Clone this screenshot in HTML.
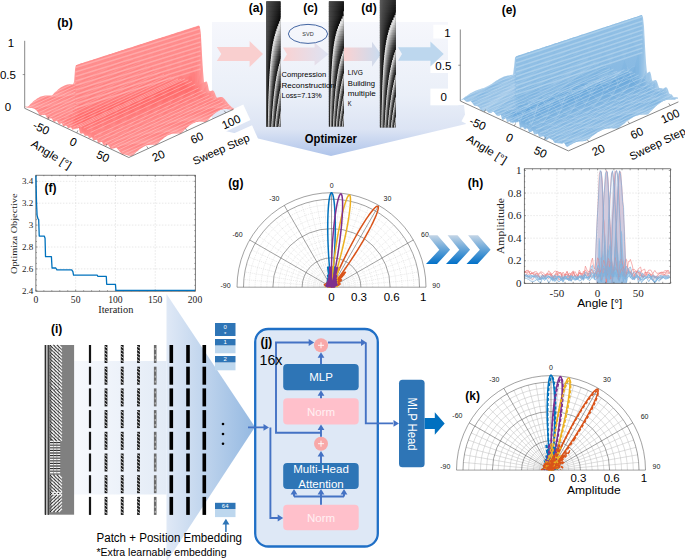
<!DOCTYPE html>
<html><head><meta charset="utf-8"><style>
html,body{margin:0;padding:0;background:#fff;}
svg{display:block;}
</style></head><body>
<svg width="685" height="560" viewBox="0 0 685 560">
<rect width="685" height="560" fill="#fff"/>
<linearGradient id="bandg" x1="0" y1="22" x2="0" y2="156" gradientUnits="userSpaceOnUse"><stop offset="0" stop-color="#F6F7FC"/><stop offset="0.55" stop-color="#EAEFF8"/><stop offset="0.8" stop-color="#DCE4F4"/><stop offset="1" stop-color="#AFC4EA"/></linearGradient>
<polygon points="212,22 448,22 448,105 464,105 466,124 331,156 256,138 212,128" fill="url(#bandg)"/>
<rect x="203" y="113.5" width="46" height="17" fill="#fff" transform="rotate(-25 226 122)"/>
<rect x="183" y="140" width="76" height="18" fill="#fff" transform="rotate(-24 221 149)"/>
<rect x="433.3" y="24.7" width="24" height="13.8" fill="#fff"/>
<rect x="430.4" y="60" width="26" height="13" fill="#fff"/>
<rect x="430.4" y="88.6" width="28" height="16.7" fill="#fff"/>
<rect x="463" y="115" width="30" height="14" fill="#fff" transform="rotate(28 478 122)"/>
<rect x="462" y="140.5" width="52" height="15" fill="#fff" transform="rotate(31.5 488 148)"/>
<linearGradient id="ar2" x1="0" x2="1"><stop offset="0" stop-color="#FAD2D2"/><stop offset="1" stop-color="#DDE3F3"/></linearGradient>
<linearGradient id="ar3" x1="0" x2="1"><stop offset="0" stop-color="#FAD2D2"/><stop offset="1" stop-color="#C9DCF0"/></linearGradient>
<polygon points="216.8,47.1 249.6,47.1 249.6,41.1 263,54 249.6,66.9 249.6,60.9 216.8,60.9 221.3,54" fill="#F9CFCF"/>
<polygon points="283,47.4 314.6,47.4 314.6,42.8 328.5,54.2 314.6,65.6 314.6,61 283,61 287,54.2" fill="url(#ar2)"/>
<polygon points="344,47.5 372,47.5 372,41.7 381,54.2 372,66.7 372,60.9 344,60.9 344,54.2" fill="url(#ar3)"/>
<polygon points="398,47.3 430.4,47.3 430.4,41.4 443.7,54 430.4,66.6 430.4,60.7 398,60.7 402,54" fill="#BDD7EE"/>
<linearGradient id="fringe" x1="0" x2="1"><stop offset="0" stop-color="#f4f4f4"/><stop offset="0.25" stop-color="#a0a0a0"/><stop offset="0.6" stop-color="#484848"/><stop offset="1" stop-color="#080808"/></linearGradient>
<clipPath id="s1c"><rect x="266.2" y="1.2" width="14.4" height="125.5"/></clipPath>
<g clip-path="url(#s1c)">
<rect x="266.2" y="1.2" width="14.4" height="125.5" fill="#0a0a0a"/>
<g fill="url(#fringe)"><rect x="240.74" y="1.2" width="46.3" height="3.1"/><rect x="242.42" y="3.7" width="43.23" height="3.1"/><rect x="243.9" y="6.2" width="40.55" height="3.1"/><rect x="245.2" y="8.7" width="38.18" height="3.1"/><rect x="246.36" y="11.2" width="36.07" height="3.1"/><rect x="247.4" y="13.7" width="34.18" height="3.1"/><rect x="248.34" y="16.2" width="32.48" height="3.1"/><rect x="249.14" y="18.7" width="31.01" height="3.1"/><rect x="280.15" y="18.7" width="31.01" height="3.1"/><rect x="250.27" y="21.2" width="28.96" height="3.1"/><rect x="279.23" y="21.2" width="28.96" height="3.1"/><rect x="251.47" y="23.7" width="26.78" height="3.1"/><rect x="278.25" y="23.7" width="26.78" height="3.1"/><rect x="252.63" y="26.2" width="24.67" height="3.1"/><rect x="277.3" y="26.2" width="24.67" height="3.1"/><rect x="253.72" y="28.7" width="22.7" height="3.1"/><rect x="276.41" y="28.7" width="22.7" height="3.1"/><rect x="254.7" y="31.2" width="20.91" height="3.1"/><rect x="275.61" y="31.2" width="20.91" height="3.1"/><rect x="255.59" y="33.7" width="19.29" height="3.1"/><rect x="274.88" y="33.7" width="19.29" height="3.1"/><rect x="256.39" y="36.2" width="17.84" height="3.1"/><rect x="274.23" y="36.2" width="17.84" height="3.1"/><rect x="257.1" y="38.7" width="16.54" height="3.1"/><rect x="273.64" y="38.7" width="16.54" height="3.1"/><rect x="257.75" y="41.2" width="15.37" height="3.1"/><rect x="273.12" y="41.2" width="15.37" height="3.1"/><rect x="258.32" y="43.7" width="14.32" height="3.1"/><rect x="272.65" y="43.7" width="14.32" height="3.1"/><rect x="258.84" y="46.2" width="13.38" height="3.1"/><rect x="272.22" y="46.2" width="13.38" height="3.1"/><rect x="259.3" y="48.7" width="12.54" height="3.1"/><rect x="271.84" y="48.7" width="12.54" height="3.1"/><rect x="259.73" y="51.2" width="11.77" height="3.1"/><rect x="271.5" y="51.2" width="11.77" height="3.1"/><rect x="260.11" y="53.7" width="11.08" height="3.1"/><rect x="271.19" y="53.7" width="11.08" height="3.1"/><rect x="260.45" y="56.2" width="10.45" height="3.1"/><rect x="270.9" y="56.2" width="10.45" height="3.1"/><rect x="260.77" y="58.7" width="9.88" height="3.1"/><rect x="270.64" y="58.7" width="9.88" height="3.1"/><rect x="280.52" y="58.7" width="9.88" height="3.1"/><rect x="261.06" y="61.2" width="9.35" height="3.1"/><rect x="270.41" y="61.2" width="9.35" height="3.1"/><rect x="279.76" y="61.2" width="9.35" height="3.1"/><rect x="261.32" y="63.7" width="8.87" height="3.1"/><rect x="270.19" y="63.7" width="8.87" height="3.1"/><rect x="279.06" y="63.7" width="8.87" height="3.1"/><rect x="261.56" y="66.2" width="8.43" height="3.1"/><rect x="269.99" y="66.2" width="8.43" height="3.1"/><rect x="278.42" y="66.2" width="8.43" height="3.1"/><rect x="261.79" y="68.7" width="8.03" height="3.1"/><rect x="269.81" y="68.7" width="8.03" height="3.1"/><rect x="277.84" y="68.7" width="8.03" height="3.1"/><rect x="261.99" y="71.2" width="7.65" height="3.1"/><rect x="269.64" y="71.2" width="7.65" height="3.1"/><rect x="277.29" y="71.2" width="7.65" height="3.1"/><rect x="262.18" y="73.7" width="7.31" height="3.1"/><rect x="269.49" y="73.7" width="7.31" height="3.1"/><rect x="276.79" y="73.7" width="7.31" height="3.1"/><rect x="262.36" y="76.2" width="6.98" height="3.1"/><rect x="269.34" y="76.2" width="6.98" height="3.1"/><rect x="276.33" y="76.2" width="6.98" height="3.1"/><rect x="262.52" y="78.7" width="6.69" height="3.1"/><rect x="269.21" y="78.7" width="6.69" height="3.1"/><rect x="275.9" y="78.7" width="6.69" height="3.1"/><rect x="262.67" y="81.2" width="6.41" height="3.1"/><rect x="269.08" y="81.2" width="6.41" height="3.1"/><rect x="275.49" y="81.2" width="6.41" height="3.1"/><rect x="262.82" y="83.7" width="6.15" height="3.1"/><rect x="268.97" y="83.7" width="6.15" height="3.1"/><rect x="275.12" y="83.7" width="6.15" height="3.1"/><rect x="262.95" y="86.2" width="5.91" height="3.1"/><rect x="268.86" y="86.2" width="5.91" height="3.1"/><rect x="274.77" y="86.2" width="5.91" height="3.1"/><rect x="263.07" y="88.7" width="5.69" height="3.1"/><rect x="268.76" y="88.7" width="5.69" height="3.1"/><rect x="274.44" y="88.7" width="5.69" height="3.1"/><rect x="280.13" y="88.7" width="5.69" height="3.1"/><rect x="263.19" y="91.2" width="5.47" height="3.1"/><rect x="268.66" y="91.2" width="5.47" height="3.1"/><rect x="274.14" y="91.2" width="5.47" height="3.1"/><rect x="279.61" y="91.2" width="5.47" height="3.1"/><rect x="263.3" y="93.7" width="5.28" height="3.1"/><rect x="268.57" y="93.7" width="5.28" height="3.1"/><rect x="273.85" y="93.7" width="5.28" height="3.1"/><rect x="279.12" y="93.7" width="5.28" height="3.1"/><rect x="263.4" y="96.2" width="5.09" height="3.1"/><rect x="268.49" y="96.2" width="5.09" height="3.1"/><rect x="273.58" y="96.2" width="5.09" height="3.1"/><rect x="278.67" y="96.2" width="5.09" height="3.1"/><rect x="263.5" y="98.7" width="4.91" height="3.1"/><rect x="268.41" y="98.7" width="4.91" height="3.1"/><rect x="273.32" y="98.7" width="4.91" height="3.1"/><rect x="278.24" y="98.7" width="4.91" height="3.1"/><rect x="263.59" y="101.2" width="4.75" height="3.1"/><rect x="268.34" y="101.2" width="4.75" height="3.1"/><rect x="273.08" y="101.2" width="4.75" height="3.1"/><rect x="277.83" y="101.2" width="4.75" height="3.1"/><rect x="263.67" y="103.7" width="4.59" height="3.1"/><rect x="268.27" y="103.7" width="4.59" height="3.1"/><rect x="272.86" y="103.7" width="4.59" height="3.1"/><rect x="277.45" y="103.7" width="4.59" height="3.1"/><rect x="263.76" y="106.2" width="4.44" height="3.1"/><rect x="268.2" y="106.2" width="4.44" height="3.1"/><rect x="272.64" y="106.2" width="4.44" height="3.1"/><rect x="277.09" y="106.2" width="4.44" height="3.1"/><rect x="263.83" y="108.7" width="4.3" height="3.1"/><rect x="268.14" y="108.7" width="4.3" height="3.1"/><rect x="272.44" y="108.7" width="4.3" height="3.1"/><rect x="276.74" y="108.7" width="4.3" height="3.1"/><rect x="263.91" y="111.2" width="4.17" height="3.1"/><rect x="268.08" y="111.2" width="4.17" height="3.1"/><rect x="272.25" y="111.2" width="4.17" height="3.1"/><rect x="276.42" y="111.2" width="4.17" height="3.1"/><rect x="280.59" y="111.2" width="4.17" height="3.1"/><rect x="263.97" y="113.7" width="4.05" height="3.1"/><rect x="268.02" y="113.7" width="4.05" height="3.1"/><rect x="272.07" y="113.7" width="4.05" height="3.1"/><rect x="276.11" y="113.7" width="4.05" height="3.1"/><rect x="280.16" y="113.7" width="4.05" height="3.1"/><rect x="264.04" y="116.2" width="3.93" height="3.1"/><rect x="267.97" y="116.2" width="3.93" height="3.1"/><rect x="271.89" y="116.2" width="3.93" height="3.1"/><rect x="275.82" y="116.2" width="3.93" height="3.1"/><rect x="279.75" y="116.2" width="3.93" height="3.1"/><rect x="264.1" y="118.7" width="3.81" height="3.1"/><rect x="267.92" y="118.7" width="3.81" height="3.1"/><rect x="271.73" y="118.7" width="3.81" height="3.1"/><rect x="275.54" y="118.7" width="3.81" height="3.1"/><rect x="279.36" y="118.7" width="3.81" height="3.1"/><rect x="264.16" y="121.2" width="3.71" height="3.1"/><rect x="267.87" y="121.2" width="3.71" height="3.1"/><rect x="271.57" y="121.2" width="3.71" height="3.1"/><rect x="275.28" y="121.2" width="3.71" height="3.1"/><rect x="278.98" y="121.2" width="3.71" height="3.1"/><rect x="264.22" y="123.7" width="3.6" height="3.1"/><rect x="267.82" y="123.7" width="3.6" height="3.1"/><rect x="271.42" y="123.7" width="3.6" height="3.1"/><rect x="275.03" y="123.7" width="3.6" height="3.1"/><rect x="278.63" y="123.7" width="3.6" height="3.1"/><rect x="264.27" y="126.2" width="3.5" height="3.1"/><rect x="267.78" y="126.2" width="3.5" height="3.1"/><rect x="271.28" y="126.2" width="3.5" height="3.1"/><rect x="274.79" y="126.2" width="3.5" height="3.1"/><rect x="278.29" y="126.2" width="3.5" height="3.1"/></g>
</g>
<clipPath id="s2c"><rect x="328.8" y="1.2" width="15.1" height="125.2"/></clipPath>
<g clip-path="url(#s2c)">
<rect x="328.8" y="1.2" width="15.1" height="125.2" fill="#0a0a0a"/>
<g fill="url(#fringe)"><rect x="300.95" y="1.2" width="48.02" height="3.1"/><rect x="303.29" y="3.7" width="43.99" height="3.1"/><rect x="305.26" y="6.2" width="40.58" height="3.1"/><rect x="306.96" y="8.7" width="37.66" height="3.1"/><rect x="308.42" y="11.2" width="35.13" height="3.1"/><rect x="343.56" y="11.2" width="35.13" height="3.1"/><rect x="308.23" y="13.7" width="35.46" height="3.1"/><rect x="343.69" y="13.7" width="35.46" height="3.1"/><rect x="309.81" y="16.2" width="32.74" height="3.1"/><rect x="342.55" y="16.2" width="32.74" height="3.1"/><rect x="311.58" y="18.7" width="29.69" height="3.1"/><rect x="341.27" y="18.7" width="29.69" height="3.1"/><rect x="313.26" y="21.2" width="26.79" height="3.1"/><rect x="340.05" y="21.2" width="26.79" height="3.1"/><rect x="314.78" y="23.7" width="24.16" height="3.1"/><rect x="338.95" y="23.7" width="24.16" height="3.1"/><rect x="316.13" y="26.2" width="21.85" height="3.1"/><rect x="337.98" y="26.2" width="21.85" height="3.1"/><rect x="317.3" y="28.7" width="19.82" height="3.1"/><rect x="337.12" y="28.7" width="19.82" height="3.1"/><rect x="318.33" y="31.2" width="18.05" height="3.1"/><rect x="336.38" y="31.2" width="18.05" height="3.1"/><rect x="319.22" y="33.7" width="16.51" height="3.1"/><rect x="335.73" y="33.7" width="16.51" height="3.1"/><rect x="320.01" y="36.2" width="15.16" height="3.1"/><rect x="335.17" y="36.2" width="15.16" height="3.1"/><rect x="320.69" y="38.7" width="13.98" height="3.1"/><rect x="334.67" y="38.7" width="13.98" height="3.1"/><rect x="321.3" y="41.2" width="12.93" height="3.1"/><rect x="334.23" y="41.2" width="12.93" height="3.1"/><rect x="321.84" y="43.7" width="12.01" height="3.1"/><rect x="333.84" y="43.7" width="12.01" height="3.1"/><rect x="322.31" y="46.2" width="11.18" height="3.1"/><rect x="333.5" y="46.2" width="11.18" height="3.1"/><rect x="322.74" y="48.7" width="10.45" height="3.1"/><rect x="333.19" y="48.7" width="10.45" height="3.1"/><rect x="343.64" y="48.7" width="10.45" height="3.1"/><rect x="323.12" y="51.2" width="9.79" height="3.1"/><rect x="332.91" y="51.2" width="9.79" height="3.1"/><rect x="342.7" y="51.2" width="9.79" height="3.1"/><rect x="323.47" y="53.7" width="9.2" height="3.1"/><rect x="332.66" y="53.7" width="9.2" height="3.1"/><rect x="341.86" y="53.7" width="9.2" height="3.1"/><rect x="323.78" y="56.2" width="8.66" height="3.1"/><rect x="332.44" y="56.2" width="8.66" height="3.1"/><rect x="341.1" y="56.2" width="8.66" height="3.1"/><rect x="324.06" y="58.7" width="8.18" height="3.1"/><rect x="332.23" y="58.7" width="8.18" height="3.1"/><rect x="340.41" y="58.7" width="8.18" height="3.1"/><rect x="324.31" y="61.2" width="7.74" height="3.1"/><rect x="332.05" y="61.2" width="7.74" height="3.1"/><rect x="339.78" y="61.2" width="7.74" height="3.1"/><rect x="324.55" y="63.7" width="7.33" height="3.1"/><rect x="331.88" y="63.7" width="7.33" height="3.1"/><rect x="339.21" y="63.7" width="7.33" height="3.1"/><rect x="324.76" y="66.2" width="6.96" height="3.1"/><rect x="331.72" y="66.2" width="6.96" height="3.1"/><rect x="338.69" y="66.2" width="6.96" height="3.1"/><rect x="324.96" y="68.7" width="6.62" height="3.1"/><rect x="331.58" y="68.7" width="6.62" height="3.1"/><rect x="338.21" y="68.7" width="6.62" height="3.1"/><rect x="325.14" y="71.2" width="6.31" height="3.1"/><rect x="331.45" y="71.2" width="6.31" height="3.1"/><rect x="337.76" y="71.2" width="6.31" height="3.1"/><rect x="325.31" y="73.7" width="6.02" height="3.1"/><rect x="331.33" y="73.7" width="6.02" height="3.1"/><rect x="337.36" y="73.7" width="6.02" height="3.1"/><rect x="343.38" y="73.7" width="6.02" height="3.1"/><rect x="325.46" y="76.2" width="5.76" height="3.1"/><rect x="331.22" y="76.2" width="5.76" height="3.1"/><rect x="336.98" y="76.2" width="5.76" height="3.1"/><rect x="342.74" y="76.2" width="5.76" height="3.1"/><rect x="325.6" y="78.7" width="5.51" height="3.1"/><rect x="331.11" y="78.7" width="5.51" height="3.1"/><rect x="336.63" y="78.7" width="5.51" height="3.1"/><rect x="342.14" y="78.7" width="5.51" height="3.1"/><rect x="325.74" y="81.2" width="5.28" height="3.1"/><rect x="331.02" y="81.2" width="5.28" height="3.1"/><rect x="336.3" y="81.2" width="5.28" height="3.1"/><rect x="341.58" y="81.2" width="5.28" height="3.1"/><rect x="325.86" y="83.7" width="5.07" height="3.1"/><rect x="330.93" y="83.7" width="5.07" height="3.1"/><rect x="336" y="83.7" width="5.07" height="3.1"/><rect x="341.07" y="83.7" width="5.07" height="3.1"/><rect x="325.98" y="86.2" width="4.87" height="3.1"/><rect x="330.85" y="86.2" width="4.87" height="3.1"/><rect x="335.72" y="86.2" width="4.87" height="3.1"/><rect x="340.58" y="86.2" width="4.87" height="3.1"/><rect x="326.08" y="88.7" width="4.68" height="3.1"/><rect x="330.77" y="88.7" width="4.68" height="3.1"/><rect x="335.45" y="88.7" width="4.68" height="3.1"/><rect x="340.13" y="88.7" width="4.68" height="3.1"/><rect x="326.18" y="91.2" width="4.51" height="3.1"/><rect x="330.69" y="91.2" width="4.51" height="3.1"/><rect x="335.2" y="91.2" width="4.51" height="3.1"/><rect x="339.71" y="91.2" width="4.51" height="3.1"/><rect x="326.28" y="93.7" width="4.35" height="3.1"/><rect x="330.63" y="93.7" width="4.35" height="3.1"/><rect x="334.97" y="93.7" width="4.35" height="3.1"/><rect x="339.32" y="93.7" width="4.35" height="3.1"/><rect x="343.66" y="93.7" width="4.35" height="3.1"/><rect x="326.37" y="96.2" width="4.19" height="3.1"/><rect x="330.56" y="96.2" width="4.19" height="3.1"/><rect x="334.75" y="96.2" width="4.19" height="3.1"/><rect x="338.94" y="96.2" width="4.19" height="3.1"/><rect x="343.14" y="96.2" width="4.19" height="3.1"/><rect x="326.45" y="98.7" width="4.05" height="3.1"/><rect x="330.5" y="98.7" width="4.05" height="3.1"/><rect x="334.55" y="98.7" width="4.05" height="3.1"/><rect x="338.59" y="98.7" width="4.05" height="3.1"/><rect x="342.64" y="98.7" width="4.05" height="3.1"/><rect x="326.53" y="101.2" width="3.91" height="3.1"/><rect x="330.44" y="101.2" width="3.91" height="3.1"/><rect x="334.35" y="101.2" width="3.91" height="3.1"/><rect x="338.26" y="101.2" width="3.91" height="3.1"/><rect x="342.18" y="101.2" width="3.91" height="3.1"/><rect x="326.61" y="103.7" width="3.78" height="3.1"/><rect x="330.39" y="103.7" width="3.78" height="3.1"/><rect x="334.17" y="103.7" width="3.78" height="3.1"/><rect x="337.95" y="103.7" width="3.78" height="3.1"/><rect x="341.74" y="103.7" width="3.78" height="3.1"/><rect x="326.68" y="106.2" width="3.66" height="3.1"/><rect x="330.34" y="106.2" width="3.66" height="3.1"/><rect x="334" y="106.2" width="3.66" height="3.1"/><rect x="337.66" y="106.2" width="3.66" height="3.1"/><rect x="341.32" y="106.2" width="3.66" height="3.1"/><rect x="326.74" y="108.7" width="3.55" height="3.1"/><rect x="330.29" y="108.7" width="3.55" height="3.1"/><rect x="333.84" y="108.7" width="3.55" height="3.1"/><rect x="337.38" y="108.7" width="3.55" height="3.1"/><rect x="340.93" y="108.7" width="3.55" height="3.1"/><rect x="326.81" y="111.2" width="3.44" height="3.1"/><rect x="330.24" y="111.2" width="3.44" height="3.1"/><rect x="333.68" y="111.2" width="3.44" height="3.1"/><rect x="337.12" y="111.2" width="3.44" height="3.1"/><rect x="340.55" y="111.2" width="3.44" height="3.1"/><rect x="326.87" y="113.7" width="3.33" height="3.1"/><rect x="330.2" y="113.7" width="3.33" height="3.1"/><rect x="333.53" y="113.7" width="3.33" height="3.1"/><rect x="336.87" y="113.7" width="3.33" height="3.1"/><rect x="340.2" y="113.7" width="3.33" height="3.1"/><rect x="343.54" y="113.7" width="3.33" height="3.1"/><rect x="326.92" y="116.2" width="3.24" height="3.1"/><rect x="330.16" y="116.2" width="3.24" height="3.1"/><rect x="333.39" y="116.2" width="3.24" height="3.1"/><rect x="336.63" y="116.2" width="3.24" height="3.1"/><rect x="339.87" y="116.2" width="3.24" height="3.1"/><rect x="343.1" y="116.2" width="3.24" height="3.1"/><rect x="326.98" y="118.7" width="3.14" height="3.1"/><rect x="330.12" y="118.7" width="3.14" height="3.1"/><rect x="333.26" y="118.7" width="3.14" height="3.1"/><rect x="336.41" y="118.7" width="3.14" height="3.1"/><rect x="339.55" y="118.7" width="3.14" height="3.1"/><rect x="342.69" y="118.7" width="3.14" height="3.1"/><rect x="327.03" y="121.2" width="3.05" height="3.1"/><rect x="330.08" y="121.2" width="3.05" height="3.1"/><rect x="333.14" y="121.2" width="3.05" height="3.1"/><rect x="336.19" y="121.2" width="3.05" height="3.1"/><rect x="339.24" y="121.2" width="3.05" height="3.1"/><rect x="342.3" y="121.2" width="3.05" height="3.1"/><rect x="327.08" y="123.7" width="2.97" height="3.1"/><rect x="330.05" y="123.7" width="2.97" height="3.1"/><rect x="333.02" y="123.7" width="2.97" height="3.1"/><rect x="335.99" y="123.7" width="2.97" height="3.1"/><rect x="338.96" y="123.7" width="2.97" height="3.1"/><rect x="341.93" y="123.7" width="2.97" height="3.1"/><rect x="327.12" y="126.2" width="2.89" height="3.1"/><rect x="330.01" y="126.2" width="2.89" height="3.1"/><rect x="332.9" y="126.2" width="2.89" height="3.1"/><rect x="335.79" y="126.2" width="2.89" height="3.1"/><rect x="338.68" y="126.2" width="2.89" height="3.1"/><rect x="341.57" y="126.2" width="2.89" height="3.1"/></g>
</g>
<clipPath id="s3c"><rect x="379.8" y="0" width="16" height="127.5"/></clipPath>
<g clip-path="url(#s3c)">
<rect x="379.8" y="0" width="16" height="127.5" fill="#0a0a0a"/>
<g fill="url(#fringe)"><rect x="353.34" y="0" width="50.89" height="3.1"/><rect x="355.56" y="2.5" width="46.61" height="3.1"/><rect x="357.44" y="5" width="43" height="3.1"/><rect x="359.05" y="7.5" width="39.9" height="3.1"/><rect x="360.44" y="10" width="37.23" height="3.1"/><rect x="362.66" y="12.5" width="32.96" height="3.1"/><rect x="395.62" y="12.5" width="32.96" height="3.1"/><rect x="363.76" y="15" width="30.84" height="3.1"/><rect x="394.6" y="15" width="30.84" height="3.1"/><rect x="365.03" y="17.5" width="28.4" height="3.1"/><rect x="393.43" y="17.5" width="28.4" height="3.1"/><rect x="366.28" y="20" width="26.01" height="3.1"/><rect x="392.28" y="20" width="26.01" height="3.1"/><rect x="367.43" y="22.5" width="23.78" height="3.1"/><rect x="391.21" y="22.5" width="23.78" height="3.1"/><rect x="368.48" y="25" width="21.76" height="3.1"/><rect x="390.25" y="25" width="21.76" height="3.1"/><rect x="369.42" y="27.5" width="19.96" height="3.1"/><rect x="389.38" y="27.5" width="19.96" height="3.1"/><rect x="370.26" y="30" width="18.35" height="3.1"/><rect x="388.61" y="30" width="18.35" height="3.1"/><rect x="371" y="32.5" width="16.92" height="3.1"/><rect x="387.92" y="32.5" width="16.92" height="3.1"/><rect x="371.66" y="35" width="15.65" height="3.1"/><rect x="387.31" y="35" width="15.65" height="3.1"/><rect x="372.25" y="37.5" width="14.52" height="3.1"/><rect x="386.77" y="37.5" width="14.52" height="3.1"/><rect x="372.77" y="40" width="13.52" height="3.1"/><rect x="386.29" y="40" width="13.52" height="3.1"/><rect x="373.24" y="42.5" width="12.61" height="3.1"/><rect x="385.85" y="42.5" width="12.61" height="3.1"/><rect x="373.66" y="45" width="11.8" height="3.1"/><rect x="385.47" y="45" width="11.8" height="3.1"/><rect x="374.04" y="47.5" width="11.07" height="3.1"/><rect x="385.12" y="47.5" width="11.07" height="3.1"/><rect x="374.38" y="50" width="10.41" height="3.1"/><rect x="384.8" y="50" width="10.41" height="3.1"/><rect x="395.21" y="50" width="10.41" height="3.1"/><rect x="374.7" y="52.5" width="9.82" height="3.1"/><rect x="384.51" y="52.5" width="9.82" height="3.1"/><rect x="394.33" y="52.5" width="9.82" height="3.1"/><rect x="374.98" y="55" width="9.27" height="3.1"/><rect x="384.25" y="55" width="9.27" height="3.1"/><rect x="393.52" y="55" width="9.27" height="3.1"/><rect x="375.24" y="57.5" width="8.78" height="3.1"/><rect x="384.01" y="57.5" width="8.78" height="3.1"/><rect x="392.79" y="57.5" width="8.78" height="3.1"/><rect x="375.47" y="60" width="8.32" height="3.1"/><rect x="383.8" y="60" width="8.32" height="3.1"/><rect x="392.12" y="60" width="8.32" height="3.1"/><rect x="375.69" y="62.5" width="7.91" height="3.1"/><rect x="383.6" y="62.5" width="7.91" height="3.1"/><rect x="391.51" y="62.5" width="7.91" height="3.1"/><rect x="375.89" y="65" width="7.53" height="3.1"/><rect x="383.41" y="65" width="7.53" height="3.1"/><rect x="390.94" y="65" width="7.53" height="3.1"/><rect x="376.07" y="67.5" width="7.17" height="3.1"/><rect x="383.24" y="67.5" width="7.17" height="3.1"/><rect x="390.42" y="67.5" width="7.17" height="3.1"/><rect x="376.24" y="70" width="6.85" height="3.1"/><rect x="383.09" y="70" width="6.85" height="3.1"/><rect x="389.94" y="70" width="6.85" height="3.1"/><rect x="376.4" y="72.5" width="6.55" height="3.1"/><rect x="382.94" y="72.5" width="6.55" height="3.1"/><rect x="389.49" y="72.5" width="6.55" height="3.1"/><rect x="376.54" y="75" width="6.27" height="3.1"/><rect x="382.81" y="75" width="6.27" height="3.1"/><rect x="389.08" y="75" width="6.27" height="3.1"/><rect x="395.35" y="75" width="6.27" height="3.1"/><rect x="376.68" y="77.5" width="6.01" height="3.1"/><rect x="382.68" y="77.5" width="6.01" height="3.1"/><rect x="388.69" y="77.5" width="6.01" height="3.1"/><rect x="394.7" y="77.5" width="6.01" height="3.1"/><rect x="376.8" y="80" width="5.77" height="3.1"/><rect x="382.57" y="80" width="5.77" height="3.1"/><rect x="388.33" y="80" width="5.77" height="3.1"/><rect x="394.1" y="80" width="5.77" height="3.1"/><rect x="376.92" y="82.5" width="5.54" height="3.1"/><rect x="382.46" y="82.5" width="5.54" height="3.1"/><rect x="388" y="82.5" width="5.54" height="3.1"/><rect x="393.54" y="82.5" width="5.54" height="3.1"/><rect x="377.03" y="85" width="5.33" height="3.1"/><rect x="382.36" y="85" width="5.33" height="3.1"/><rect x="387.69" y="85" width="5.33" height="3.1"/><rect x="393.01" y="85" width="5.33" height="3.1"/><rect x="377.13" y="87.5" width="5.13" height="3.1"/><rect x="382.26" y="87.5" width="5.13" height="3.1"/><rect x="387.39" y="87.5" width="5.13" height="3.1"/><rect x="392.52" y="87.5" width="5.13" height="3.1"/><rect x="377.23" y="90" width="4.94" height="3.1"/><rect x="382.17" y="90" width="4.94" height="3.1"/><rect x="387.12" y="90" width="4.94" height="3.1"/><rect x="392.06" y="90" width="4.94" height="3.1"/><rect x="377.32" y="92.5" width="4.77" height="3.1"/><rect x="382.09" y="92.5" width="4.77" height="3.1"/><rect x="386.86" y="92.5" width="4.77" height="3.1"/><rect x="391.63" y="92.5" width="4.77" height="3.1"/><rect x="377.41" y="95" width="4.6" height="3.1"/><rect x="382.01" y="95" width="4.6" height="3.1"/><rect x="386.61" y="95" width="4.6" height="3.1"/><rect x="391.22" y="95" width="4.6" height="3.1"/><rect x="377.49" y="97.5" width="4.45" height="3.1"/><rect x="381.94" y="97.5" width="4.45" height="3.1"/><rect x="386.38" y="97.5" width="4.45" height="3.1"/><rect x="390.83" y="97.5" width="4.45" height="3.1"/><rect x="395.28" y="97.5" width="4.45" height="3.1"/><rect x="377.56" y="100" width="4.3" height="3.1"/><rect x="381.87" y="100" width="4.3" height="3.1"/><rect x="386.17" y="100" width="4.3" height="3.1"/><rect x="390.47" y="100" width="4.3" height="3.1"/><rect x="394.77" y="100" width="4.3" height="3.1"/><rect x="377.63" y="102.5" width="4.16" height="3.1"/><rect x="381.8" y="102.5" width="4.16" height="3.1"/><rect x="385.96" y="102.5" width="4.16" height="3.1"/><rect x="390.13" y="102.5" width="4.16" height="3.1"/><rect x="394.29" y="102.5" width="4.16" height="3.1"/><rect x="377.7" y="105" width="4.03" height="3.1"/><rect x="381.74" y="105" width="4.03" height="3.1"/><rect x="385.77" y="105" width="4.03" height="3.1"/><rect x="389.8" y="105" width="4.03" height="3.1"/><rect x="393.84" y="105" width="4.03" height="3.1"/><rect x="377.77" y="107.5" width="3.91" height="3.1"/><rect x="381.68" y="107.5" width="3.91" height="3.1"/><rect x="385.59" y="107.5" width="3.91" height="3.1"/><rect x="389.5" y="107.5" width="3.91" height="3.1"/><rect x="393.41" y="107.5" width="3.91" height="3.1"/><rect x="377.83" y="110" width="3.79" height="3.1"/><rect x="381.62" y="110" width="3.79" height="3.1"/><rect x="385.41" y="110" width="3.79" height="3.1"/><rect x="389.2" y="110" width="3.79" height="3.1"/><rect x="393" y="110" width="3.79" height="3.1"/><rect x="377.89" y="112.5" width="3.68" height="3.1"/><rect x="381.57" y="112.5" width="3.68" height="3.1"/><rect x="385.25" y="112.5" width="3.68" height="3.1"/><rect x="388.93" y="112.5" width="3.68" height="3.1"/><rect x="392.61" y="112.5" width="3.68" height="3.1"/><rect x="377.94" y="115" width="3.57" height="3.1"/><rect x="381.52" y="115" width="3.57" height="3.1"/><rect x="385.09" y="115" width="3.57" height="3.1"/><rect x="388.66" y="115" width="3.57" height="3.1"/><rect x="392.24" y="115" width="3.57" height="3.1"/><rect x="377.99" y="117.5" width="3.47" height="3.1"/><rect x="381.47" y="117.5" width="3.47" height="3.1"/><rect x="384.94" y="117.5" width="3.47" height="3.1"/><rect x="388.41" y="117.5" width="3.47" height="3.1"/><rect x="391.89" y="117.5" width="3.47" height="3.1"/><rect x="395.36" y="117.5" width="3.47" height="3.1"/><rect x="378.04" y="120" width="3.38" height="3.1"/><rect x="381.42" y="120" width="3.38" height="3.1"/><rect x="384.8" y="120" width="3.38" height="3.1"/><rect x="388.17" y="120" width="3.38" height="3.1"/><rect x="391.55" y="120" width="3.38" height="3.1"/><rect x="394.93" y="120" width="3.38" height="3.1"/><rect x="378.09" y="122.5" width="3.29" height="3.1"/><rect x="381.38" y="122.5" width="3.29" height="3.1"/><rect x="384.66" y="122.5" width="3.29" height="3.1"/><rect x="387.95" y="122.5" width="3.29" height="3.1"/><rect x="391.23" y="122.5" width="3.29" height="3.1"/><rect x="394.52" y="122.5" width="3.29" height="3.1"/><rect x="378.14" y="125" width="3.2" height="3.1"/><rect x="381.33" y="125" width="3.2" height="3.1"/><rect x="384.53" y="125" width="3.2" height="3.1"/><rect x="387.73" y="125" width="3.2" height="3.1"/><rect x="390.93" y="125" width="3.2" height="3.1"/><rect x="394.13" y="125" width="3.2" height="3.1"/></g>
</g>
<text x="256" y="12.3" font-size="12" fill="#000" font-family="'Liberation Sans',sans-serif" text-anchor="middle" font-weight="bold">(a)</text>
<text x="310.5" y="12.3" font-size="12" fill="#000" font-family="'Liberation Sans',sans-serif" text-anchor="middle" font-weight="bold">(c)</text>
<text x="369" y="12.3" font-size="12" fill="#000" font-family="'Liberation Sans',sans-serif" text-anchor="middle" font-weight="bold">(d)</text>
<ellipse cx="308" cy="33.9" rx="19.6" ry="9.5" fill="none" stroke="#2F5597" stroke-width="0.9"/>
<text x="308" y="36" font-size="5.5" fill="#333" font-family="'Liberation Sans',sans-serif" text-anchor="middle">SVD</text>
<text x="281.6" y="77" font-size="7.8" fill="#000" font-family="'Liberation Sans',sans-serif" textLength="44.6" lengthAdjust="spacingAndGlyphs">Compression</text>
<text x="281.6" y="87.6" font-size="7.8" fill="#000" font-family="'Liberation Sans',sans-serif" textLength="53.2" lengthAdjust="spacingAndGlyphs">Reconstruction</text>
<text x="281.6" y="98.2" font-size="7.8" fill="#000" font-family="'Liberation Sans',sans-serif" textLength="40.2" lengthAdjust="spacingAndGlyphs">Loss=7.13%</text>
<text x="347.8" y="75.1" font-size="7.8" fill="#000" font-family="'Liberation Sans',sans-serif" textLength="15.1" lengthAdjust="spacingAndGlyphs">LIVG</text>
<text x="347.8" y="85.55" font-size="7.8" fill="#000" font-family="'Liberation Sans',sans-serif" textLength="27.2" lengthAdjust="spacingAndGlyphs">Building</text>
<text x="347.8" y="96" font-size="7.8" fill="#000" font-family="'Liberation Sans',sans-serif" textLength="27.9" lengthAdjust="spacingAndGlyphs">multiple</text>
<text x="347.8" y="106.45" font-size="7.8" fill="#000" font-family="'Liberation Sans',sans-serif" textLength="3.8" lengthAdjust="spacingAndGlyphs">K</text>
<text x="330.8" y="143.4" font-size="12" fill="#000" font-family="'Liberation Sans',sans-serif" text-anchor="middle" font-weight="bold" textLength="52" lengthAdjust="spacingAndGlyphs">Optimizer</text>
<clipPath id="clipFFA0A0"><path d="M25 106.5 26 106.6 27 106.7 28 106.6 29 105.7 30 104.4 31 103.5 32 102.7 33 101.5 34 100.7 35 100 36 99.4 37 98.5 38 97.9 39 97.4 40 96.8 41 96.5 42 96.2 43 95.9 44 95.7 45 95.6 46 95.5 47 95.4 48 95.4 49 95.5 50 95.5 51 95.6 52 95.4 53 94.5 54 93.2 55 92.3 56 91.5 57 90.7 58 89.5 59 88.8 60 88.1 61 87.2 62 86.7 63 86.2 64 85.7 65 85.2 66 84.9 67 84.6 68 84.5 69 84.3 70 84.2 71 84.2 72 84.2 73 84.2 74 82.1 75 69.5 76 65.1 77 64.9 78 64.5 79 64.2 80 63.8 81 63.6 82 63.1 83 62.9 84 62.5 85 62.3 86 61.8 87 61.7 88 61.2 89 61.1 90 60.5 91 60.4 92 60 93 59.8 94 59.3 95 59.1 96 58.7 97 58.4 98 58 99 57.7 100 57.4 101 57 102 56.7 103 56.4 104 56.1 105 55.7 106 55.4 107 55.2 108 54.8 109 54.6 110 54.1 111 53.9 112 53.5 113 53.2 114 52.9 115 52.5 116 52.3 117 51.9 118 51.6 119 51.2 120 51 121 50.5 122 50.3 123 49.9 124 49.7 125 49.2 126 49.1 127 48.6 128 48.4 129 48 130 47.8 131 47.4 132 47.2 133 46.7 134 46.5 135 46.1 136 45.8 137 45.4 138 45.1 139 44.7 140 44.4 141 44.1 142 44 143 43.4 144 43.3 145 42.8 146 42.7 147 42.1 148 42 149 41.6 150 41.3 151 40.9 152 40.6 153 40.3 154 39.9 155 39.6 156 39.3 157 39 158 38.6 159 38.3 160 37.9 161 37.7 162 37.3 163 37.1 164 36.8 165 36.4 166 36.1 167 35.8 168 35.5 169 35.2 170 34.8 171 34.5 172 34.1 173 33.9 174 33.5 175 33.2 176 32.8 177 32.6 178 32.1 179 32 180 31.5 181 31.4 182 30.8 183 30.7 184 30.3 185 30.1 186 29.6 187 29.4 188 29 189 28.7 190 28.3 191 28 192 27.7 193 27.3 194 27 195 26.7 196 26.4 197 26 198 25.7 199 25.6 200 27.7 201 36.3 202 54.7 203 70.7 204 82.3 205 82 206 81.6 207 81.8 208 85.5 209 90.5 210 91.1 211 90.9 212 90.6 213 90.5 214 91.2 215 93.6 216 96.3 217 97.7 218 97.5 219 97.3 220 97.1 221 97 222 97.1 223 97.5 224 98.5 225 99.5 226 100.9 227 102 228 103.4 229 104.4 230 105.6 231 106.4 232 107.4 233 107.9 234 108.4 234 108.4 233 109.4 232 109.9 231 109.7 230 109.6 229 109.3 228 109.2 227 109.1 226 109 225 109.1 224 109.1 223 109.3 222 109.5 221 109.8 220 110.1 219 110.7 218 111.2 217 111.7 216 112.6 215 113.2 214 113.9 213 114.7 212 115.9 211 116.7 210 117.6 209 119 208 119.9 207 120.9 206 121.8 205 122.1 204 121.9 203 121.8 202 121.7 201 121.6 200 121.6 199 121.6 198 121.8 197 121.9 196 122.1 195 122.5 194 122.9 193 123.3 192 123.7 191 124.5 190 125.1 189 125.8 188 126.8 187 127.6 186 128.4 185 129.2 184 130.5 183 131.4 182 132.3 181 133.2 180 133.7 179 133.6 178 133.5 177 133.4 176 133.4 175 133.4 174 133.4 173 133.6 172 133.7 171 134 170 134.4 169 134.7 168 135.2 167 135.6 166 136.4 165 137 164 137.7 163 138.7 162 139.5 161 140.3 160 141.1 159 142.4 158 143.3 157 144.2 156 144.9 155 144.8 154 144.8 153 144.7 152 144.7 151 144.7 150 144.7 149 144.9 148 145 147 145.2 146 145.5 145 146 144 146.4 143 146.9 142 147.7 141 148.3 140 148.9 139 149.6 138 150.7 137 151.5 136 152.3 135 153.2 134 154.5 133 155.3 132 155.9 131 155.9 130 155.8 129 155.7 128 155.4 127 155.1 126 154.9 125 154.6 124 154.6 123 154.6 122 154.4 121 153.1 120 152 119 150.6 118 149.6 117 148.3 116 147.8 115 148.1 114 148.3 113 148.5 112 148.8 111 149 110 147.7 109 145.9 108 144.7 107 144.9 106 145 105 145.5 104 145.6 103 144 102 142.1 101 142 100 142.5 99 142.8 98 143 97 139.5 96 140.1 95 139.9 94 140.6 93 139.9 92 137.1 91 137.9 90 137.8 89 138.5 88 135.4 87 135.9 86 135.4 85 136.3 84 134.3 83 133.3 82 133.4 81 133.7 80 132.9 79 128.2 78 127.7 77 129.1 76 128.1 75 129.6 74 128.5 73 130 72 128.9 71 127.2 70 127.8 69 127.7 68 128.6 67 126.3 66 125.4 65 125.8 64 126.3 63 126.3 62 123.1 61 123.6 60 123.7 59 124.2 58 122.3 57 121 56 121 55 121.5 54 121.9 53 120.9 52 118.4 51 118.4 50 118.3 49 118.7 48 119.1 47 117.9 46 115.8 45 114.6 44 114.9 43 115.1 42 115.1 41 115.4 40 115.5 39 114.2 38 112.2 37 111 36 109.8 35 109.2 34 108.6 33 108.3 32 108.1 31 108 30 107.9 29 107.8 28 107.7 27 107.4 26 107.2 25 106.8Z"/></clipPath>
<path d="M25 106.5 26 106.6 27 106.7 28 106.6 29 105.7 30 104.4 31 103.5 32 102.7 33 101.5 34 100.7 35 100 36 99.4 37 98.5 38 97.9 39 97.4 40 96.8 41 96.5 42 96.2 43 95.9 44 95.7 45 95.6 46 95.5 47 95.4 48 95.4 49 95.5 50 95.5 51 95.6 52 95.4 53 94.5 54 93.2 55 92.3 56 91.5 57 90.7 58 89.5 59 88.8 60 88.1 61 87.2 62 86.7 63 86.2 64 85.7 65 85.2 66 84.9 67 84.6 68 84.5 69 84.3 70 84.2 71 84.2 72 84.2 73 84.2 74 82.1 75 69.5 76 65.1 77 64.9 78 64.5 79 64.2 80 63.8 81 63.6 82 63.1 83 62.9 84 62.5 85 62.3 86 61.8 87 61.7 88 61.2 89 61.1 90 60.5 91 60.4 92 60 93 59.8 94 59.3 95 59.1 96 58.7 97 58.4 98 58 99 57.7 100 57.4 101 57 102 56.7 103 56.4 104 56.1 105 55.7 106 55.4 107 55.2 108 54.8 109 54.6 110 54.1 111 53.9 112 53.5 113 53.2 114 52.9 115 52.5 116 52.3 117 51.9 118 51.6 119 51.2 120 51 121 50.5 122 50.3 123 49.9 124 49.7 125 49.2 126 49.1 127 48.6 128 48.4 129 48 130 47.8 131 47.4 132 47.2 133 46.7 134 46.5 135 46.1 136 45.8 137 45.4 138 45.1 139 44.7 140 44.4 141 44.1 142 44 143 43.4 144 43.3 145 42.8 146 42.7 147 42.1 148 42 149 41.6 150 41.3 151 40.9 152 40.6 153 40.3 154 39.9 155 39.6 156 39.3 157 39 158 38.6 159 38.3 160 37.9 161 37.7 162 37.3 163 37.1 164 36.8 165 36.4 166 36.1 167 35.8 168 35.5 169 35.2 170 34.8 171 34.5 172 34.1 173 33.9 174 33.5 175 33.2 176 32.8 177 32.6 178 32.1 179 32 180 31.5 181 31.4 182 30.8 183 30.7 184 30.3 185 30.1 186 29.6 187 29.4 188 29 189 28.7 190 28.3 191 28 192 27.7 193 27.3 194 27 195 26.7 196 26.4 197 26 198 25.7 199 25.6 200 27.7 201 36.3 202 54.7 203 70.7 204 82.3 205 82 206 81.6 207 81.8 208 85.5 209 90.5 210 91.1 211 90.9 212 90.6 213 90.5 214 91.2 215 93.6 216 96.3 217 97.7 218 97.5 219 97.3 220 97.1 221 97 222 97.1 223 97.5 224 98.5 225 99.5 226 100.9 227 102 228 103.4 229 104.4 230 105.6 231 106.4 232 107.4 233 107.9 234 108.4 234 108.4 233 109.4 232 109.9 231 109.7 230 109.6 229 109.3 228 109.2 227 109.1 226 109 225 109.1 224 109.1 223 109.3 222 109.5 221 109.8 220 110.1 219 110.7 218 111.2 217 111.7 216 112.6 215 113.2 214 113.9 213 114.7 212 115.9 211 116.7 210 117.6 209 119 208 119.9 207 120.9 206 121.8 205 122.1 204 121.9 203 121.8 202 121.7 201 121.6 200 121.6 199 121.6 198 121.8 197 121.9 196 122.1 195 122.5 194 122.9 193 123.3 192 123.7 191 124.5 190 125.1 189 125.8 188 126.8 187 127.6 186 128.4 185 129.2 184 130.5 183 131.4 182 132.3 181 133.2 180 133.7 179 133.6 178 133.5 177 133.4 176 133.4 175 133.4 174 133.4 173 133.6 172 133.7 171 134 170 134.4 169 134.7 168 135.2 167 135.6 166 136.4 165 137 164 137.7 163 138.7 162 139.5 161 140.3 160 141.1 159 142.4 158 143.3 157 144.2 156 144.9 155 144.8 154 144.8 153 144.7 152 144.7 151 144.7 150 144.7 149 144.9 148 145 147 145.2 146 145.5 145 146 144 146.4 143 146.9 142 147.7 141 148.3 140 148.9 139 149.6 138 150.7 137 151.5 136 152.3 135 153.2 134 154.5 133 155.3 132 155.9 131 155.9 130 155.8 129 155.7 128 155.4 127 155.1 126 154.9 125 154.6 124 154.6 123 154.6 122 154.4 121 153.1 120 152 119 150.6 118 149.6 117 148.3 116 147.8 115 148.1 114 148.3 113 148.5 112 148.8 111 149 110 147.7 109 145.9 108 144.7 107 144.9 106 145 105 145.5 104 145.6 103 144 102 142.1 101 142 100 142.5 99 142.8 98 143 97 139.5 96 140.1 95 139.9 94 140.6 93 139.9 92 137.1 91 137.9 90 137.8 89 138.5 88 135.4 87 135.9 86 135.4 85 136.3 84 134.3 83 133.3 82 133.4 81 133.7 80 132.9 79 128.2 78 127.7 77 129.1 76 128.1 75 129.6 74 128.5 73 130 72 128.9 71 127.2 70 127.8 69 127.7 68 128.6 67 126.3 66 125.4 65 125.8 64 126.3 63 126.3 62 123.1 61 123.6 60 123.7 59 124.2 58 122.3 57 121 56 121 55 121.5 54 121.9 53 120.9 52 118.4 51 118.4 50 118.3 49 118.7 48 119.1 47 117.9 46 115.8 45 114.6 44 114.9 43 115.1 42 115.1 41 115.4 40 115.5 39 114.2 38 112.2 37 111 36 109.8 35 109.2 34 108.6 33 108.3 32 108.1 31 108 30 107.9 29 107.8 28 107.7 27 107.4 26 107.2 25 106.8Z" fill="#FFA0A0"/>
<g clip-path="url(#clipFFA0A0)">
<g fill="#FF6060" fill-opacity="0.16"><path d="M24.7 106.5 27.9 106.7 31 103.8 34.2 100.8 37.4 98.5 40.6 96.8 43.7 95.8 46.9 95.4 50.1 95.6 53.3 94.4 56.4 91.3 59.6 88.6 62.8 86.4 65.9 85 69.1 84.3 72.3 84.2 75.5 84.4 78.6 82.1 81.8 79 85 76.4 88.2 74.3 91.3 73 94.5 72.5 97.7 72.5 100.8 72.9 104 70.2 107.2 67 110.4 64.2 113.5 62 116.7 60.6 119.9 59.9 123.1 59.9 126.2 60.3 129.4 59.2 129.4 60.1 24.7 108.3Z"/><path d="M26.4 107.2 29.6 107.4 32.8 104.7 36 101.8 39.1 99.3 42.3 97.6 45.5 96.5 48.6 96.2 51.8 96.2 55 95.4 58.2 92.3 61.3 89.5 64.5 87.3 67.7 85.8 70.9 85 74 84.9 77.2 85.1 80.4 83.1 83.5 80 86.7 77.3 89.9 75.2 93.1 73.8 96.2 73.2 99.4 73.1 102.6 73.5 105.8 71.2 108.9 67.9 112.1 65.1 115.3 62.9 118.4 61.4 121.6 60.6 124.8 60.5 128 61 131.1 60.2 131.1 60.9 26.4 109.1Z"/><path d="M28.2 107.6 31.3 107.8 34.5 105.9 37.7 102.9 40.9 100.3 44 98.4 47.2 97.2 50.4 96.7 53.6 96.6 56.7 96.7 59.9 93.5 63.1 90.6 66.2 88.2 69.4 86.6 72.6 85.6 75.8 85.3 78.9 85.5 82.1 84.4 85.3 81.2 88.5 78.3 91.6 76.1 94.8 74.5 98 73.7 101.1 73.5 104.3 73.8 107.5 72.6 110.7 69.2 113.8 66.2 117 63.8 120.2 62.1 123.4 61.2 126.5 60.9 129.7 61.2 132.9 61.7 132.9 61.7 28.2 109.9Z"/><path d="M29.9 107.9 33.1 107.9 36.3 107.5 39.4 104.3 42.6 101.6 45.8 99.3 48.9 97.8 52.1 97 55.3 96.8 58.5 97 61.6 95 64.8 92 68 89.3 71.2 87.4 74.3 86.1 77.5 85.6 80.7 85.6 83.8 85.9 87 82.7 90.2 79.7 93.4 77.2 96.5 75.3 99.7 74.2 102.9 73.7 106.1 73.8 109.2 74.2 112.4 70.9 115.6 67.7 118.7 65 121.9 63 125.1 61.7 128.3 61.1 131.4 61.2 134.6 61.6 134.6 62.6 29.9 110.8Z"/><path d="M31.6 108.1 34.8 107.8 38 108 41.2 106.1 44.3 103.1 47.5 100.5 50.7 98.6 53.8 97.4 57 96.8 60.2 96.8 63.4 96.8 66.5 93.7 69.7 90.8 72.9 88.4 76.1 86.7 79.2 85.8 82.4 85.5 85.6 85.6 88.7 84.6 91.9 81.4 95.1 78.6 98.3 76.3 101.4 74.7 104.6 73.8 107.8 73.6 111 73.9 114.1 72.9 117.3 69.5 120.5 66.5 123.6 64.1 126.8 62.3 130 61.3 133.2 60.9 136.3 61.1 136.3 63.4 31.6 111.6Z"/><path d="M33.4 108.3 36.5 107.7 39.7 107.6 42.9 107.8 46.1 105 49.2 102.1 52.4 99.7 55.6 97.9 58.8 96.9 61.9 96.5 65.1 96.6 68.3 95.8 71.4 92.6 74.6 89.8 77.8 87.7 81 86.2 84.1 85.4 87.3 85.2 90.5 85.4 93.7 83.5 96.8 80.4 100 77.7 103.2 75.6 106.3 74.1 109.5 73.4 112.7 73.3 115.9 73.6 119 71.9 122.2 68.6 125.4 65.7 128.6 63.3 131.7 61.7 134.9 60.8 138.1 60.5 138.1 64.2 33.4 112.4Z"/><path d="M35.1 109 38.3 107.7 41.5 107.2 44.6 107.1 47.8 107.4 51 104.2 54.1 101.3 57.3 99 60.5 97.3 63.7 96.4 66.8 96 70 96.1 73.2 95 76.4 91.8 79.5 89.1 82.7 87 85.9 85.5 89 84.8 92.2 84.6 95.4 84.9 98.6 82.8 101.7 79.7 104.9 77 108.1 74.9 111.3 73.5 114.4 72.8 117.6 72.7 120.8 73 123.9 71.2 127.1 67.9 130.3 65 133.5 62.7 136.6 61 139.8 60.1 139.8 65 35.1 113.2Z"/><path d="M36.8 110.4 40 108.4 43.2 107.1 46.4 106.5 49.5 106.4 52.7 106.6 55.9 103.7 59.1 100.8 62.2 98.4 65.4 96.7 68.6 95.7 71.7 95.3 74.9 95.4 78.1 94.4 81.3 91.3 84.4 88.6 87.6 86.4 90.8 84.9 94 84.1 97.1 83.9 100.3 84 103.5 82.4 106.6 79.2 109.8 76.5 113 74.3 116.2 72.8 119.3 72 122.5 71.8 125.7 72.1 128.9 70.9 132 67.6 135.2 64.6 138.4 62.2 141.5 60.4 141.5 65.8 36.8 114Z"/><path d="M38.6 112.7 41.8 109.9 44.9 107.8 48.1 106.3 51.3 105.6 54.4 105.4 57.6 105.6 60.8 103.4 64 100.4 67.1 97.9 70.3 96 73.5 94.9 76.7 94.4 79.8 94.4 83 94.2 86.2 91 89.3 88.2 92.5 85.8 95.7 84.2 98.9 83.2 102 82.8 105.2 82.9 108.4 82.2 111.6 79 114.7 76.2 117.9 73.8 121.1 72.1 124.2 71.1 127.4 70.7 130.6 70.8 133.8 70.9 136.9 67.6 140.1 64.5 143.3 61.9 143.3 66.7 38.6 114.9Z"/><path d="M40.3 115.5 43.5 112.6 46.7 109.7 49.8 107.3 53 105.6 56.2 104.6 59.4 104.3 62.5 104.4 65.7 103.3 68.9 100.3 72 97.6 75.2 95.4 78.4 94 81.6 93.3 84.7 93.1 87.9 93.3 91.1 91.1 94.3 88.1 97.4 85.5 100.6 83.5 103.8 82.3 106.9 81.7 110.1 81.6 113.3 81.8 116.5 79.2 119.6 76.1 122.8 73.5 126 71.5 129.2 70.1 132.3 69.4 135.5 69.3 138.7 69.5 141.8 68 145 64.7 145 67.5 40.3 115.7Z"/><path d="M42 113.8 45.2 114 48.4 112.9 51.6 109.7 54.7 107.1 57.9 105 61.1 103.7 64.3 103 67.4 102.9 70.6 103.1 73.8 100.4 76.9 97.5 80.1 95.1 83.3 93.3 86.5 92.2 89.6 91.7 92.8 91.7 96 91.4 99.2 88.2 102.3 85.4 105.5 83.1 108.7 81.4 111.8 80.4 115 80 118.2 80.1 121.4 79.6 124.5 76.4 127.7 73.6 130.9 71.2 134.1 69.4 137.2 68.2 140.4 67.7 143.6 67.7 146.8 67.9 146.8 68.3 42 116.5Z"/><path d="M43.8 113 47 112.4 50.1 112.3 53.3 112.5 56.5 110.1 59.6 107.2 62.8 104.7 66 102.9 69.2 101.8 72.3 101.3 75.5 101.3 78.7 100.9 81.9 97.8 85 95 88.2 92.8 91.4 91.2 94.5 90.3 97.7 90 100.9 90.1 104.1 88.8 107.2 85.7 110.4 83 113.6 80.9 116.8 79.4 119.9 78.5 123.1 78.3 126.3 78.4 129.4 77.1 132.6 74 135.8 71.3 139 69 142.1 67.3 145.3 66.2 148.5 65.7 148.5 69.1 43.8 117.3Z"/><path d="M45.5 114.3 48.7 112.3 51.9 111 55 110.5 58.2 110.5 61.4 110.8 64.6 107.7 67.7 104.8 70.9 102.4 74.1 100.8 77.2 99.8 80.4 99.5 83.6 99.5 86.8 98.5 89.9 95.4 93.1 92.7 96.3 90.6 99.5 89.2 102.6 88.4 105.8 88.1 109 88.2 112.1 86.5 115.3 83.5 118.5 80.8 121.7 78.7 124.8 77.3 128 76.5 131.2 76.2 134.4 76.3 137.5 75 140.7 71.9 143.9 69.2 147 66.9 150.2 65.2 150.2 69.9 45.5 118.1Z"/><path d="M47.3 117.9 50.4 114.7 53.6 112.1 56.8 110.2 59.9 109 63.1 108.5 66.3 108.5 69.5 108.7 72.6 105.5 75.8 102.6 79 100.3 82.2 98.7 85.3 97.8 88.5 97.4 91.7 97.5 94.8 96.3 98 93.3 101.2 90.6 104.4 88.5 107.5 87.1 110.7 86.3 113.9 86 117.1 86.1 120.2 84.4 123.4 81.4 126.6 78.8 129.7 76.7 132.9 75.2 136.1 74.3 139.3 73.9 142.4 74 145.6 73.2 148.8 70.1 152 67.3 152 70.8 47.3 119Z"/><path d="M49 117.1 52.2 117.4 55.3 115.9 58.5 112.7 61.7 110.1 64.9 108.1 68 106.9 71.2 106.3 74.4 106.3 77.5 106.6 80.7 103.5 83.9 100.6 87.1 98.2 90.2 96.6 93.4 95.6 96.6 95.2 99.8 95.2 102.9 94.4 106.1 91.4 109.3 88.7 112.4 86.5 115.6 84.9 118.8 84 122 83.6 125.1 83.7 128.3 82.7 131.5 79.6 134.7 76.9 137.8 74.7 141 73 144.2 72 147.3 71.5 150.5 71.4 153.7 71.5 153.7 71.6 49 119.8Z"/><path d="M50.7 115.8 53.9 114.9 57.1 114.7 60.2 115 63.4 114.1 66.6 110.9 69.8 108.1 72.9 106 76.1 104.7 79.3 104 82.5 103.9 85.6 104.2 88.8 101.7 92 98.8 95.1 96.3 98.3 94.5 101.5 93.3 104.7 92.8 107.8 92.7 111 92.8 114.2 89.7 117.4 86.9 120.5 84.5 123.7 82.8 126.9 81.7 130 81.1 133.2 81 136.4 81.1 139.6 78.1 142.7 75.3 145.9 72.8 149.1 70.9 152.3 69.6 155.4 68.8 155.4 72.4 50.7 120.6Z"/><path d="M52.5 118.4 55.6 115.7 58.8 113.7 62 112.6 65.2 112.2 68.3 112.4 71.5 112.5 74.7 109.2 77.8 106.3 81 104 84.2 102.4 87.4 101.6 90.5 101.3 93.7 101.5 96.9 100.2 100.1 97.1 103.2 94.5 106.4 92.4 109.6 91 112.7 90.3 115.9 90.1 119.1 90.2 122.3 88.2 125.4 85.3 128.6 82.7 131.8 80.7 135 79.3 138.1 78.5 141.3 78.2 144.5 78.2 147.6 76.9 150.8 73.9 154 71.3 157.2 69 157.2 73.2 52.5 121.4Z"/><path d="M54.2 120.6 57.4 120.3 60.5 116.9 63.7 114 66.9 111.7 70.1 110.3 73.2 109.6 76.4 109.6 79.6 109.9 82.7 107.9 85.9 104.8 89.1 102.2 92.3 100.3 95.4 99.1 98.6 98.6 101.8 98.6 105 98.9 108.1 95.7 111.3 92.9 114.5 90.5 117.6 88.8 120.8 87.7 124 87.2 127.2 87.2 130.3 87.1 133.5 84 136.7 81.2 139.9 78.9 143 77.1 146.2 75.9 149.4 75.3 152.5 75 155.7 75.1 158.9 72.9 158.9 74 54.2 122.2Z"/><path d="M55.9 117.8 59.1 117.3 62.3 117.5 65.4 118.1 68.6 115.8 71.8 112.5 75 109.9 78.1 108 81.3 107 84.5 106.7 87.7 106.8 90.8 106.7 94 103.5 97.2 100.6 100.3 98.4 103.5 96.8 106.7 95.9 109.9 95.6 113 95.8 116.2 94.6 119.4 91.6 122.6 88.9 125.7 86.8 128.9 85.3 132.1 84.4 135.2 84.1 138.4 84.1 141.6 83 144.8 80.1 147.9 77.4 151.1 75.2 154.3 73.5 157.5 72.4 160.6 71.8 160.6 74.9 55.9 123.1Z"/><path d="M57.7 120.3 60.8 117.4 64 115.5 67.2 114.5 70.4 114.3 73.5 114.7 76.7 114.9 79.9 111.4 83 108.4 86.2 106.1 89.4 104.6 92.6 103.8 95.7 103.7 98.9 104 102.1 102.5 105.3 99.4 108.4 96.7 111.6 94.7 114.8 93.3 117.9 92.7 121.1 92.5 124.3 92.7 127.5 90.6 130.6 87.7 133.8 85.1 137 83.2 140.2 81.8 143.3 81 146.5 80.7 149.7 80.7 152.8 79.3 156 76.4 159.2 73.8 162.4 71.6 162.4 75.7 57.7 123.9Z"/><path d="M59.4 122.1 62.6 123.1 65.7 119.5 68.9 116.2 72.1 113.6 75.3 112 78.4 111.2 81.6 111.3 84.8 111.8 88 110.7 91.1 107.4 94.3 104.5 97.5 102.4 100.6 101.1 103.8 100.5 107 100.5 110.2 100.8 113.3 98.5 116.5 95.5 119.7 93 122.9 91.1 126 89.9 129.2 89.3 132.4 89.2 135.5 89.3 138.7 86.9 141.9 84 145.1 81.5 148.2 79.6 151.4 78.2 154.6 77.5 157.8 77.1 160.9 77.1 164.1 75.9 164.1 76.5 59.4 124.7Z"/><path d="M61.1 118.9 64.3 118.1 67.5 118.3 70.7 119.1 73.8 119.2 77 115.5 80.2 112.3 83.3 109.9 86.5 108.5 89.7 107.9 92.9 108.1 96 108.6 99.2 106.8 102.4 103.5 105.6 100.8 108.7 98.8 111.9 97.6 115.1 97.1 118.2 97.2 121.4 97.5 124.6 94.8 127.8 91.8 130.9 89.4 134.1 87.5 137.3 86.3 140.5 85.7 143.6 85.6 146.8 85.7 150 83.4 153.1 80.5 156.3 78 159.5 76.1 162.7 74.6 165.8 73.8 165.8 77.3 61.1 125.5Z"/><path d="M62.9 123.8 66 119.9 69.2 117.1 72.4 115.3 75.6 114.7 78.7 115 81.9 115.9 85.1 115.3 88.3 111.6 91.4 108.6 94.6 106.3 97.8 105 100.9 104.5 104.1 104.7 107.3 105.3 110.5 103 113.6 99.8 116.8 97.2 120 95.3 123.2 94.1 126.3 93.6 129.5 93.6 132.7 93.9 135.8 91.3 139 88.3 142.2 85.8 145.4 84 148.5 82.7 151.7 82.1 154.9 81.8 158.1 81.9 161.2 80.1 164.4 77.2 167.6 74.7 167.6 78.1 62.9 126.3Z"/><path d="M64.6 120.9 67.8 122.3 71 124.1 74.1 120 77.3 116.2 80.5 113.4 83.6 111.8 86.8 111.3 90 111.6 93.2 112.5 96.3 111.6 99.5 108 102.7 104.9 105.9 102.7 109 101.5 112.2 101 115.4 101.2 118.5 101.7 121.7 99.5 124.9 96.3 128.1 93.7 131.2 91.7 134.4 90.5 137.6 89.9 140.8 89.9 143.9 90.1 147.1 88 150.3 85 153.4 82.4 156.6 80.4 159.8 79 163 78.2 166.1 77.9 169.3 77.8 169.3 79 64.6 127.2Z"/><path d="M66.3 119.7 69.5 117.5 72.7 116.8 75.9 117.4 79 118.9 82.2 120.6 85.4 116.3 88.5 112.6 91.7 109.8 94.9 108.2 98.1 107.7 101.2 108.1 104.4 108.9 107.6 108.1 110.8 104.5 113.9 101.4 117.1 99.2 120.3 97.9 123.4 97.3 126.6 97.5 129.8 97.9 133 96.1 136.1 92.9 139.3 90.2 142.5 88.2 145.7 86.8 148.8 86.1 152 86 155.2 86.1 158.3 84.9 161.5 81.8 164.7 79.2 167.9 77 171 75.4 171 79.8 66.3 128Z"/><path d="M68.1 126.3 71.2 125.2 74.4 120 77.6 116.2 80.8 113.9 83.9 113.2 87.1 113.8 90.3 115.2 93.5 116.9 96.6 112.9 99.8 109.1 103 106.3 106.1 104.7 109.3 104.1 112.5 104.3 115.7 105.1 118.8 104.8 122 101.1 125.2 98 128.4 95.7 131.5 94.2 134.7 93.6 137.9 93.6 141 94 144.2 93 147.4 89.8 150.6 86.9 153.7 84.7 156.9 83.2 160.1 82.3 163.3 81.9 166.4 81.9 169.6 82 172.8 79 172.8 80.6 68.1 128.8Z"/><path d="M69.8 115.3 73 116.5 76.2 119.2 79.3 122.5 82.5 121.9 85.7 116.7 88.8 112.8 92 110.4 95.2 109.6 98.4 110 101.5 111.4 104.7 113.1 107.9 109.6 111.1 105.8 114.2 102.9 117.4 101.1 120.6 100.3 123.7 100.5 126.9 101.2 130.1 101.6 133.3 97.9 136.4 94.7 139.6 92.3 142.8 90.6 146 89.7 149.1 89.5 152.3 89.8 155.5 90.1 158.6 86.8 161.8 83.8 165 81.4 168.2 79.6 171.3 78.4 174.5 77.7 174.5 81.4 69.8 129.6Z"/><path d="M71.5 123.7 74.7 116.9 77.9 112.9 81.1 111.6 84.2 112.6 87.4 115.1 90.6 118.4 93.8 118.8 96.9 113.5 100.1 109.4 103.3 106.9 106.4 105.8 109.6 106.1 112.8 107.3 116 109 119.1 106.5 122.3 102.6 125.5 99.5 128.7 97.5 131.8 96.5 135 96.5 138.2 97 141.3 97.9 144.5 95 147.7 91.6 150.9 88.9 154 87 157.2 85.9 160.4 85.4 163.6 85.5 166.7 85.8 169.9 84.1 173.1 81 176.2 78.3 176.2 82.2 71.5 130.4Z"/><path d="M73.3 106 76.5 116.5 79.6 125.7 82.8 121.1 86 113.8 89.1 109.5 92.3 107.9 95.5 108.6 98.7 111 101.8 114.1 105 115.9 108.2 110.5 111.4 106.2 114.5 103.4 117.7 102.1 120.9 102.1 124 103.2 127.2 104.7 130.4 103.6 133.6 99.5 136.7 96.3 139.9 94 143.1 92.7 146.3 92.4 149.4 92.8 152.6 93.5 155.8 92.2 158.9 88.8 162.1 85.8 165.3 83.6 168.5 82 171.6 81.3 174.8 81 178 81.2 178 83.1 73.3 131.3Z"/><path d="M75 72.9 78.2 80.4 81.4 90 84.5 100.7 87.7 111.3 90.9 120.7 94.1 118.6 97.2 110.9 100.4 106.2 103.6 104.2 106.7 104.6 109.9 106.7 113.1 109.7 116.3 112.9 119.4 107.6 122.6 103.1 125.8 100 129 98.3 132.1 98.1 135.3 98.9 138.5 100.3 141.6 100.9 144.8 96.7 148 93.2 151.2 90.6 154.3 89 157.5 88.3 160.7 88.4 163.9 88.9 167 89.7 170.2 86.1 173.4 83 176.5 80.3 179.7 78.4 179.7 83.9 75 132.1Z"/><path d="M76.8 67.5 79.9 63.9 83.1 64.2 86.3 68.2 89.4 75.3 92.6 84.7 95.8 95.2 99 105.9 102.1 115.5 105.3 116.3 108.5 108.3 111.6 103 114.8 100.5 118 100.5 121.2 102.2 124.3 105.1 127.5 108.3 130.7 105 133.9 100.2 137 96.7 140.2 94.7 143.4 94 146.5 94.5 149.7 95.7 152.9 97.3 156.1 94.1 159.2 90.4 162.4 87.4 165.6 85.3 168.8 84.2 171.9 83.9 175.1 84.3 178.3 84.9 181.4 83.8 181.4 84.7 76.8 132.9Z"/><path d="M78.5 95.8 81.7 83.1 84.8 72.4 88 64.6 91.2 60.5 94.3 60.1 97.5 63.6 100.7 70.2 103.9 79.2 107 89.6 110.2 100.2 113.4 110 116.6 114.3 119.7 105.8 122.9 100 126.1 97 129.2 96.4 132.4 97.8 135.6 100.4 138.8 103.5 141.9 102.6 145.1 97.5 148.3 93.6 151.5 91.2 154.6 90 157.8 90.1 161 91 164.1 92.4 167.3 91.8 170.5 87.8 173.7 84.5 176.8 82 180 80.4 183.2 79.6 183.2 85.5 78.5 133.7Z"/><path d="M80.2 132.9 83.4 121 86.6 107.6 89.7 94 92.9 81 96.1 70 99.3 61.8 102.4 57.1 105.6 56.2 108.8 59 111.9 65.1 115.1 73.7 118.3 83.8 121.5 94.4 124.6 104.3 127.8 112.6 131 103.6 134.2 97.2 137.3 93.6 140.5 92.4 143.7 93.3 146.8 95.5 150 98.5 153.2 100.4 156.4 95.1 159.5 90.8 162.7 87.8 165.9 86.2 169.1 85.7 172.2 86.3 175.4 87.4 178.6 88.8 181.7 85.6 184.9 81.9 184.9 86.3 80.2 134.5Z"/><path d="M82 120.6 85.1 121.4 88.3 125.1 91.5 130.5 94.6 118.8 97.8 105.6 101 92 104.2 78.9 107.3 67.6 110.5 59 113.7 53.7 116.9 52.2 120 54.5 123.2 60 126.4 68.2 129.5 78 132.7 88.4 135.9 98.4 139.1 107 142.2 101.6 145.4 94.7 148.6 90.3 151.8 88.5 154.9 88.8 158.1 90.6 161.3 93.3 164.4 96.3 167.6 93 170.8 88.3 174 84.8 177.1 82.5 180.3 81.5 183.5 81.6 186.7 82.3 186.7 87.2 82 135.4Z"/><path d="M83.7 129.1 86.9 123.4 90 119.2 93.2 117 96.4 117.5 99.6 120.8 102.7 127 105.9 116.4 109.1 103.4 112.2 89.8 115.4 76.7 118.6 65.2 121.8 56.2 124.9 50.5 128.1 48.4 131.3 50 134.5 55 137.6 62.6 140.8 72 144 82.2 147.1 92.2 150.3 101.1 153.5 100 156.7 92.4 159.8 87.4 163 84.8 166.2 84.4 169.4 85.7 172.5 88.1 175.7 90.9 178.9 91.1 182 86.1 185.2 82.1 188.4 79.2 188.4 88 83.7 136.2Z"/><path d="M85.4 130.8 88.6 133 91.8 132.1 94.9 125.9 98.1 120.1 101.3 115.7 104.5 113.4 107.6 113.7 110.8 116.8 114 122.7 117.2 113.8 120.3 101 123.5 87.5 126.7 74.4 129.8 62.7 133 53.5 136.2 47.3 139.4 44.7 142.5 45.7 145.7 50 148.9 57.1 152.1 66 155.2 76 158.4 85.9 161.6 94.9 164.7 98.6 167.9 90.5 171.1 84.7 174.3 81.4 177.4 80.2 180.6 80.9 183.8 82.7 187 85.3 190.1 88 190.1 88.8 85.4 137Z"/><path d="M87.2 129.7 90.3 127.4 93.5 126.5 96.7 127.2 99.9 129.3 103 128.7 106.2 122.4 109.4 116.7 112.5 112.2 115.7 109.8 118.9 110 122.1 112.9 125.2 118.6 128.4 111 131.6 98.4 134.8 85 137.9 72 141.1 60.2 144.3 50.7 147.4 44.2 150.6 41.1 153.8 41.5 157 45.2 160.1 51.6 163.3 60 166.5 69.6 169.7 79.4 172.8 88.5 176 96.2 179.2 88.9 182.3 82.4 185.5 78.3 188.7 76.3 191.9 76.2 191.9 89.6 87.2 137.8Z"/><path d="M88.9 138.5 92.1 134.1 95.2 129.7 98.4 126.1 101.6 123.8 104.8 123 107.9 123.7 111.1 125.8 114.3 125 117.4 118.8 120.6 113.1 123.8 108.7 127 106.3 130.1 106.4 133.3 109.2 136.5 114.7 139.7 108 142.8 95.5 146 82.3 149.2 69.4 152.3 57.6 155.5 48 158.7 41.1 161.9 37.6 165 37.4 168.2 40.4 171.4 46.2 174.6 54 177.7 63.2 180.9 72.7 184.1 81.8 187.2 89.8 190.4 87.7 193.6 80.5 193.6 90.4 88.9 138.6Z"/><path d="M90.6 133 93.8 132.8 97 133.7 100.1 135 103.3 130.3 106.5 126 109.7 122.5 112.8 120.2 116 119.5 119.2 120.4 122.4 122.5 125.5 121.2 128.7 115 131.9 109.4 135 105.1 138.2 102.7 141.4 102.8 144.6 105.6 147.7 111.1 150.9 104.6 154.1 92.4 157.3 79.4 160.4 66.6 163.6 54.9 166.8 45.1 169.9 38.1 173.1 34.1 176.3 33.4 179.5 35.8 182.6 40.9 185.8 48.1 189 56.7 192.2 65.9 195.3 74.9 195.3 91.3 90.6 139.5Z"/><path d="M92.4 136.2 95.5 133 98.7 130.7 101.9 129.6 105.1 129.6 108.2 130.5 111.4 130.9 114.6 126.3 117.7 122 120.9 118.7 124.1 116.7 127.3 116.2 130.4 117.2 133.6 119.5 136.8 117.2 140 111 143.1 105.5 146.3 101.4 149.5 99.2 152.6 99.4 155.8 102.3 159 107.6 162.2 101.1 165.3 89.1 168.5 76.3 171.7 63.6 174.9 52 178 42.3 181.2 35 184.4 30.7 187.5 29.5 190.7 31.2 193.9 35.6 197.1 42.2 197.1 92.1 92.4 140.3Z"/><path d="M94.1 138.6 97.3 139.5 100.4 135.8 103.6 132.1 106.8 129.1 110 127.1 113.1 126.2 116.3 126.5 119.5 127.6 122.7 126.7 125.8 122.1 129 118 132.2 114.9 135.3 113.2 138.5 112.9 141.7 114.2 144.9 116.6 148 112.9 151.2 106.9 154.4 101.6 157.6 97.6 160.7 95.7 163.9 96.1 167.1 99 170.2 104.4 173.4 97.3 176.6 85.4 179.8 72.9 182.9 60.5 186.1 49 189.3 39.3 192.5 32 195.6 27.4 198.8 25.7 198.8 92.9 94.1 141.1Z"/><path d="M95.8 136.5 99 135.4 102.2 135.2 105.4 135.8 108.5 135.4 111.7 131.5 114.9 128 118 125.3 121.2 123.6 124.4 123.1 127.6 123.6 130.7 124.9 133.9 122.2 137.1 117.8 140.3 113.9 143.4 111.1 146.6 109.8 149.8 109.9 152.9 111.4 156.1 113.9 159.3 108.4 162.5 102.6 165.6 97.5 168.8 93.8 172 92.2 175.2 92.9 178.3 96 181.5 101.5 184.7 93.2 187.8 81.6 191 69.3 194.2 57.1 197.4 45.9 200.5 36.3 200.5 93.7 95.8 141.9Z"/><path d="M97.6 140.3 100.7 137.1 103.9 134.6 107.1 132.9 110.3 132.2 113.4 132.4 116.6 133.1 119.8 130.9 123 127.1 126.1 123.9 129.3 121.5 132.5 120.3 135.6 120.1 138.8 120.9 142 122.2 145.2 117.6 148.3 113.3 151.5 109.8 154.7 107.5 157.9 106.5 161 107 164.2 108.8 167.4 109.7 170.5 103.8 173.7 98.1 176.9 93.3 180.1 90.1 183.2 88.8 186.4 89.9 189.6 93.2 192.8 98.7 195.9 88.9 199.1 77.4 202.3 65.4 202.3 94.5 97.6 142.7Z"/><path d="M99.3 141 102.5 141.4 105.7 139.2 108.8 135.8 112 132.9 115.2 130.8 118.3 129.6 121.5 129.4 124.7 129.8 127.9 130.1 131 126.2 134.2 122.6 137.4 119.8 140.6 117.9 143.7 117.2 146.9 117.5 150.1 118.6 153.2 117.3 156.4 112.8 159.6 108.8 162.8 105.7 165.9 103.9 169.1 103.5 172.3 104.5 175.5 106.5 178.6 104.8 181.8 98.9 185 93.5 188.1 89.1 191.3 86.4 194.5 85.6 197.7 87 200.8 90.7 204 94.4 204 95.4 99.3 143.6Z"/><path d="M101 139.6 104.2 138.5 107.4 138.2 110.6 138.5 113.7 137.9 116.9 134.4 120.1 131.3 123.2 128.9 126.4 127.3 129.6 126.7 132.8 126.9 135.9 127.6 139.1 125.1 142.3 121.3 145.5 118.2 148.6 115.9 151.8 114.6 155 114.4 158.1 115.2 161.3 116.5 164.5 112.2 167.7 107.9 170.8 104.3 174 101.8 177.2 100.6 180.4 100.8 183.5 102.2 186.7 104.6 189.9 99.6 193 93.9 196.2 88.8 199.4 85 202.6 82.8 205.7 82.6 205.7 96.2 101 144.4Z"/><path d="M102.8 142.4 105.9 139.6 109.1 137.5 112.3 136.2 115.5 135.7 118.6 135.9 121.8 136.4 125 132.9 128.2 129.6 131.3 127 134.5 125.1 137.7 124.2 140.8 124.2 144 124.8 147.2 123.8 150.4 120 153.5 116.6 156.7 113.9 159.9 112.3 163.1 111.7 166.2 112.1 169.4 113.2 172.6 111.4 175.7 107 178.9 103.1 182.1 100.1 185.3 98.2 188.4 97.7 191.6 98.5 194.8 100.3 198 99.9 201.1 94.2 204.3 88.8 207.5 84.2 207.5 97 102.8 145.2Z"/><path d="M104.5 144.8 107.7 143.9 110.9 140.6 114 137.7 117.2 135.5 120.4 134 123.5 133.4 126.7 133.5 129.9 134 133.1 131.2 136.2 127.8 139.4 125 142.6 123 145.8 121.9 148.9 121.7 152.1 122.2 155.3 122.3 158.4 118.4 161.6 114.9 164.8 112.1 168 110.1 171.1 109.3 174.3 109.4 177.5 110.3 180.7 110.2 183.8 105.8 187 101.7 190.2 98.4 193.3 96.1 196.5 95.1 199.7 95.3 202.9 96.7 206 98.9 209.2 94.1 209.2 97.8 104.5 146Z"/><path d="M106.2 142.8 109.4 142.5 112.6 142.6 115.8 141.9 118.9 138.6 122.1 135.7 125.3 133.4 128.5 131.9 131.6 131.2 134.8 131.2 138 131.7 141.1 129.2 144.3 125.9 147.5 123 150.7 120.9 153.8 119.8 157 119.4 160.2 119.8 163.4 120.5 166.5 116.6 169.7 113.1 172.9 110.1 176 108 179.2 107 182.4 106.9 185.6 107.7 188.7 108.8 191.9 104.4 195.1 100.2 198.3 96.7 201.4 94.1 204.6 92.7 207.8 92.5 210.9 93.5 210.9 98.6 106.2 146.8Z"/><path d="M108 143.5 111.2 141.8 114.3 140.8 117.5 140.5 120.7 140.7 123.8 139.6 127 136.4 130.2 133.5 133.4 131.3 136.5 129.8 139.7 129.2 142.9 129.2 146.1 129.7 149.2 127 152.4 123.7 155.6 120.9 158.7 118.8 161.9 117.7 165.1 117.3 168.3 117.7 171.4 118.4 174.6 114.6 177.8 111 181 108.1 184.1 106 187.3 104.8 190.5 104.7 193.6 105.3 196.8 106.5 200 102.7 203.2 98.5 206.3 94.9 209.5 92.2 212.7 90.5 212.7 99.5 108 147.7Z"/><path d="M109.7 146.5 112.9 143.6 116.1 141.3 119.2 139.7 122.4 138.9 125.6 138.7 128.8 139 131.9 137.1 135.1 133.9 138.3 131.2 141.4 129.1 144.6 127.8 147.8 127.3 151 127.5 154.1 128 157.3 124.6 160.5 121.3 163.7 118.6 166.8 116.7 170 115.7 173.2 115.4 176.3 115.9 179.5 116 182.7 112.2 185.9 108.7 189 105.9 192.2 103.8 195.4 102.8 198.6 102.6 201.7 103.3 204.9 104.4 208.1 100.6 211.2 96.5 214.4 92.9 214.4 100.3 109.7 148.5Z"/><path d="M111.5 148.4 114.6 147 117.8 143.9 121 141.2 124.1 139.1 127.3 137.8 130.5 137.2 133.7 137.2 136.8 137.5 140 134.4 143.2 131.3 146.3 128.8 149.5 127 152.7 126 155.9 125.7 159 126 162.2 125.3 165.4 121.9 168.6 118.8 171.7 116.3 174.9 114.6 178.1 113.8 181.2 113.8 184.4 114.3 187.6 113.4 190.8 109.6 193.9 106.3 197.1 103.6 200.3 101.7 203.5 100.8 206.6 100.8 209.8 101.5 213 102.4 216.1 98.2 216.1 101.1 111.5 149.3Z"/><path d="M113.2 146.9 116.4 146.9 119.5 147.2 122.7 144 125.9 141.1 129 138.7 132.2 137 135.4 136 138.6 135.7 141.7 135.9 144.9 134.7 148.1 131.5 151.3 128.6 154.4 126.4 157.6 125 160.8 124.3 163.9 124.3 167.1 124.8 170.3 122.3 173.5 119 176.6 116.2 179.8 114 183 112.7 186.2 112.2 189.3 112.4 192.5 113.1 195.7 110.4 198.8 106.8 202 103.7 205.2 101.3 208.4 99.7 211.5 99.1 214.7 99.2 217.9 100.1 217.9 101.9 113.2 150.1Z"/><path d="M114.9 146.8 118.1 145.9 121.3 145.7 124.4 145.9 127.6 144 130.8 140.9 134 138.3 137.1 136.3 140.3 135.1 143.5 134.6 146.6 134.6 149.8 134.8 153 131.5 156.2 128.5 159.3 126 162.5 124.3 165.7 123.3 168.9 123 172 123.3 175.2 122.5 178.4 119.1 181.5 116.1 184.7 113.6 187.9 111.9 191.1 111 194.2 110.9 197.4 111.4 200.6 110.9 203.8 107.2 206.9 103.8 210.1 101 213.3 99 216.4 97.9 219.6 97.6 219.6 102.7 114.9 150.9Z"/><path d="M116.7 147.8 119.8 146.1 123 145.1 126.2 144.8 129.3 144.9 132.5 143.7 135.7 140.6 138.9 137.8 142 135.7 145.2 134.3 148.4 133.7 151.6 133.6 154.7 133.9 157.9 131.2 161.1 128.1 164.2 125.5 167.4 123.6 170.6 122.5 173.8 122 176.9 122.2 180.1 122.4 183.3 119 186.5 115.8 189.6 113.2 192.8 111.2 196 110.1 199.1 109.8 202.3 110.1 205.5 110.7 208.7 107.3 211.8 103.8 215 100.8 218.2 98.5 221.4 97 221.4 103.6 116.7 151.8Z"/><path d="M118.4 149.6 121.6 147.2 124.7 145.4 127.9 144.4 131.1 144 134.3 144.2 137.4 143.2 140.6 140 143.8 137.3 146.9 135.1 150.1 133.7 153.3 133 156.5 132.9 159.6 133.1 162.8 130.7 166 127.6 169.2 125 172.3 123 175.5 121.8 178.7 121.3 181.8 121.4 185 121.8 188.2 118.6 191.4 115.4 194.5 112.6 197.7 110.6 200.9 109.4 204.1 108.9 207.2 109.1 210.4 109.7 213.6 107 216.7 103.5 219.9 100.4 223.1 97.9 223.1 104.4 118.4 152.6Z"/><path d="M120.1 151.7 123.3 148.8 126.5 146.5 129.6 144.8 132.8 143.9 136 143.6 139.2 143.7 142.3 142.3 145.5 139.2 148.7 136.5 151.9 134.4 155 133.1 158.2 132.4 161.4 132.4 164.5 132.7 167.7 129.9 170.9 126.9 174.1 124.3 177.2 122.3 180.4 121.2 183.6 120.7 186.8 120.8 189.9 121.3 193.1 117.8 196.3 114.7 199.4 112 202.6 110 205.8 108.8 209 108.3 212.1 108.5 215.3 109.1 218.5 106.4 221.7 102.9 224.8 99.8 224.8 105.2 120.1 153.4Z"/><path d="M121.9 153.8 125 150.6 128.2 147.9 131.4 145.7 134.6 144.2 137.7 143.5 140.9 143.3 144.1 143.5 147.2 141.3 150.4 138.2 153.6 135.7 156.8 133.7 159.9 132.6 163.1 132.1 166.3 132.1 169.5 132.1 172.6 128.9 175.8 125.9 179 123.4 182.1 121.7 185.3 120.7 188.5 120.4 191.7 120.6 194.8 120.2 198 116.8 201.2 113.7 204.4 111.2 207.5 109.3 210.7 108.2 213.9 107.9 217 108.2 220.2 108.8 223.4 105.5 226.6 102 226.6 106 121.9 154.2Z"/><path d="M123.6 154.5 126.8 152.4 129.9 149.4 133.1 146.8 136.3 145 139.5 143.8 142.6 143.3 145.8 143.3 149 143.1 152.1 139.9 155.3 137.1 158.5 134.7 161.7 133.1 164.8 132.3 168 132 171.2 132.2 174.4 130.8 177.5 127.6 180.7 124.8 183.9 122.6 187 121.1 190.2 120.4 193.4 120.3 196.6 120.7 199.7 118.8 202.9 115.5 206.1 112.6 209.3 110.3 212.4 108.7 215.6 107.9 218.8 107.8 221.9 108.2 225.1 107.7 228.3 104.1 228.3 106.8 123.6 155Z"/><path d="M125.3 154.6 128.5 153.9 131.7 150.8 134.8 148 138 145.9 141.2 144.4 144.4 143.7 147.5 143.5 150.7 143.7 153.9 141.4 157.1 138.4 160.2 135.8 163.4 133.9 166.6 132.7 169.7 132.3 172.9 132.3 176.1 132.4 179.3 129.1 182.4 126.1 185.6 123.6 188.8 121.9 192 120.8 195.1 120.5 198.3 120.7 201.5 120.5 204.6 117.1 207.8 114 211 111.4 214.2 109.5 217.3 108.4 220.5 107.9 223.7 108.1 226.9 108.7 230 105.9 230 107.7 125.3 155.9Z"/><path d="M127.1 155 130.2 155.2 133.4 152 136.6 149.1 139.8 146.8 142.9 145.2 146.1 144.2 149.3 143.9 152.4 144.1 155.6 142.7 158.8 139.6 162 136.9 165.1 134.8 168.3 133.4 171.5 132.8 174.7 132.7 177.8 133 181 130.4 184.2 127.3 187.3 124.7 190.5 122.7 193.7 121.5 196.9 120.9 200 121 203.2 121.4 206.4 118.4 209.6 115.2 212.7 112.5 215.9 110.4 219.1 109 222.2 108.4 225.4 108.4 228.6 108.9 231.8 107.4 231.8 108.5 127.1 156.7Z"/><path d="M128.8 155.7 132 155.9 135.1 153 138.3 150 141.5 147.7 144.7 146 147.8 145 151 144.6 154.2 144.8 157.4 143.6 160.5 140.5 163.7 137.8 166.9 135.6 170 134.2 173.2 133.5 176.4 133.4 179.6 133.6 182.7 131.3 185.9 128.2 189.1 125.6 192.3 123.5 195.4 122.2 198.6 121.7 201.8 121.7 204.9 122.1 208.1 119.4 211.3 116.2 214.5 113.4 217.6 111.2 220.8 109.8 224 109.1 227.2 109.1 230.3 109.5 233.5 108.4 233.5 109.3 128.8 157.5Z"/></g>
<path d="M24.7 106.1L129.4 57.9M28.2 107.6L132.9 59.4M31.6 109.2L136.3 61M35.1 110.7L139.8 62.5M38.6 112.7L143.3 64.5M42 114.4L146.8 66.2M45.5 115.8L150.2 67.6M49 117.7L153.7 69.5M52.5 119.1L157.2 70.9M55.9 120.6L160.6 72.4M59.4 122.4L164.1 74.2M62.9 123.8L167.6 75.6M66.3 125.1L171 76.9M69.8 126.1L174.5 77.9M73.3 127.3L178 79.1M76.8 127.2L181.4 79M80.2 127L184.9 78.8M83.7 128.1L188.4 79.9M87.2 129.7L191.9 81.5M90.6 132.4L195.3 84.2M94.1 136.1L198.8 87.9M97.6 138.6L202.3 90.4M101 140.5L205.7 92.3M104.5 143.2L209.2 95M108 144.9L212.7 96.7M111.5 146.8L216.1 98.6M114.9 148.2L219.6 100M118.4 150L223.1 101.8M121.9 152.1L226.6 103.9M125.3 153.7L230 105.5M128.8 155.3L233.5 107.1" fill="none" stroke="#FFC8C8" stroke-width="1.0" stroke-opacity="0.55"/>
<linearGradient id="wgb" gradientUnits="userSpaceOnUse" x1="75.5" y1="64.5" x2="91" y2="114"><stop offset="0" stop-color="#FF8A8A" stop-opacity="0.85"/><stop offset="0.6" stop-color="#FF8A8A" stop-opacity="0.6"/><stop offset="1" stop-color="#FF8A8A" stop-opacity="0"/></linearGradient><polygon points="75.5,64.5 200.5,25.5 202.5,80 75.5,125" fill="url(#wgb)"/>
<path d="M75.5 67.5L200.5 28.5M75.5 72L200.5 33M75.5 76.5L200.5 37.5M75.5 81L200.5 42M75.5 85.5L200.5 46.5M75.5 90L200.5 51M75.5 94.5L200.5 55.5M75.5 99L200.5 60M75.5 103.5L200.5 64.5M75.5 108L200.5 69" stroke="#FFC4C4" stroke-width="1.5" stroke-opacity="0.5" fill="none"/>
</g>
<path d="M24.7 40.8 L24.7 108.3 L128.8 157.5 L233.5 109.3" fill="none" stroke="#555" stroke-width="0.7"/>
<path d="M22.7 74.55 H24.7" stroke="#555" stroke-width="0.6"/>
<path d="M47.83 119.23 l1.2 -2.5" stroke="#555" stroke-width="0.6"/>
<path d="M76.75 132.9 l1.2 -2.5" stroke="#555" stroke-width="0.6"/>
<path d="M105.67 146.57 l1.2 -2.5" stroke="#555" stroke-width="0.6"/>
<path d="M148.19 148.57 l-1.5 -2.2" stroke="#555" stroke-width="0.6"/>
<path d="M186.97 130.72 l-1.5 -2.2" stroke="#555" stroke-width="0.6"/>
<path d="M225.74 112.87 l-1.5 -2.2" stroke="#555" stroke-width="0.6"/>
<text x="65" y="27" font-size="12" fill="#000" font-family="'Liberation Sans',sans-serif" text-anchor="middle" font-weight="bold">(b)</text>
<text x="11" y="42.8" font-size="11.5" font-family="'Liberation Sans',sans-serif" text-anchor="middle" dominant-baseline="central" transform="rotate(0 11 42.8)">1</text>
<text x="7.9" y="75.2" font-size="11.5" font-family="'Liberation Sans',sans-serif" text-anchor="middle" dominant-baseline="central" transform="rotate(0 7.9 75.2)">0.5</text>
<text x="7.9" y="106.9" font-size="11.5" font-family="'Liberation Sans',sans-serif" text-anchor="middle" dominant-baseline="central" transform="rotate(0 7.9 106.9)">0</text>
<text x="41.2" y="128" font-size="11.5" font-family="'Liberation Sans',sans-serif" text-anchor="middle" dominant-baseline="central" transform="rotate(25 41.2 128)">-50</text>
<text x="73.3" y="142" font-size="11.5" font-family="'Liberation Sans',sans-serif" text-anchor="middle" dominant-baseline="central" transform="rotate(25 73.3 142)">0</text>
<text x="102.9" y="156.3" font-size="11.5" font-family="'Liberation Sans',sans-serif" text-anchor="middle" dominant-baseline="central" transform="rotate(25 102.9 156.3)">50</text>
<text x="51.5" y="154.2" font-size="11" font-family="'Liberation Sans',sans-serif" text-anchor="middle" dominant-baseline="central" textLength="45" lengthAdjust="spacingAndGlyphs" transform="rotate(31.5 51.5 154.2)">Angle [°]</text>
<text x="158.4" y="155.8" font-size="11.5" font-family="'Liberation Sans',sans-serif" text-anchor="middle" dominant-baseline="central" transform="rotate(-24 158.4 155.8)">20</text>
<text x="196.9" y="137.9" font-size="11.5" font-family="'Liberation Sans',sans-serif" text-anchor="middle" dominant-baseline="central" transform="rotate(-24 196.9 137.9)">60</text>
<text x="231.1" y="122" font-size="11.5" font-family="'Liberation Sans',sans-serif" text-anchor="middle" dominant-baseline="central" transform="rotate(-24 231.1 122)">100</text>
<text x="221" y="149.2" font-size="11" font-family="'Liberation Sans',sans-serif" text-anchor="middle" dominant-baseline="central" textLength="61" lengthAdjust="spacingAndGlyphs" transform="rotate(-24 221 149.2)">Sweep Step</text>
<clipPath id="clipA8CCEA"><path d="M460 100.6 461 100 462 99.2 463 98.5 464 97.7 465 97.1 466 96.3 467 95.7 468 94.9 469 94.3 470 93.5 471 92.9 472 92.4 473 91.9 474 91.5 475 90.9 476 90.5 477 90.2 478 89.8 479 89.5 480 89.3 481 88.8 482 88.5 483 88.2 484 87.9 485 87.5 486 87.1 487 86.5 488 86 489 85.5 490 85 491 84.3 492 83.7 493 82.9 494 82.2 495 81.6 496 80.8 497 80.3 498 79.7 499 78.9 500 78.4 501 77.9 502 77.5 503 77.1 504 76.5 505 76.3 506 76 507 75.8 508 75.6 509 75.4 510 75.2 511 75 512 74.8 513 74.7 514 67.1 515 57.7 516 56.4 517 56 518 55.7 519 55.3 520 55.1 521 54.8 522 54.4 523 54.1 524 53.7 525 53.5 526 53 527 52.8 528 52.3 529 52.1 530 51.9 531 51.3 532 51.3 533 50.8 534 50.5 535 50.1 536 49.8 537 49.4 538 49.1 539 49 540 48.4 541 48.2 542 47.8 543 47.5 544 47.2 545 46.8 546 46.5 547 46.1 548 45.9 549 45.6 550 45.2 551 44.9 552 44.5 553 44.3 554 43.8 555 43.6 556 43.1 557 42.9 558 42.7 559 42.1 560 42.1 561 41.6 562 41.3 563 40.9 564 40.6 565 40.2 566 39.9 567 39.8 568 39.2 569 39 570 38.6 571 38.3 572 38 573 37.6 574 37.3 575 36.9 576 36.7 577 36.4 578 36 579 35.7 580 35.3 581 35.1 582 34.6 583 34.4 584 33.9 585 33.7 586 33.5 587 32.9 588 32.8 589 32.4 590 32.1 591 31.7 592 31.4 593 31 594 30.7 595 30.5 596 30 597 29.8 598 29.4 599 29.1 600 28.8 601 28.4 602 28.1 603 27.7 604 27.5 605 27.2 606 26.8 607 26.5 608 26.1 609 25.9 610 25.4 611 25.2 612 24.7 613 24.5 614 24.3 615 23.7 616 23.6 617 23.2 618 22.9 619 22.5 620 22.2 621 21.8 622 21.5 623 21.3 624 20.8 625 20.6 626 20.2 627 19.9 628 19.6 629 19.2 630 18.9 631 18.5 632 18.3 633 18 634 17.5 635 17.3 636 16.9 637 16.7 638 16.2 639 16 640 15.5 641 15.3 642 15.1 643 17.4 644 26.4 645 45.9 646 62.7 647 72.9 648 72.5 649 71.9 650 71.6 651 74.4 652 80.4 653 80.8 654 80.4 655 80.1 656 79.9 657 81.5 658 84.6 659 87.7 660 88.1 661 88.2 662 88.3 663 88.7 664 88.2 665 87.5 666 87.2 667 87.7 668 89.8 669 93.1 670 94.3 671 94.3 672 94.7 673 96.4 674 97.2 675 97.2 676 97.2 677 97.3 678 97.8 678 98.8 677 98.7 676 98.7 675 99.7 674 99.7 673 99.6 672 99.5 671 99.4 670 99.5 669 99.5 668 99.6 667 99.8 666 100.1 665 100.3 664 100.7 663 101.1 662 101.7 661 102.2 660 102.9 659 103.6 658 104.4 657 105.2 656 106.1 655 107 654 108 653 108.9 652 110 651 111 650 112.1 649 113.2 648 114.2 647 114.6 646 114.6 645 114.6 644 114.5 643 114.6 642 114.6 641 114.7 640 114.8 639 115 638 115.2 637 115.5 636 115.8 635 116.2 634 116.6 633 117.2 632 117.7 631 118.5 630 119.1 629 119.7 628 120.4 627 121.1 626 121.8 625 122.9 624 123.7 623 124.5 622 125.3 621 126.1 620 126.9 619 128.1 618 128.7 617 128.7 616 128.6 615 128.5 614 128.4 613 128.4 612 128.3 611 128.3 610 128.3 609 128.4 608 128.5 607 128.6 606 128.8 605 129 604 129.3 603 129.6 602 130.1 601 130.5 600 130.9 599 131.4 598 131.9 597 132.5 596 133.4 595 134.1 594 134.7 593 135.5 592 136.2 591 137 590 138.1 589 138.9 588 139.3 587 139.9 586 140.8 585 141.1 584 141.1 583 141.2 582 141.2 581 141.3 580 141.3 579 141.5 578 141.6 577 141.9 576 142.1 575 142.5 574 142.9 573 143.3 572 143.9 571 144.4 570 145.1 569 145.7 568 146.4 567 146.7 566 146 565 144.1 564 142.7 563 143.3 562 143.6 561 143.5 560 143.2 559 143.2 558 143.2 557 143.1 556 143.1 555 143 554 142 553 140.2 552 139.4 551 139.3 550 138.4 549 138.1 548 139 547 139.7 546 140.1 545 139.4 544 136.4 543 136.3 542 136.6 541 136.7 540 137.1 539 136.7 538 133.5 537 134 536 134.2 535 134.5 534 134.3 533 130.8 532 131.3 531 131.9 530 132.1 529 132.6 528 128.9 527 128.4 526 128.4 525 129.8 524 128.6 523 126.9 522 127.6 521 127.2 520 128.5 519 120.4 518 122.5 517 121.5 516 122.8 515 122.7 514 121.8 513 123.8 512 122 511 123.3 510 121.6 509 121.3 508 122.1 507 121.8 506 117.9 505 118.7 504 119.3 503 120.1 502 119.2 501 114.7 500 115.2 499 115.8 498 115.8 497 115.4 496 114.5 495 113.3 494 112 493 111.6 492 112.3 491 112.9 490 113 489 112.9 488 112 487 111.1 486 110.5 485 110.7 484 111.1 483 111.3 482 111.1 481 110.3 480 109 479 107.3 478 106.4 477 106.1 476 106.1 475 106 474 105.3 473 103.8 472 102.4 471 101.3 470 101 469 101.5 468 101.8 467 101.8 466 101.4 465 100.5 464 99.5 463 99.2 462 100 461 100.5 460 100.6Z"/></clipPath>
<path d="M460 100.6 461 100 462 99.2 463 98.5 464 97.7 465 97.1 466 96.3 467 95.7 468 94.9 469 94.3 470 93.5 471 92.9 472 92.4 473 91.9 474 91.5 475 90.9 476 90.5 477 90.2 478 89.8 479 89.5 480 89.3 481 88.8 482 88.5 483 88.2 484 87.9 485 87.5 486 87.1 487 86.5 488 86 489 85.5 490 85 491 84.3 492 83.7 493 82.9 494 82.2 495 81.6 496 80.8 497 80.3 498 79.7 499 78.9 500 78.4 501 77.9 502 77.5 503 77.1 504 76.5 505 76.3 506 76 507 75.8 508 75.6 509 75.4 510 75.2 511 75 512 74.8 513 74.7 514 67.1 515 57.7 516 56.4 517 56 518 55.7 519 55.3 520 55.1 521 54.8 522 54.4 523 54.1 524 53.7 525 53.5 526 53 527 52.8 528 52.3 529 52.1 530 51.9 531 51.3 532 51.3 533 50.8 534 50.5 535 50.1 536 49.8 537 49.4 538 49.1 539 49 540 48.4 541 48.2 542 47.8 543 47.5 544 47.2 545 46.8 546 46.5 547 46.1 548 45.9 549 45.6 550 45.2 551 44.9 552 44.5 553 44.3 554 43.8 555 43.6 556 43.1 557 42.9 558 42.7 559 42.1 560 42.1 561 41.6 562 41.3 563 40.9 564 40.6 565 40.2 566 39.9 567 39.8 568 39.2 569 39 570 38.6 571 38.3 572 38 573 37.6 574 37.3 575 36.9 576 36.7 577 36.4 578 36 579 35.7 580 35.3 581 35.1 582 34.6 583 34.4 584 33.9 585 33.7 586 33.5 587 32.9 588 32.8 589 32.4 590 32.1 591 31.7 592 31.4 593 31 594 30.7 595 30.5 596 30 597 29.8 598 29.4 599 29.1 600 28.8 601 28.4 602 28.1 603 27.7 604 27.5 605 27.2 606 26.8 607 26.5 608 26.1 609 25.9 610 25.4 611 25.2 612 24.7 613 24.5 614 24.3 615 23.7 616 23.6 617 23.2 618 22.9 619 22.5 620 22.2 621 21.8 622 21.5 623 21.3 624 20.8 625 20.6 626 20.2 627 19.9 628 19.6 629 19.2 630 18.9 631 18.5 632 18.3 633 18 634 17.5 635 17.3 636 16.9 637 16.7 638 16.2 639 16 640 15.5 641 15.3 642 15.1 643 17.4 644 26.4 645 45.9 646 62.7 647 72.9 648 72.5 649 71.9 650 71.6 651 74.4 652 80.4 653 80.8 654 80.4 655 80.1 656 79.9 657 81.5 658 84.6 659 87.7 660 88.1 661 88.2 662 88.3 663 88.7 664 88.2 665 87.5 666 87.2 667 87.7 668 89.8 669 93.1 670 94.3 671 94.3 672 94.7 673 96.4 674 97.2 675 97.2 676 97.2 677 97.3 678 97.8 678 98.8 677 98.7 676 98.7 675 99.7 674 99.7 673 99.6 672 99.5 671 99.4 670 99.5 669 99.5 668 99.6 667 99.8 666 100.1 665 100.3 664 100.7 663 101.1 662 101.7 661 102.2 660 102.9 659 103.6 658 104.4 657 105.2 656 106.1 655 107 654 108 653 108.9 652 110 651 111 650 112.1 649 113.2 648 114.2 647 114.6 646 114.6 645 114.6 644 114.5 643 114.6 642 114.6 641 114.7 640 114.8 639 115 638 115.2 637 115.5 636 115.8 635 116.2 634 116.6 633 117.2 632 117.7 631 118.5 630 119.1 629 119.7 628 120.4 627 121.1 626 121.8 625 122.9 624 123.7 623 124.5 622 125.3 621 126.1 620 126.9 619 128.1 618 128.7 617 128.7 616 128.6 615 128.5 614 128.4 613 128.4 612 128.3 611 128.3 610 128.3 609 128.4 608 128.5 607 128.6 606 128.8 605 129 604 129.3 603 129.6 602 130.1 601 130.5 600 130.9 599 131.4 598 131.9 597 132.5 596 133.4 595 134.1 594 134.7 593 135.5 592 136.2 591 137 590 138.1 589 138.9 588 139.3 587 139.9 586 140.8 585 141.1 584 141.1 583 141.2 582 141.2 581 141.3 580 141.3 579 141.5 578 141.6 577 141.9 576 142.1 575 142.5 574 142.9 573 143.3 572 143.9 571 144.4 570 145.1 569 145.7 568 146.4 567 146.7 566 146 565 144.1 564 142.7 563 143.3 562 143.6 561 143.5 560 143.2 559 143.2 558 143.2 557 143.1 556 143.1 555 143 554 142 553 140.2 552 139.4 551 139.3 550 138.4 549 138.1 548 139 547 139.7 546 140.1 545 139.4 544 136.4 543 136.3 542 136.6 541 136.7 540 137.1 539 136.7 538 133.5 537 134 536 134.2 535 134.5 534 134.3 533 130.8 532 131.3 531 131.9 530 132.1 529 132.6 528 128.9 527 128.4 526 128.4 525 129.8 524 128.6 523 126.9 522 127.6 521 127.2 520 128.5 519 120.4 518 122.5 517 121.5 516 122.8 515 122.7 514 121.8 513 123.8 512 122 511 123.3 510 121.6 509 121.3 508 122.1 507 121.8 506 117.9 505 118.7 504 119.3 503 120.1 502 119.2 501 114.7 500 115.2 499 115.8 498 115.8 497 115.4 496 114.5 495 113.3 494 112 493 111.6 492 112.3 491 112.9 490 113 489 112.9 488 112 487 111.1 486 110.5 485 110.7 484 111.1 483 111.3 482 111.1 481 110.3 480 109 479 107.3 478 106.4 477 106.1 476 106.1 475 106 474 105.3 473 103.8 472 102.4 471 101.3 470 101 469 101.5 468 101.8 467 101.8 466 101.4 465 100.5 464 99.5 463 99.2 462 100 461 100.5 460 100.6Z" fill="#A8CCEA"/>
<g clip-path="url(#clipA8CCEA)">
<g fill="#5FA0D8" fill-opacity="0.16"><path d="M460.3 100.6 463.6 98.3 467 95.9 470.3 93.6 473.6 91.7 477 90.3 480.3 89.2 483.6 88.1 487 86.7 490.3 84.9 493.6 82.7 497 80.5 500.3 78.4 503.6 76.9 507 75.8 510.3 75.2 513.6 74.6 517 73.7 520.3 72.4 523.6 70.6 527 68.7 530.3 67 533.6 65.6 537 64.7 540.3 64.1 543.6 63.4 547 62.4 550.3 60.8 553.6 58.7 557 56.4 560.3 54.2 563.6 52.3 567 50.9 570.3 49.8 570.3 52 460.3 101Z"/><path d="M462.1 99.5 465.4 97.3 468.8 95.5 472.1 94.1 475.4 93.1 478.8 92 482.1 90.5 485.4 88.6 488.8 86.4 492.1 84.2 495.4 82.2 498.8 80.7 502.1 79.8 505.4 79.1 508.8 78.5 512.1 77.6 515.4 76.1 518.8 74.4 522.1 72.5 525.4 70.8 528.8 69.5 532.1 68.6 535.4 68 538.8 67.3 542.1 66.2 545.4 64.5 548.8 62.4 552.1 60 555.4 57.9 558.8 56.1 562.1 54.8 565.4 53.7 568.8 52.6 572.1 51.1 572.1 52.8 462.1 101.8Z"/><path d="M463.9 99.3 467.2 98 470.6 97 473.9 95.8 477.2 94.3 480.6 92.4 483.9 90.1 487.2 87.9 490.6 85.9 493.9 84.5 497.2 83.7 500.6 83.1 503.9 82.4 507.2 81.4 510.6 79.9 513.9 78.1 517.2 76.2 520.6 74.6 523.9 73.4 527.2 72.6 530.6 72 533.9 71.2 537.2 70 540.6 68.2 543.9 66 547.2 63.7 550.6 61.6 553.9 59.9 557.2 58.7 560.6 57.6 563.9 56.4 567.2 54.9 570.6 52.8 573.9 50.5 573.9 53.7 463.9 102.7Z"/><path d="M465.7 100.8 469 99.6 472.4 98.1 475.7 96.1 479 93.8 482.4 91.6 485.7 89.7 489 88.4 492.4 87.6 495.7 87 499 86.3 502.4 85.2 505.7 83.7 509 81.8 512.4 79.9 515.7 78.4 519 77.2 522.4 76.5 525.7 75.9 529 75.1 532.4 73.8 535.7 71.9 539 69.7 542.4 67.4 545.7 65.4 549 63.7 552.4 62.5 555.7 61.5 559 60.3 562.4 58.6 565.7 56.5 569 54.1 572.4 51.8 575.7 49.7 575.7 54.5 465.7 103.5Z"/><path d="M467.5 101.8 470.8 99.8 474.2 97.5 477.5 95.3 480.8 93.5 484.2 92.3 487.5 91.5 490.8 90.9 494.2 90.2 497.5 89 500.8 87.4 504.2 85.5 507.5 83.7 510.8 82.2 514.2 81.1 517.5 80.4 520.8 79.8 524.2 78.9 527.5 77.6 530.8 75.7 534.2 73.4 537.5 71.1 540.8 69.1 544.2 67.6 547.5 66.4 550.8 65.3 554.2 64.1 557.5 62.4 560.8 60.2 564.2 57.8 567.5 55.5 570.8 53.5 574.2 52.1 577.5 51.2 577.5 55.3 467.5 104.3Z"/><path d="M469.3 101.1 472.6 99 476 97.3 479.3 96.2 482.6 95.4 486 94.9 489.3 94.1 492.6 92.8 496 91.2 499.3 89.3 502.6 87.5 506 86 509.3 85 512.6 84.4 516 83.7 519.3 82.8 522.6 81.3 526 79.4 529.3 77.1 532.6 74.8 536 72.9 539.3 71.4 542.6 70.3 546 69.2 549.3 67.9 552.6 66.1 556 63.9 559.3 61.5 562.6 59.2 566 57.3 569.3 56 572.6 55.1 576 54.3 579.3 53.4 579.3 56.2 469.3 105.2Z"/><path d="M471.1 101.1 474.4 100.1 477.8 99.4 481.1 98.8 484.4 97.9 487.8 96.6 491.1 94.9 494.4 93 497.8 91.2 501.1 89.8 504.4 88.9 507.8 88.3 511.1 87.6 514.4 86.6 517.8 85.1 521.1 83 524.4 80.7 527.8 78.5 531.1 76.7 534.4 75.3 537.8 74.1 541.1 73.1 544.4 71.7 547.8 69.8 551.1 67.6 554.4 65.1 557.8 62.9 561.1 61.1 564.4 59.8 567.8 59 571.1 58.3 574.4 57.3 577.8 55.9 581.1 54.1 581.1 57 471.1 106Z"/><path d="M472.9 103.3 476.2 102.7 479.6 101.8 482.9 100.4 486.2 98.6 489.6 96.7 492.9 95 496.2 93.7 499.6 92.8 502.9 92.2 506.2 91.5 509.6 90.5 512.9 88.8 516.2 86.7 519.6 84.4 522.9 82.3 526.2 80.5 529.6 79.1 532.9 78 536.2 76.9 539.6 75.5 542.9 73.5 546.2 71.2 549.6 68.8 552.9 66.6 556.2 64.9 559.6 63.7 562.9 62.9 566.2 62.2 569.6 61.1 572.9 59.7 576.2 57.8 579.6 55.9 582.9 54.2 582.9 57.8 472.9 106.8Z"/><path d="M474.7 105.6 478 104.2 481.4 102.4 484.7 100.5 488 98.8 491.4 97.6 494.7 96.8 498 96.2 501.4 95.4 504.7 94.3 508 92.6 511.4 90.4 514.7 88.1 518 86 521.4 84.3 524.7 83 528 81.9 531.4 80.8 534.7 79.2 538 77.3 541.4 74.9 544.7 72.5 548 70.3 551.4 68.7 554.7 67.6 558 66.8 561.4 66 564.7 65 568 63.4 571.4 61.6 574.7 59.6 578 57.9 581.4 56.7 584.7 56 584.7 58.7 474.7 107.7Z"/><path d="M476.5 106.1 479.8 104.2 483.2 102.6 486.5 101.4 489.8 100.7 493.2 100.1 496.5 99.3 499.8 98.1 503.2 96.3 506.5 94.1 509.8 91.8 513.2 89.7 516.5 88.1 519.8 86.8 523.2 85.8 526.5 84.6 529.8 83 533.2 80.9 536.5 78.6 539.8 76.2 543.2 74.1 546.5 72.5 549.8 71.5 553.2 70.7 556.5 69.9 559.8 68.8 563.2 67.2 566.5 65.3 569.8 63.4 573.2 61.7 576.5 60.6 579.8 59.9 583.2 59.4 586.5 58.8 586.5 59.5 476.5 108.5Z"/><path d="M478.3 106.4 481.6 105.3 485 104.6 488.3 104 491.6 103.2 495 101.9 498.3 100 501.6 97.8 505 95.5 508.3 93.5 511.6 91.9 515 90.7 518.3 89.7 521.6 88.4 525 86.8 528.3 84.6 531.6 82.2 535 79.9 538.3 77.9 541.6 76.4 545 75.4 548.3 74.7 551.6 73.8 555 72.6 558.3 70.9 561.6 69 565 67.1 568.3 65.6 571.6 64.5 575 63.8 578.3 63.3 581.6 62.7 585 61.5 588.3 59.8 588.3 60.3 478.3 109.3Z"/><path d="M480.1 108.5 483.5 107.9 486.8 107 490.1 105.6 493.5 103.7 496.8 101.5 500.1 99.2 503.5 97.2 506.8 95.7 510.1 94.6 513.5 93.5 516.8 92.2 520.1 90.5 523.5 88.3 526.8 85.9 530.1 83.6 533.5 81.6 536.8 80.2 540.1 79.3 543.5 78.6 546.8 77.7 550.1 76.4 553.5 74.7 556.8 72.7 560.1 70.9 563.5 69.4 566.8 68.4 570.1 67.8 573.5 67.3 576.8 66.5 580.1 65.3 583.5 63.6 586.8 61.5 590.1 59.4 590.1 61.1 480.1 110.1Z"/><path d="M481.9 110.9 485.3 109.4 488.6 107.4 491.9 105.1 495.3 102.9 498.6 101 501.9 99.6 505.3 98.5 508.6 97.4 511.9 96 515.3 94.2 518.6 92 521.9 89.6 525.3 87.3 528.6 85.4 531.9 84.1 535.3 83.2 538.6 82.5 541.9 81.5 545.3 80.2 548.6 78.4 551.9 76.5 555.3 74.6 558.6 73.2 561.9 72.3 565.3 71.7 568.6 71.2 571.9 70.4 575.3 69.1 578.6 67.3 581.9 65.2 585.3 63.1 588.6 61.3 591.9 60 591.9 62 481.9 111Z"/><path d="M483.7 111.1 487.1 108.8 490.4 106.6 493.7 104.8 497.1 103.4 500.4 102.3 503.7 101.2 507.1 99.8 510.4 98 513.7 95.7 517.1 93.2 520.4 91 523.7 89.2 527.1 88 530.4 87.1 533.7 86.4 537.1 85.4 540.4 83.9 543.7 82.1 547.1 80.2 550.4 78.4 553.7 77.1 557.1 76.2 560.4 75.7 563.7 75.1 567.1 74.3 570.4 72.9 573.7 71 577.1 68.9 580.4 66.8 583.7 65.1 587.1 63.8 590.4 62.8 593.7 61.8 593.7 62.8 483.7 111.8Z"/><path d="M485.5 110.4 488.9 108.6 492.2 107.3 495.5 106.2 498.9 105.1 502.2 103.6 505.5 101.7 508.9 99.3 512.2 96.9 515.5 94.7 518.9 93 522.2 91.9 525.5 91 528.9 90.3 532.2 89.2 535.5 87.7 538.9 85.9 542.2 83.9 545.5 82.2 548.9 80.9 552.2 80.1 555.5 79.6 558.9 79 562.2 78.1 565.5 76.6 568.9 74.7 572.2 72.6 575.5 70.6 578.9 68.9 582.2 67.7 585.5 66.7 588.9 65.7 592.2 64.3 595.5 62.4 595.5 63.6 485.5 112.6Z"/><path d="M487.3 111.1 490.7 110.1 494 108.9 497.3 107.4 500.7 105.4 504 103 507.3 100.6 510.7 98.4 514 96.8 517.3 95.7 520.7 95 524 94.2 527.3 93 530.7 91.5 534 89.6 537.3 87.6 540.7 86 544 84.8 547.3 84.1 550.7 83.6 554 83 557.3 81.9 560.7 80.4 564 78.4 567.3 76.3 570.7 74.3 574 72.7 577.3 71.6 580.7 70.6 584 69.5 587.3 68.1 590.7 66.1 594 63.7 597.3 61.2 597.3 64.5 487.3 113.5Z"/><path d="M489.1 112.8 492.5 111.1 495.8 109.1 499.1 106.6 502.5 104.3 505.8 102.2 509.1 100.7 512.5 99.6 515.8 98.9 519.1 98 522.5 96.8 525.8 95.2 529.1 93.3 532.5 91.4 535.8 89.8 539.1 88.7 542.5 88 545.8 87.5 549.1 86.9 552.5 85.8 555.8 84.1 559.1 82.1 562.5 80 565.8 78.1 569.1 76.6 572.5 75.5 575.8 74.5 579.1 73.4 582.5 71.8 585.8 69.7 589.1 67.3 592.5 64.8 595.8 62.7 599.1 61 599.1 65.3 489.1 114.3Z"/><path d="M490.9 112.7 494.3 110.3 497.6 107.9 500.9 106 504.3 104.5 507.6 103.5 510.9 102.8 514.3 101.9 517.6 100.6 520.9 99 524.3 97 527.6 95.1 530.9 93.6 534.3 92.6 537.6 91.9 540.9 91.4 544.3 90.7 547.6 89.6 550.9 87.9 554.3 85.8 557.6 83.7 560.9 81.8 564.3 80.4 567.6 79.4 570.9 78.4 574.3 77.2 577.6 75.6 580.9 73.4 584.3 71 587.6 68.5 590.9 66.4 594.3 64.8 597.6 63.7 600.9 62.8 600.9 66.1 490.9 115.1Z"/><path d="M492.7 111.6 496.1 109.7 499.4 108.4 502.7 107.5 506.1 106.7 509.4 105.8 512.7 104.4 516.1 102.7 519.4 100.7 522.7 98.9 526.1 97.4 529.4 96.5 532.7 95.9 536.1 95.4 539.4 94.6 542.7 93.4 546.1 91.6 549.4 89.5 552.7 87.4 556.1 85.6 559.4 84.3 562.7 83.2 566.1 82.3 569.4 81 572.7 79.3 576.1 77.1 579.4 74.6 582.7 72.2 586.1 70.2 589.4 68.7 592.7 67.6 596.1 66.7 599.4 65.6 602.7 64.1 602.7 67 492.7 116Z"/><path d="M494.5 112.2 497.9 111.4 501.2 110.6 504.5 109.6 507.9 108.2 511.2 106.4 514.5 104.5 517.9 102.7 521.2 101.3 524.5 100.4 527.9 99.8 531.2 99.3 534.5 98.5 537.9 97.1 541.2 95.3 544.5 93.2 547.9 91.1 551.2 89.4 554.5 88.1 557.9 87.1 561.2 86.1 564.5 84.8 567.9 83 571.2 80.8 574.5 78.3 577.9 75.9 581.2 73.9 584.5 72.5 587.9 71.5 591.2 70.5 594.5 69.4 597.9 67.9 601.2 66 604.5 63.9 604.5 67.8 494.5 116.8Z"/><path d="M496.3 114.5 499.7 113.5 503 112 506.3 110.2 509.7 108.2 513 106.4 516.3 105.1 519.7 104.3 523 103.8 526.3 103.2 529.7 102.3 533 100.9 536.3 99 539.7 96.9 543 94.9 546.3 93.2 549.7 92 553 91 556.3 90 559.7 88.6 563 86.8 566.3 84.4 569.7 81.9 573 79.6 576.3 77.7 579.7 76.4 583 75.4 586.3 74.4 589.7 73.2 593 71.6 596.3 69.7 599.7 67.6 603 65.7 606.3 64.3 606.3 68.6 496.3 117.6Z"/><path d="M498.1 115.8 501.5 113.9 504.8 111.9 508.1 110.2 511.5 109 514.8 108.2 518.1 107.7 521.5 107.1 524.8 106.2 528.1 104.7 531.5 102.7 534.8 100.6 538.1 98.6 541.5 97 544.8 95.9 548.1 94.9 551.5 93.9 554.8 92.4 558.1 90.5 561.5 88.1 564.8 85.6 568.1 83.3 571.5 81.5 574.8 80.2 578.1 79.3 581.5 78.3 584.8 77.1 588.1 75.4 591.5 73.4 594.8 71.3 598.1 69.5 601.5 68.2 604.8 67.3 608.1 66.8 608.1 69.5 498.1 118.5Z"/><path d="M499.9 109.7 503.3 109.5 506.6 110 509.9 112.1 513.3 111.7 516.6 111 519.9 110 523.3 108.4 526.6 106.4 529.9 104.3 533.3 102.4 536.6 100.9 539.9 99.7 543.3 98.8 546.6 97.7 549.9 96.2 553.3 94.2 556.6 91.8 559.9 89.3 563.3 87.1 566.6 85.3 569.9 84.1 573.3 83.2 576.6 82.2 579.9 80.9 583.3 79.1 586.6 77.1 589.9 75 593.3 73.3 596.6 72 599.9 71.3 603.3 70.8 606.6 70.2 609.9 69.3 609.9 70.3 499.9 119.3Z"/><path d="M501.7 116.3 505.1 113.5 508.4 111.4 511.7 109.8 515.1 108.8 518.4 108.3 521.7 110.1 525.1 108 528.4 106.2 531.7 104.7 535.1 103.6 538.4 102.7 541.7 101.5 545.1 100 548.4 97.8 551.7 95.4 555.1 92.9 558.4 90.8 561.7 89.1 565.1 88 568.4 87 571.7 86 575.1 84.7 578.4 82.9 581.7 80.8 585.1 78.8 588.4 77.1 591.7 75.9 595.1 75.2 598.4 74.7 601.7 74.1 605.1 73.1 608.4 71.6 611.7 69.7 611.7 71.1 501.7 120.1Z"/><path d="M503.5 114.6 506.9 114.9 510.2 114.4 513.5 110.2 516.9 106.7 520.2 103.9 523.5 102 526.9 101 530.2 100.7 533.5 101.2 536.9 105.4 540.2 103.7 543.5 101.5 546.9 99.1 550.2 96.6 553.5 94.5 556.9 93 560.2 91.9 563.5 90.9 566.9 89.9 570.2 88.4 573.5 86.6 576.9 84.5 580.2 82.5 583.5 80.9 586.9 79.8 590.2 79.1 593.5 78.7 596.9 78 600.2 76.9 603.5 75.3 606.9 73.4 610.2 71.4 613.5 69.8 613.5 72 503.5 121Z"/><path d="M505.3 110.1 508.7 108.8 512 108.6 515.3 109.3 518.7 110.6 522 112.1 525.3 110.3 528.7 107.3 532 104.7 535.3 102.6 538.7 101.1 542 100.2 545.3 99.7 548.7 99.5 552 96.8 555.3 95.7 558.7 94.8 562 93.7 565.3 92.2 568.7 90.3 572 88.2 575.3 86.2 578.7 84.7 582 83.7 585.3 83.1 588.7 82.6 592 81.9 595.3 80.7 598.7 79 602 77.1 605.3 75.2 608.7 73.6 612 72.4 615.3 71.5 615.3 72.8 505.3 121.8Z"/><path d="M507.1 121.8 510.5 118.2 513.8 114.2 517.1 110.9 520.5 108.4 523.8 106.9 527.1 106.2 530.5 106.1 533.8 106.3 537.1 106.3 540.5 102 543.8 98.3 547.1 95.4 550.5 93.3 553.8 92 557.1 91.6 560.5 91.8 563.8 94 567.1 91.9 570.5 90 573.8 88.5 577.1 87.6 580.5 87 583.8 86.5 587.1 85.8 590.5 84.5 593.8 82.8 597.1 80.8 600.5 78.9 603.8 77.4 607.1 76.3 610.5 75.4 613.8 74.6 617.1 73.4 617.1 73.6 507.1 122.6Z"/><path d="M508.9 109.5 512.3 109.8 515.6 111 518.9 112.7 522.3 112.7 525.6 107.9 528.9 104.1 532.3 101.3 535.6 99.8 538.9 99.4 542.3 99.8 545.6 101 548.9 102.4 552.3 101.9 555.6 98.8 558.9 96.1 562.3 93.9 565.6 92.3 568.9 91.3 572.3 90.6 575.6 90.3 578.9 90.5 582.3 89.6 585.6 88.3 588.9 86.5 592.3 84.5 595.6 82.7 598.9 81.2 602.3 80.1 605.6 79.3 608.9 78.5 612.3 77.2 615.6 75.4 618.9 73.2 618.9 74.5 508.9 123.5Z"/><path d="M510.7 112.5 514.1 107.9 517.4 105.2 520.7 104.4 524.1 105.1 527.4 107 530.7 109.4 534.1 112 537.4 110.2 540.7 106 544.1 102.6 547.4 100 550.7 98.2 554.1 97.3 557.4 97 560.7 97.1 564.1 97.4 567.4 94.5 570.7 90.6 574.1 87.3 577.4 84.8 580.7 83.1 584.1 82.2 587.4 82 590.7 86.4 594.1 85 597.4 84 600.7 83.3 604.1 82.3 607.4 81 610.7 79.2 614.1 76.9 617.4 74.4 620.7 72.1 620.7 75.3 510.7 124.3Z"/><path d="M512.5 103 515.9 112 519.2 119.9 522.5 116 525.9 109.6 529.2 104.9 532.5 101.9 535.9 100.6 539.2 100.6 542.5 101.6 545.9 103.1 549.2 104.8 552.5 100.3 555.9 96.1 559.2 92.9 562.5 90.9 565.9 90 569.2 90 572.5 90.8 575.9 92.1 579.2 93.5 582.5 90.9 585.9 88 589.2 85.6 592.5 83.6 595.9 82.2 599.2 81.2 602.5 80.6 605.9 82.9 609.2 80.5 612.5 78.1 615.9 75.9 619.2 74.1 622.5 72.8 622.5 76.1 512.5 125.1Z"/><path d="M514.4 67.1 517.7 74.2 521 82.9 524.4 92.2 527.7 101.6 531 110.2 534.4 116.6 537.7 105.2 541 99.9 544.4 96.5 547.7 95.1 551 95.3 554.4 96.7 557.7 98.9 561 101.5 564.4 102.7 567.7 98.4 571 94.7 574.4 91.7 577.7 89.6 581 88.2 584.4 87.5 587.7 87.3 591 87.4 594.4 87.6 597.7 83.6 601 79.9 604.4 76.8 607.7 74.4 611 72.9 614.4 72 617.7 71.9 621 75.6 624.4 74.5 624.4 77 514.4 126Z"/><path d="M516.2 57.8 519.5 55.3 522.8 55.7 526.2 59 529.5 64.7 532.8 72.4 536.2 81.3 539.5 90.7 542.8 99.8 546.2 108 549.5 109.6 552.8 102.6 556.2 97.3 559.5 93.7 562.8 91.7 566.2 91.1 569.5 91.6 572.8 92.9 576.2 94.4 579.5 93.5 582.8 88.9 586.2 85.1 589.5 82.4 592.8 80.8 596.2 80.1 599.5 80.4 602.8 81.2 606.2 82.4 609.5 83.7 612.8 80.7 616.2 77.9 619.5 75.5 622.8 73.5 626.2 71.9 626.2 77.8 516.2 126.8Z"/><path d="M518 84.3 521.3 73.1 524.6 63.6 528 56.4 531.3 52 534.6 50.5 538 51.9 541.3 56 544.6 62.4 548 70.5 551.3 79.6 554.6 88.8 558 97.7 561.3 105.4 564.6 98.7 568 92.5 571.3 88.4 574.6 86 578 85.4 581.3 86.2 584.6 88 588 90.3 591.3 92.7 594.6 91.5 598 87.5 601.3 84 604.6 81.3 608 79.3 611.3 77.9 614.6 77.2 618 76.9 621.3 76.9 624.6 77.1 628 73.4 628 78.6 518 127.6Z"/><path d="M519.8 123.2 523.1 112 526.4 99.8 529.8 87.3 533.1 75.4 536.4 64.8 539.8 56.2 543.1 49.9 546.4 46.5 549.8 46 553.1 48.4 556.4 53.3 559.8 60.2 563.1 68.5 566.4 77.6 569.8 86.7 573.1 95.2 576.4 102.4 579.8 96.4 583.1 90.4 586.4 86 589.8 83.1 593.1 81.7 596.4 81.5 599.8 82.2 603.1 83.4 606.4 84.9 609.8 82.5 613.1 78.2 616.4 74.7 619.8 72.2 623.1 70.7 626.4 70 629.8 70.2 629.8 79.4 519.8 128.4Z"/><path d="M521.6 112.6 524.9 114 528.2 117.6 531.6 124.7 534.9 114.4 538.2 102.7 541.6 90.4 544.9 78.1 548.2 66.7 551.6 56.8 554.9 49 558.2 43.8 561.6 41.4 564.9 41.9 568.2 45.1 571.6 50.6 574.9 57.9 578.2 66.4 581.6 75.4 584.9 84.2 588.2 92.3 591.6 93.1 594.9 86.2 598.2 81 601.6 77.6 604.9 76 608.2 75.8 611.6 76.8 614.9 78.6 618.2 80.8 621.6 83 624.9 81.2 628.2 77.3 631.6 73.9 631.6 80.3 521.6 129.3Z"/><path d="M523.4 121.2 526.7 116.6 530 113 533.4 111 536.7 110.8 540 112.6 543.4 116.4 546.7 116.1 550 105.1 553.4 93.2 556.7 80.9 560 69 563.4 58.1 566.7 49.1 570 42.3 573.4 38.1 576.7 36.7 580 38 583.4 41.9 586.7 47.9 590 55.5 593.4 64.1 596.7 72.9 600 81.4 603.4 89 606.7 91 610 84.3 613.4 79 616.7 75.2 620 72.8 623.4 71.6 626.7 71.5 630 72.1 633.4 73.2 633.4 81.1 523.4 130.1Z"/><path d="M525.2 124.9 528.5 126.4 531.8 123.1 535.2 117.2 538.5 111.9 541.8 107.5 545.2 104.7 548.5 103.7 551.8 104.8 555.2 108 558.5 115.2 561.8 106.9 565.2 95.5 568.5 83.5 571.8 71.3 575.2 59.9 578.5 49.8 581.8 41.7 585.2 35.8 588.5 32.7 591.8 32.2 595.2 34.4 598.5 38.9 601.8 45.2 605.2 53 608.5 61.4 611.8 70 615.2 78.2 618.5 85.4 621.8 80.9 625.2 74.7 628.5 70.2 631.8 67.3 635.2 66 635.2 81.9 525.2 130.9Z"/><path d="M527 120.6 530.3 119.1 533.6 118.8 537 119.8 540.3 121.7 543.6 122.5 547 117.3 550.3 112.2 553.6 107.7 557 104.3 560.3 102.3 563.6 102.1 567 103.8 570.3 107.5 573.6 108 577 97.3 580.3 85.7 583.6 73.7 587 61.9 590.3 51.1 593.6 41.8 597 34.6 600.3 29.8 603.6 27.6 607 28 610.3 30.9 613.6 35.8 617 42.4 620.3 50.2 623.6 58.5 627 66.8 630.3 74.6 633.6 81.7 637 79.4 637 82.8 527 131.8Z"/><path d="M528.8 130.8 532.1 126.8 535.4 123 538.8 119.9 542.1 117.5 545.4 116.2 548.8 116 552.1 116.8 555.4 118.4 558.8 114 562.1 108.2 565.4 102.9 568.8 98.7 572.1 95.9 575.4 94.9 578.8 96 582.1 99.2 585.4 104.3 588.8 98.5 592.1 87.4 595.4 75.7 598.8 63.9 602.1 52.6 605.4 42.5 608.8 34.2 612.1 28 615.4 24.2 618.8 22.9 622.1 24 625.4 27.4 628.8 32.7 632.1 39.4 635.4 47.1 638.8 55.2 638.8 83.6 528.8 132.6Z"/><path d="M530.6 126.3 533.9 126 537.2 126.4 540.6 125.7 543.9 121.3 547.2 117.3 550.6 113.9 553.9 111.6 557.2 110.3 560.6 110.3 563.9 111.5 567.2 113.6 570.6 112.6 573.9 107.5 577.2 102.6 580.6 98.4 583.9 95.3 587.2 93.7 590.6 93.7 593.9 95.6 597.2 99.3 600.6 99 603.9 88.6 607.2 77.3 610.6 65.6 613.9 54.2 617.2 43.5 620.6 34.3 623.9 26.9 627.2 21.7 630.6 18.8 633.9 18.3 637.2 20.1 640.6 24 640.6 84.4 530.6 133.4Z"/><path d="M532.4 126.4 535.7 124.1 539 122.7 542.4 122.2 545.7 122.6 549 123.5 552.4 124.6 555.7 120.7 559 116.9 562.4 113.5 565.7 110.8 569 109 572.4 108.2 575.7 108.4 579 109.5 582.4 110 585.7 104.2 589 98.5 592.4 93.5 595.7 89.6 599 87.2 602.4 86.5 605.7 87.8 609 91.1 612.4 96.2 615.7 89.1 619 78.3 622.4 67 625.7 55.5 629 44.6 632.4 34.8 635.7 26.5 639 20.1 642.4 15.8 642.4 85.3 532.4 134.3Z"/><path d="M534.2 134.3 537.5 132.1 540.8 128.6 544.2 125.4 547.5 122.6 550.8 120.6 554.2 119.3 557.5 118.7 560.8 118.9 564.2 119.5 567.5 115.5 570.8 111.2 574.2 107.4 577.5 104.5 580.8 102.7 584.2 102 587.5 102.5 590.8 104 594.2 106.4 597.5 101.9 600.8 96.9 604.2 92.4 607.5 88.7 610.8 86.2 614.2 85.2 617.5 85.8 620.8 88.1 624.2 92 627.5 88.7 630.8 78.8 634.2 67.9 637.5 56.6 640.8 45.6 644.2 35.4 644.2 86.1 534.2 135.1Z"/><path d="M536 129.3 539.3 128.4 542.6 128.1 546 128.3 549.3 125.9 552.6 122.3 556 119.1 559.3 116.6 562.6 115 566 114.2 569.3 114.4 572.6 115.2 576 116.6 579.3 113.6 582.6 109.9 586 106.5 589.3 103.7 592.6 101.8 596 100.8 599.3 100.8 602.6 101.6 606 103.1 609.3 99.3 612.6 93.6 616 88.3 619.3 83.8 622.6 80.5 626 78.6 629.3 78.6 632.6 80.3 636 83.9 639.3 85.8 642.6 78.6 646 68.2 646 86.9 536 135.9Z"/><path d="M537.8 130.1 541.1 127.9 544.4 126.4 547.8 125.6 551.1 125.5 554.4 126 557.8 126.8 561.1 124.5 564.4 121.2 567.8 118.2 571.1 115.6 574.4 113.7 577.8 112.5 581.1 112 584.4 112.2 587.8 112.8 591.1 109 594.4 104.6 597.8 100.7 601.1 97.6 604.4 95.4 607.8 94.4 611.1 94.5 614.4 95.6 617.8 97.6 621.1 95.2 624.4 90.3 627.8 85.8 631.1 81.9 634.4 79 637.8 77.3 641.1 77.1 644.4 78.5 647.8 81.4 647.8 87.8 537.8 136.8Z"/><path d="M539.6 137 542.9 134.8 546.2 131.6 549.6 128.7 552.9 126.2 556.2 124.2 559.6 122.9 562.9 122.2 566.2 122 569.6 122.1 572.9 118.5 576.2 114.8 579.6 111.6 582.9 109.1 586.2 107.5 589.6 106.8 592.9 106.9 596.2 107.7 599.6 109 602.9 105.5 606.2 101.9 609.6 98.7 612.9 96.2 616.2 94.4 619.6 93.6 622.9 93.6 626.2 94.5 629.6 95.9 632.9 93.2 636.2 87.7 639.6 82.4 642.9 77.7 646.2 74 649.6 71.6 649.6 88.6 539.6 137.6Z"/><path d="M541.4 132.7 544.7 131.9 548 131.6 551.4 131.4 554.7 127.9 558 124.7 561.4 122 564.7 120 568 118.8 571.4 118.3 574.7 118.4 578 119.1 581.4 119 584.7 115.8 588 112.8 591.4 110.2 594.7 108.1 598 106.7 601.4 106 604.7 105.9 608 106.3 611.4 106 614.7 101.6 618 97.4 621.4 93.6 624.7 90.6 628 88.4 631.4 87.4 634.7 87.4 638 88.4 641.4 90.1 644.7 87.5 648 82.7 651.4 78.2 651.4 89.4 541.4 138.4Z"/><path d="M543.2 132.4 546.5 130.8 549.8 129.8 553.2 129.5 556.5 129.7 559.8 130.2 563.2 128.9 566.5 125.9 569.8 123.2 573.2 120.8 576.5 119 579.8 117.7 583.2 117 586.5 116.7 589.8 116.8 593.2 114.2 596.5 110.4 599.8 106.9 603.2 104 606.5 101.8 609.8 100.5 613.2 100.1 616.5 100.4 619.8 101.3 623.2 100.1 626.5 96.4 629.8 93 633.2 90.2 636.5 88.1 639.8 86.8 643.2 86.4 646.5 86.9 649.8 88 653.2 89.6 653.2 90.3 543.2 139.3Z"/><path d="M545 138.5 548.3 135.7 551.6 133.1 555 130.9 558.3 129.2 561.6 128 565 127.3 568.3 126.9 571.6 126.3 575 122.7 578.3 119.3 581.6 116.4 585 114.2 588.3 112.7 591.6 112 595 111.9 598.3 112.4 601.6 112.3 605 109.2 608.3 106.3 611.6 103.8 615 101.8 618.3 100.6 621.6 100 625 100 628.3 100.4 631.6 101.2 635 97.4 638.3 93.3 641.6 89.4 645 86.1 648.3 83.6 651.6 81.9 655 81.2 655 91.1 545 140.1Z"/><path d="M546.8 137.3 550.1 137 553.4 134.6 556.8 131.4 560.1 128.5 563.4 126.2 566.8 124.5 570.1 123.6 573.4 123.3 576.8 123.5 580.1 124 583.4 121.6 586.8 118.8 590.1 116.4 593.4 114.5 596.8 113.1 600.1 112.3 603.4 111.9 606.8 112 610.1 112.2 613.4 109 616.8 105.3 620.1 101.9 623.4 99 626.8 96.8 630.1 95.4 633.4 94.7 636.8 94.7 640.1 95.3 643.4 93.9 646.8 90.1 650.1 86.6 653.4 83.7 656.8 81.5 656.8 91.9 546.8 140.9Z"/><path d="M548.6 135.1 551.9 134.7 555.2 134.7 558.6 135.1 561.9 133.6 565.2 131 568.6 128.6 571.9 126.6 575.2 125.1 578.6 124 581.9 123.4 585.2 123.2 588.6 123.2 591.9 120.4 595.2 116.9 598.6 113.7 601.9 111.1 605.2 109 608.6 107.6 611.9 106.9 615.2 106.8 618.6 107.2 621.9 105 625.2 101.8 628.6 98.9 631.9 96.6 635.2 95 638.6 94.1 641.9 93.9 645.2 94.2 648.6 95 651.9 95.3 655.2 91.4 658.6 87.7 658.6 92.8 548.6 141.8Z"/><path d="M550.4 138.4 553.7 136.7 557 135.5 560.4 134.8 563.7 134.3 567 134.1 570.4 131.6 573.7 128.3 577 125.2 580.4 122.7 583.7 120.7 587 119.3 590.4 118.7 593.7 118.5 597 118.7 600.4 116.3 603.7 113.4 607 110.9 610.4 109 613.7 107.7 617 107 620.4 106.8 623.7 107.1 627 107.6 630.4 105.6 633.7 102.3 637 99 640.4 96.2 643.7 93.9 647 92.2 650.4 91.1 653.7 90.7 657 90.8 660.4 91.2 660.4 93.6 550.4 142.6Z"/><path d="M552.2 139.4 555.5 136.5 558.9 134 562.2 132.1 565.5 130.9 568.9 130.2 572.2 130.1 575.5 130.2 578.9 127.6 582.2 125 585.5 122.8 588.9 121 592.2 119.9 595.5 119.3 598.9 119.1 602.2 119.3 605.5 119.6 608.9 116.4 612.2 113.3 615.5 110.4 618.9 108 622.2 106.1 625.5 104.7 628.9 103.9 632.2 103.6 635.5 103.6 638.9 100.8 642.2 97.2 645.5 94.1 648.9 91.5 652.2 89.7 655.5 88.5 658.9 88.1 662.2 88.4 662.2 94.4 552.2 143.4Z"/><path d="M554 141.6 557.3 138.9 560.7 136.4 564 134.4 567.3 132.8 570.7 131.8 574 131.3 577.3 131.1 580.7 131.3 584 130.3 587.3 127.3 590.7 124.3 594 121.7 597.3 119.5 600.7 117.9 604 116.7 607.3 116.1 610.7 115.8 614 114.4 617.3 111 620.7 108 624 105.4 627.3 103.5 630.7 102.3 634 101.7 637.3 101.8 640.7 102.3 644 102.9 647.3 99.8 650.7 96.9 654 94.2 657.3 91.9 660.7 90.2 664 88.9 664 95.2 554 144.2Z"/><path d="M555.8 143.1 559.1 143.1 562.5 141 565.8 138 569.1 135.3 572.5 132.8 575.8 130.9 579.1 129.5 582.5 128.5 585.8 128 589.1 127.7 592.5 124.7 595.8 121.6 599.1 119 602.5 116.9 605.8 115.5 609.1 114.8 612.5 114.6 615.8 114.9 619.1 115.4 622.5 112.9 625.8 110.2 629.1 107.7 632.5 105.7 635.8 104 639.1 102.9 642.5 102.3 645.8 102 649.1 102 652.5 100.1 655.8 96.4 659.1 92.9 662.5 89.8 665.8 87.3 665.8 96.1 555.8 145.1Z"/><path d="M557.6 141 560.9 140.3 564.3 139.9 567.6 138.2 570.9 135.1 574.3 132.3 577.6 130.1 580.9 128.5 584.3 127.6 587.6 127.2 590.9 127.3 594.3 127.7 597.6 126 600.9 123.4 604.3 121 607.6 119 610.9 117.4 614.3 116.3 617.6 115.6 620.9 115.2 624.3 115.1 627.6 112.8 630.9 109.4 634.3 106.1 637.6 103.4 640.9 101.1 644.3 99.6 647.6 98.7 650.9 98.3 654.3 98.5 657.6 98.4 660.9 95.3 664.3 92.3 667.6 89.8 667.6 96.9 557.6 145.9Z"/><path d="M559.4 140.2 562.7 139.7 566.1 139.6 569.4 139.9 572.7 139 576.1 136.4 579.4 134.1 582.7 132 586.1 130.5 589.4 129.3 592.7 128.6 596.1 128.1 599.4 127.9 602.7 125.7 606.1 122.4 609.4 119.3 612.7 116.7 616.1 114.6 619.4 113.1 622.7 112.2 626.1 111.9 629.4 112 632.7 110.5 636.1 107.6 639.4 105 642.7 102.8 646.1 101.2 649.4 100.2 652.7 99.8 656.1 99.8 659.4 100.1 662.7 100.6 666.1 97.4 669.4 94.1 669.4 97.7 559.4 146.7Z"/><path d="M561.2 143.3 564.5 142.1 567.9 141.4 571.2 140.9 574.5 140.7 577.9 138.6 581.2 135.4 584.5 132.4 587.9 129.8 591.2 127.8 594.5 126.3 597.9 125.5 601.2 125.1 604.5 125.1 607.9 122.9 611.2 120.1 614.5 117.7 617.9 115.8 621.2 114.5 624.5 113.7 627.9 113.5 631.2 113.6 634.5 114 637.9 112.3 641.2 109.3 644.5 106.4 647.9 103.9 651.2 101.8 654.5 100.1 657.9 99 661.2 98.4 664.5 98.1 667.9 98 671.2 94.3 671.2 98.6 561.2 147.6Z"/><path d="M563 142.8 566.3 140.8 569.7 139.4 573 138.5 576.3 138.1 579.7 138.1 583 135.3 586.3 132.7 589.7 130.4 593 128.7 596.3 127.5 599.7 126.9 603 126.8 606.3 127 609.7 127.2 613 124.3 616.3 121.6 619.7 119.1 623 117 626.3 115.3 629.7 114 633 113.2 636.3 112.7 639.7 112.5 643 109.3 646.3 105.9 649.7 102.9 653 100.5 656.3 98.6 659.7 97.5 663 96.9 666.3 97 669.7 97.4 673 97.1 673 99.4 563 148.4Z"/><path d="M564.8 142.9 568.1 141.4 571.5 140.4 574.8 139.9 578.1 139.9 581.5 140.2 584.8 139.2 588.1 136.5 591.5 134 594.8 131.8 598.1 130 601.5 128.6 604.8 127.7 608.1 127 611.5 126.7 614.8 124.6 618.1 121.3 621.5 118.2 624.8 115.6 628.1 113.6 631.5 112.3 634.8 111.5 638.1 111.4 641.5 111.6 644.8 110.7 648.1 107.9 651.5 105.4 654.8 103.3 658.1 101.6 661.5 100.4 664.8 99.7 668.1 99.4 671.5 99.5 674.8 99.7 674.8 100.2 564.8 149.2Z"/><path d="M566.6 146.4 569.9 144.5 573.3 143 576.6 141.9 579.9 141.2 583.3 140.7 586.6 139.9 589.9 136.6 593.3 133.5 596.6 130.7 599.9 128.5 603.3 126.9 606.6 125.9 609.9 125.4 613.3 125.4 616.6 124.8 619.9 122 623.3 119.6 626.6 117.5 629.9 115.9 633.3 114.9 636.6 114.3 639.9 114.2 643.3 114.3 646.6 114.3 649.9 111.1 653.3 108 656.6 105.2 659.9 102.7 663.3 100.6 666.6 99.2 669.9 98.2 673.3 97.7 676.6 97.6 676.6 101.1 566.6 150.1Z"/><path d="M568.4 145.7 571.7 143.3 575.1 141.5 578.4 140.2 581.7 139.5 585.1 139.3 588.4 139.1 591.7 136.3 595.1 133.8 598.4 131.6 601.7 130 605.1 128.9 608.4 128.4 611.7 128.3 615.1 128.5 618.4 128.2 621.7 125.3 625.1 122.5 628.4 119.9 631.7 117.8 635.1 116 638.4 114.8 641.7 113.9 645.1 113.5 648.4 113.2 651.7 109.8 655.1 106.6 658.4 103.7 661.7 101.4 665.1 99.7 668.4 98.6 671.7 98.2 675.1 98.3 678.4 98.8 678.4 101.9 568.4 150.9Z"/></g>
<path d="M460.3 98.8L570.3 49.8M463.9 100.7L573.9 51.7M467.5 102.3L577.5 53.3M471.1 103.8L581.1 54.8M474.7 105.6L584.7 56.6M478.3 107.5L588.3 58.5M481.9 109.1L591.9 60.1M485.5 110.8L595.5 61.8M489.1 112.6L599.1 63.6M492.7 114L602.7 65M496.3 115.6L606.3 66.6M499.9 117.6L609.9 68.6M503.5 118.1L613.5 69.1M507.1 120.4L617.1 71.4M510.7 121.1L620.7 72.1M514.4 118.6L624.4 69.6M518 119.9L628 70.9M521.6 120.7L631.6 71.7M525.2 122.4L635.2 73.4M528.8 124L638.8 75M532.4 126.7L642.4 77.7M536 129.9L646 80.9M539.6 133.1L649.6 84.1M543.2 135.1L653.2 86.1M546.8 136.9L656.8 87.9M550.4 138.6L660.4 89.6M554 140.3L664 91.3M557.6 142L667.6 93M561.2 144.1L671.2 95.1M564.8 145.7L674.8 96.7M568.4 146.7L678.4 97.7" fill="none" stroke="#C8E0F4" stroke-width="1.0" stroke-opacity="0.45"/>
<path d="M460.3 100.6 463.6 98.3 467 95.9 470.3 93.6 473.6 91.7 477 90.3 480.3 89.2 483.6 88.1 487 86.7 490.3 84.9 493.6 82.7 497 80.5 500.3 78.4 503.6 76.9 507 75.8 510.3 75.2 513.6 74.6 517 73.7 520.3 72.4 523.6 70.6 527 68.7 530.3 67 533.6 65.6 537 64.7 540.3 64.1 543.6 63.4 547 62.4 550.3 60.8 553.6 58.7 557 56.4 560.3 54.2 563.6 52.3 567 50.9 570.3 49.8M462.1 99.5 465.4 97.3 468.8 95.5 472.1 94.1 475.4 93.1 478.8 92 482.1 90.5 485.4 88.6 488.8 86.4 492.1 84.2 495.4 82.2 498.8 80.7 502.1 79.8 505.4 79.1 508.8 78.5 512.1 77.6 515.4 76.1 518.8 74.4 522.1 72.5 525.4 70.8 528.8 69.5 532.1 68.6 535.4 68 538.8 67.3 542.1 66.2 545.4 64.5 548.8 62.4 552.1 60 555.4 57.9 558.8 56.1 562.1 54.8 565.4 53.7 568.8 52.6 572.1 51.1M463.9 99.3 467.2 98 470.6 97 473.9 95.8 477.2 94.3 480.6 92.4 483.9 90.1 487.2 87.9 490.6 85.9 493.9 84.5 497.2 83.7 500.6 83.1 503.9 82.4 507.2 81.4 510.6 79.9 513.9 78.1 517.2 76.2 520.6 74.6 523.9 73.4 527.2 72.6 530.6 72 533.9 71.2 537.2 70 540.6 68.2 543.9 66 547.2 63.7 550.6 61.6 553.9 59.9 557.2 58.7 560.6 57.6 563.9 56.4 567.2 54.9 570.6 52.8 573.9 50.5M465.7 100.8 469 99.6 472.4 98.1 475.7 96.1 479 93.8 482.4 91.6 485.7 89.7 489 88.4 492.4 87.6 495.7 87 499 86.3 502.4 85.2 505.7 83.7 509 81.8 512.4 79.9 515.7 78.4 519 77.2 522.4 76.5 525.7 75.9 529 75.1 532.4 73.8 535.7 71.9 539 69.7 542.4 67.4 545.7 65.4 549 63.7 552.4 62.5 555.7 61.5 559 60.3 562.4 58.6 565.7 56.5 569 54.1 572.4 51.8 575.7 49.7M467.5 101.8 470.8 99.8 474.2 97.5 477.5 95.3 480.8 93.5 484.2 92.3 487.5 91.5 490.8 90.9 494.2 90.2 497.5 89 500.8 87.4 504.2 85.5 507.5 83.7 510.8 82.2 514.2 81.1 517.5 80.4 520.8 79.8 524.2 78.9 527.5 77.6 530.8 75.7 534.2 73.4 537.5 71.1 540.8 69.1 544.2 67.6 547.5 66.4 550.8 65.3 554.2 64.1 557.5 62.4 560.8 60.2 564.2 57.8 567.5 55.5 570.8 53.5 574.2 52.1 577.5 51.2M469.3 101.1 472.6 99 476 97.3 479.3 96.2 482.6 95.4 486 94.9 489.3 94.1 492.6 92.8 496 91.2 499.3 89.3 502.6 87.5 506 86 509.3 85 512.6 84.4 516 83.7 519.3 82.8 522.6 81.3 526 79.4 529.3 77.1 532.6 74.8 536 72.9 539.3 71.4 542.6 70.3 546 69.2 549.3 67.9 552.6 66.1 556 63.9 559.3 61.5 562.6 59.2 566 57.3 569.3 56 572.6 55.1 576 54.3 579.3 53.4M471.1 101.1 474.4 100.1 477.8 99.4 481.1 98.8 484.4 97.9 487.8 96.6 491.1 94.9 494.4 93 497.8 91.2 501.1 89.8 504.4 88.9 507.8 88.3 511.1 87.6 514.4 86.6 517.8 85.1 521.1 83 524.4 80.7 527.8 78.5 531.1 76.7 534.4 75.3 537.8 74.1 541.1 73.1 544.4 71.7 547.8 69.8 551.1 67.6 554.4 65.1 557.8 62.9 561.1 61.1 564.4 59.8 567.8 59 571.1 58.3 574.4 57.3 577.8 55.9 581.1 54.1M472.9 103.3 476.2 102.7 479.6 101.8 482.9 100.4 486.2 98.6 489.6 96.7 492.9 95 496.2 93.7 499.6 92.8 502.9 92.2 506.2 91.5 509.6 90.5 512.9 88.8 516.2 86.7 519.6 84.4 522.9 82.3 526.2 80.5 529.6 79.1 532.9 78 536.2 76.9 539.6 75.5 542.9 73.5 546.2 71.2 549.6 68.8 552.9 66.6 556.2 64.9 559.6 63.7 562.9 62.9 566.2 62.2 569.6 61.1 572.9 59.7 576.2 57.8 579.6 55.9 582.9 54.2M474.7 105.6 478 104.2 481.4 102.4 484.7 100.5 488 98.8 491.4 97.6 494.7 96.8 498 96.2 501.4 95.4 504.7 94.3 508 92.6 511.4 90.4 514.7 88.1 518 86 521.4 84.3 524.7 83 528 81.9 531.4 80.8 534.7 79.2 538 77.3 541.4 74.9 544.7 72.5 548 70.3 551.4 68.7 554.7 67.6 558 66.8 561.4 66 564.7 65 568 63.4 571.4 61.6 574.7 59.6 578 57.9 581.4 56.7 584.7 56M476.5 106.1 479.8 104.2 483.2 102.6 486.5 101.4 489.8 100.7 493.2 100.1 496.5 99.3 499.8 98.1 503.2 96.3 506.5 94.1 509.8 91.8 513.2 89.7 516.5 88.1 519.8 86.8 523.2 85.8 526.5 84.6 529.8 83 533.2 80.9 536.5 78.6 539.8 76.2 543.2 74.1 546.5 72.5 549.8 71.5 553.2 70.7 556.5 69.9 559.8 68.8 563.2 67.2 566.5 65.3 569.8 63.4 573.2 61.7 576.5 60.6 579.8 59.9 583.2 59.4 586.5 58.8M478.3 106.4 481.6 105.3 485 104.6 488.3 104 491.6 103.2 495 101.9 498.3 100 501.6 97.8 505 95.5 508.3 93.5 511.6 91.9 515 90.7 518.3 89.7 521.6 88.4 525 86.8 528.3 84.6 531.6 82.2 535 79.9 538.3 77.9 541.6 76.4 545 75.4 548.3 74.7 551.6 73.8 555 72.6 558.3 70.9 561.6 69 565 67.1 568.3 65.6 571.6 64.5 575 63.8 578.3 63.3 581.6 62.7 585 61.5 588.3 59.8M480.1 108.5 483.5 107.9 486.8 107 490.1 105.6 493.5 103.7 496.8 101.5 500.1 99.2 503.5 97.2 506.8 95.7 510.1 94.6 513.5 93.5 516.8 92.2 520.1 90.5 523.5 88.3 526.8 85.9 530.1 83.6 533.5 81.6 536.8 80.2 540.1 79.3 543.5 78.6 546.8 77.7 550.1 76.4 553.5 74.7 556.8 72.7 560.1 70.9 563.5 69.4 566.8 68.4 570.1 67.8 573.5 67.3 576.8 66.5 580.1 65.3 583.5 63.6 586.8 61.5 590.1 59.4M481.9 110.9 485.3 109.4 488.6 107.4 491.9 105.1 495.3 102.9 498.6 101 501.9 99.6 505.3 98.5 508.6 97.4 511.9 96 515.3 94.2 518.6 92 521.9 89.6 525.3 87.3 528.6 85.4 531.9 84.1 535.3 83.2 538.6 82.5 541.9 81.5 545.3 80.2 548.6 78.4 551.9 76.5 555.3 74.6 558.6 73.2 561.9 72.3 565.3 71.7 568.6 71.2 571.9 70.4 575.3 69.1 578.6 67.3 581.9 65.2 585.3 63.1 588.6 61.3 591.9 60M483.7 111.1 487.1 108.8 490.4 106.6 493.7 104.8 497.1 103.4 500.4 102.3 503.7 101.2 507.1 99.8 510.4 98 513.7 95.7 517.1 93.2 520.4 91 523.7 89.2 527.1 88 530.4 87.1 533.7 86.4 537.1 85.4 540.4 83.9 543.7 82.1 547.1 80.2 550.4 78.4 553.7 77.1 557.1 76.2 560.4 75.7 563.7 75.1 567.1 74.3 570.4 72.9 573.7 71 577.1 68.9 580.4 66.8 583.7 65.1 587.1 63.8 590.4 62.8 593.7 61.8M485.5 110.4 488.9 108.6 492.2 107.3 495.5 106.2 498.9 105.1 502.2 103.6 505.5 101.7 508.9 99.3 512.2 96.9 515.5 94.7 518.9 93 522.2 91.9 525.5 91 528.9 90.3 532.2 89.2 535.5 87.7 538.9 85.9 542.2 83.9 545.5 82.2 548.9 80.9 552.2 80.1 555.5 79.6 558.9 79 562.2 78.1 565.5 76.6 568.9 74.7 572.2 72.6 575.5 70.6 578.9 68.9 582.2 67.7 585.5 66.7 588.9 65.7 592.2 64.3 595.5 62.4M487.3 111.1 490.7 110.1 494 108.9 497.3 107.4 500.7 105.4 504 103 507.3 100.6 510.7 98.4 514 96.8 517.3 95.7 520.7 95 524 94.2 527.3 93 530.7 91.5 534 89.6 537.3 87.6 540.7 86 544 84.8 547.3 84.1 550.7 83.6 554 83 557.3 81.9 560.7 80.4 564 78.4 567.3 76.3 570.7 74.3 574 72.7 577.3 71.6 580.7 70.6 584 69.5 587.3 68.1 590.7 66.1 594 63.7 597.3 61.2M489.1 112.8 492.5 111.1 495.8 109.1 499.1 106.6 502.5 104.3 505.8 102.2 509.1 100.7 512.5 99.6 515.8 98.9 519.1 98 522.5 96.8 525.8 95.2 529.1 93.3 532.5 91.4 535.8 89.8 539.1 88.7 542.5 88 545.8 87.5 549.1 86.9 552.5 85.8 555.8 84.1 559.1 82.1 562.5 80 565.8 78.1 569.1 76.6 572.5 75.5 575.8 74.5 579.1 73.4 582.5 71.8 585.8 69.7 589.1 67.3 592.5 64.8 595.8 62.7 599.1 61M490.9 112.7 494.3 110.3 497.6 107.9 500.9 106 504.3 104.5 507.6 103.5 510.9 102.8 514.3 101.9 517.6 100.6 520.9 99 524.3 97 527.6 95.1 530.9 93.6 534.3 92.6 537.6 91.9 540.9 91.4 544.3 90.7 547.6 89.6 550.9 87.9 554.3 85.8 557.6 83.7 560.9 81.8 564.3 80.4 567.6 79.4 570.9 78.4 574.3 77.2 577.6 75.6 580.9 73.4 584.3 71 587.6 68.5 590.9 66.4 594.3 64.8 597.6 63.7 600.9 62.8M492.7 111.6 496.1 109.7 499.4 108.4 502.7 107.5 506.1 106.7 509.4 105.8 512.7 104.4 516.1 102.7 519.4 100.7 522.7 98.9 526.1 97.4 529.4 96.5 532.7 95.9 536.1 95.4 539.4 94.6 542.7 93.4 546.1 91.6 549.4 89.5 552.7 87.4 556.1 85.6 559.4 84.3 562.7 83.2 566.1 82.3 569.4 81 572.7 79.3 576.1 77.1 579.4 74.6 582.7 72.2 586.1 70.2 589.4 68.7 592.7 67.6 596.1 66.7 599.4 65.6 602.7 64.1M494.5 112.2 497.9 111.4 501.2 110.6 504.5 109.6 507.9 108.2 511.2 106.4 514.5 104.5 517.9 102.7 521.2 101.3 524.5 100.4 527.9 99.8 531.2 99.3 534.5 98.5 537.9 97.1 541.2 95.3 544.5 93.2 547.9 91.1 551.2 89.4 554.5 88.1 557.9 87.1 561.2 86.1 564.5 84.8 567.9 83 571.2 80.8 574.5 78.3 577.9 75.9 581.2 73.9 584.5 72.5 587.9 71.5 591.2 70.5 594.5 69.4 597.9 67.9 601.2 66 604.5 63.9M496.3 114.5 499.7 113.5 503 112 506.3 110.2 509.7 108.2 513 106.4 516.3 105.1 519.7 104.3 523 103.8 526.3 103.2 529.7 102.3 533 100.9 536.3 99 539.7 96.9 543 94.9 546.3 93.2 549.7 92 553 91 556.3 90 559.7 88.6 563 86.8 566.3 84.4 569.7 81.9 573 79.6 576.3 77.7 579.7 76.4 583 75.4 586.3 74.4 589.7 73.2 593 71.6 596.3 69.7 599.7 67.6 603 65.7 606.3 64.3M498.1 115.8 501.5 113.9 504.8 111.9 508.1 110.2 511.5 109 514.8 108.2 518.1 107.7 521.5 107.1 524.8 106.2 528.1 104.7 531.5 102.7 534.8 100.6 538.1 98.6 541.5 97 544.8 95.9 548.1 94.9 551.5 93.9 554.8 92.4 558.1 90.5 561.5 88.1 564.8 85.6 568.1 83.3 571.5 81.5 574.8 80.2 578.1 79.3 581.5 78.3 584.8 77.1 588.1 75.4 591.5 73.4 594.8 71.3 598.1 69.5 601.5 68.2 604.8 67.3 608.1 66.8M499.9 109.7 503.3 109.5 506.6 110 509.9 112.1 513.3 111.7 516.6 111 519.9 110 523.3 108.4 526.6 106.4 529.9 104.3 533.3 102.4 536.6 100.9 539.9 99.7 543.3 98.8 546.6 97.7 549.9 96.2 553.3 94.2 556.6 91.8 559.9 89.3 563.3 87.1 566.6 85.3 569.9 84.1 573.3 83.2 576.6 82.2 579.9 80.9 583.3 79.1 586.6 77.1 589.9 75 593.3 73.3 596.6 72 599.9 71.3 603.3 70.8 606.6 70.2 609.9 69.3M501.7 116.3 505.1 113.5 508.4 111.4 511.7 109.8 515.1 108.8 518.4 108.3 521.7 110.1 525.1 108 528.4 106.2 531.7 104.7 535.1 103.6 538.4 102.7 541.7 101.5 545.1 100 548.4 97.8 551.7 95.4 555.1 92.9 558.4 90.8 561.7 89.1 565.1 88 568.4 87 571.7 86 575.1 84.7 578.4 82.9 581.7 80.8 585.1 78.8 588.4 77.1 591.7 75.9 595.1 75.2 598.4 74.7 601.7 74.1 605.1 73.1 608.4 71.6 611.7 69.7M503.5 114.6 506.9 114.9 510.2 114.4 513.5 110.2 516.9 106.7 520.2 103.9 523.5 102 526.9 101 530.2 100.7 533.5 101.2 536.9 105.4 540.2 103.7 543.5 101.5 546.9 99.1 550.2 96.6 553.5 94.5 556.9 93 560.2 91.9 563.5 90.9 566.9 89.9 570.2 88.4 573.5 86.6 576.9 84.5 580.2 82.5 583.5 80.9 586.9 79.8 590.2 79.1 593.5 78.7 596.9 78 600.2 76.9 603.5 75.3 606.9 73.4 610.2 71.4 613.5 69.8M505.3 110.1 508.7 108.8 512 108.6 515.3 109.3 518.7 110.6 522 112.1 525.3 110.3 528.7 107.3 532 104.7 535.3 102.6 538.7 101.1 542 100.2 545.3 99.7 548.7 99.5 552 96.8 555.3 95.7 558.7 94.8 562 93.7 565.3 92.2 568.7 90.3 572 88.2 575.3 86.2 578.7 84.7 582 83.7 585.3 83.1 588.7 82.6 592 81.9 595.3 80.7 598.7 79 602 77.1 605.3 75.2 608.7 73.6 612 72.4 615.3 71.5M507.1 121.8 510.5 118.2 513.8 114.2 517.1 110.9 520.5 108.4 523.8 106.9 527.1 106.2 530.5 106.1 533.8 106.3 537.1 106.3 540.5 102 543.8 98.3 547.1 95.4 550.5 93.3 553.8 92 557.1 91.6 560.5 91.8 563.8 94 567.1 91.9 570.5 90 573.8 88.5 577.1 87.6 580.5 87 583.8 86.5 587.1 85.8 590.5 84.5 593.8 82.8 597.1 80.8 600.5 78.9 603.8 77.4 607.1 76.3 610.5 75.4 613.8 74.6 617.1 73.4M508.9 109.5 512.3 109.8 515.6 111 518.9 112.7 522.3 112.7 525.6 107.9 528.9 104.1 532.3 101.3 535.6 99.8 538.9 99.4 542.3 99.8 545.6 101 548.9 102.4 552.3 101.9 555.6 98.8 558.9 96.1 562.3 93.9 565.6 92.3 568.9 91.3 572.3 90.6 575.6 90.3 578.9 90.5 582.3 89.6 585.6 88.3 588.9 86.5 592.3 84.5 595.6 82.7 598.9 81.2 602.3 80.1 605.6 79.3 608.9 78.5 612.3 77.2 615.6 75.4 618.9 73.2M510.7 112.5 514.1 107.9 517.4 105.2 520.7 104.4 524.1 105.1 527.4 107 530.7 109.4 534.1 112 537.4 110.2 540.7 106 544.1 102.6 547.4 100 550.7 98.2 554.1 97.3 557.4 97 560.7 97.1 564.1 97.4 567.4 94.5 570.7 90.6 574.1 87.3 577.4 84.8 580.7 83.1 584.1 82.2 587.4 82 590.7 86.4 594.1 85 597.4 84 600.7 83.3 604.1 82.3 607.4 81 610.7 79.2 614.1 76.9 617.4 74.4 620.7 72.1M515.9 112 519.2 119.9 522.5 116 525.9 109.6 529.2 104.9 532.5 101.9 535.9 100.6 539.2 100.6 542.5 101.6 545.9 103.1 549.2 104.8 552.5 100.3 555.9 96.1 559.2 92.9 562.5 90.9 565.9 90 569.2 90 572.5 90.8 575.9 92.1 579.2 93.5 582.5 90.9 585.9 88 589.2 85.6 592.5 83.6 595.9 82.2 599.2 81.2 602.5 80.6 605.9 82.9 609.2 80.5 612.5 78.1 615.9 75.9 619.2 74.1 622.5 72.8M527.7 101.6 531 110.2 534.4 116.6 537.7 105.2 541 99.9 544.4 96.5 547.7 95.1 551 95.3 554.4 96.7 557.7 98.9 561 101.5 564.4 102.7 567.7 98.4 571 94.7 574.4 91.7 577.7 89.6 581 88.2 584.4 87.5 587.7 87.3 591 87.4 594.4 87.6 597.7 83.6 601 79.9 604.4 76.8 607.7 74.4 611 72.9 614.4 72 617.7 71.9 621 75.6 624.4 74.5M542.8 99.8 546.2 108 549.5 109.6 552.8 102.6 556.2 97.3 559.5 93.7 562.8 91.7 566.2 91.1 569.5 91.6 572.8 92.9 576.2 94.4 579.5 93.5 582.8 88.9 586.2 85.1 589.5 82.4 592.8 80.8 596.2 80.1 599.5 80.4 602.8 81.2 606.2 82.4 609.5 83.7 612.8 80.7 616.2 77.9 619.5 75.5 622.8 73.5 626.2 71.9M558 97.7 561.3 105.4 564.6 98.7 568 92.5 571.3 88.4 574.6 86 578 85.4 581.3 86.2 584.6 88 588 90.3 591.3 92.7 594.6 91.5 598 87.5 601.3 84 604.6 81.3 608 79.3 611.3 77.9 614.6 77.2 618 76.9 621.3 76.9 624.6 77.1 628 73.4M519.8 123.2 523.1 112M569.8 86.7 573.1 95.2 576.4 102.4 579.8 96.4 583.1 90.4 586.4 86 589.8 83.1 593.1 81.7 596.4 81.5 599.8 82.2 603.1 83.4 606.4 84.9 609.8 82.5 613.1 78.2 616.4 74.7 619.8 72.2 623.1 70.7 626.4 70 629.8 70.2M521.6 112.6 524.9 114 528.2 117.6 531.6 124.7 534.9 114.4 538.2 102.7M584.9 84.2 588.2 92.3 591.6 93.1 594.9 86.2 598.2 81 601.6 77.6 604.9 76 608.2 75.8 611.6 76.8 614.9 78.6 618.2 80.8 621.6 83 624.9 81.2 628.2 77.3 631.6 73.9M523.4 121.2 526.7 116.6 530 113 533.4 111 536.7 110.8 540 112.6 543.4 116.4 546.7 116.1 550 105.1M600 81.4 603.4 89 606.7 91 610 84.3 613.4 79 616.7 75.2 620 72.8 623.4 71.6 626.7 71.5 630 72.1 633.4 73.2M525.2 124.9 528.5 126.4 531.8 123.1 535.2 117.2 538.5 111.9 541.8 107.5 545.2 104.7 548.5 103.7 551.8 104.8 555.2 108 558.5 115.2 561.8 106.9 565.2 95.5M615.2 78.2 618.5 85.4 621.8 80.9 625.2 74.7 628.5 70.2 631.8 67.3 635.2 66M527 120.6 530.3 119.1 533.6 118.8 537 119.8 540.3 121.7 543.6 122.5 547 117.3 550.3 112.2 553.6 107.7 557 104.3 560.3 102.3 563.6 102.1 567 103.8 570.3 107.5 573.6 108 577 97.3M627 66.8 630.3 74.6 633.6 81.7 637 79.4M528.8 130.8 532.1 126.8 535.4 123 538.8 119.9 542.1 117.5 545.4 116.2 548.8 116 552.1 116.8 555.4 118.4 558.8 114 562.1 108.2 565.4 102.9 568.8 98.7 572.1 95.9 575.4 94.9 578.8 96 582.1 99.2 585.4 104.3 588.8 98.5 592.1 87.4M530.6 126.3 533.9 126 537.2 126.4 540.6 125.7 543.9 121.3 547.2 117.3 550.6 113.9 553.9 111.6 557.2 110.3 560.6 110.3 563.9 111.5 567.2 113.6 570.6 112.6 573.9 107.5 577.2 102.6 580.6 98.4 583.9 95.3 587.2 93.7 590.6 93.7 593.9 95.6 597.2 99.3 600.6 99 603.9 88.6M532.4 126.4 535.7 124.1 539 122.7 542.4 122.2 545.7 122.6 549 123.5 552.4 124.6 555.7 120.7 559 116.9 562.4 113.5 565.7 110.8 569 109 572.4 108.2 575.7 108.4 579 109.5 582.4 110 585.7 104.2 589 98.5 592.4 93.5 595.7 89.6 599 87.2 602.4 86.5 605.7 87.8 609 91.1 612.4 96.2 615.7 89.1 619 78.3M534.2 134.3 537.5 132.1 540.8 128.6 544.2 125.4 547.5 122.6 550.8 120.6 554.2 119.3 557.5 118.7 560.8 118.9 564.2 119.5 567.5 115.5 570.8 111.2 574.2 107.4 577.5 104.5 580.8 102.7 584.2 102 587.5 102.5 590.8 104 594.2 106.4 597.5 101.9 600.8 96.9 604.2 92.4 607.5 88.7 610.8 86.2 614.2 85.2 617.5 85.8 620.8 88.1 624.2 92 627.5 88.7 630.8 78.8M536 129.3 539.3 128.4 542.6 128.1 546 128.3 549.3 125.9 552.6 122.3 556 119.1 559.3 116.6 562.6 115 566 114.2 569.3 114.4 572.6 115.2 576 116.6 579.3 113.6 582.6 109.9 586 106.5 589.3 103.7 592.6 101.8 596 100.8 599.3 100.8 602.6 101.6 606 103.1 609.3 99.3 612.6 93.6 616 88.3 619.3 83.8 622.6 80.5 626 78.6 629.3 78.6 632.6 80.3 636 83.9 639.3 85.8 642.6 78.6 646 68.2M537.8 130.1 541.1 127.9 544.4 126.4 547.8 125.6 551.1 125.5 554.4 126 557.8 126.8 561.1 124.5 564.4 121.2 567.8 118.2 571.1 115.6 574.4 113.7 577.8 112.5 581.1 112 584.4 112.2 587.8 112.8 591.1 109 594.4 104.6 597.8 100.7 601.1 97.6 604.4 95.4 607.8 94.4 611.1 94.5 614.4 95.6 617.8 97.6 621.1 95.2 624.4 90.3 627.8 85.8 631.1 81.9 634.4 79 637.8 77.3 641.1 77.1 644.4 78.5 647.8 81.4M539.6 137 542.9 134.8 546.2 131.6 549.6 128.7 552.9 126.2 556.2 124.2 559.6 122.9 562.9 122.2 566.2 122 569.6 122.1 572.9 118.5 576.2 114.8 579.6 111.6 582.9 109.1 586.2 107.5 589.6 106.8 592.9 106.9 596.2 107.7 599.6 109 602.9 105.5 606.2 101.9 609.6 98.7 612.9 96.2 616.2 94.4 619.6 93.6 622.9 93.6 626.2 94.5 629.6 95.9 632.9 93.2 636.2 87.7 639.6 82.4 642.9 77.7 646.2 74 649.6 71.6M541.4 132.7 544.7 131.9 548 131.6 551.4 131.4 554.7 127.9 558 124.7 561.4 122 564.7 120 568 118.8 571.4 118.3 574.7 118.4 578 119.1 581.4 119 584.7 115.8 588 112.8 591.4 110.2 594.7 108.1 598 106.7 601.4 106 604.7 105.9 608 106.3 611.4 106 614.7 101.6 618 97.4 621.4 93.6 624.7 90.6 628 88.4 631.4 87.4 634.7 87.4 638 88.4 641.4 90.1 644.7 87.5 648 82.7 651.4 78.2M543.2 132.4 546.5 130.8 549.8 129.8 553.2 129.5 556.5 129.7 559.8 130.2 563.2 128.9 566.5 125.9 569.8 123.2 573.2 120.8 576.5 119 579.8 117.7 583.2 117 586.5 116.7 589.8 116.8 593.2 114.2 596.5 110.4 599.8 106.9 603.2 104 606.5 101.8 609.8 100.5 613.2 100.1 616.5 100.4 619.8 101.3 623.2 100.1 626.5 96.4 629.8 93 633.2 90.2 636.5 88.1 639.8 86.8 643.2 86.4 646.5 86.9 649.8 88 653.2 89.6M545 138.5 548.3 135.7 551.6 133.1 555 130.9 558.3 129.2 561.6 128 565 127.3 568.3 126.9 571.6 126.3 575 122.7 578.3 119.3 581.6 116.4 585 114.2 588.3 112.7 591.6 112 595 111.9 598.3 112.4 601.6 112.3 605 109.2 608.3 106.3 611.6 103.8 615 101.8 618.3 100.6 621.6 100 625 100 628.3 100.4 631.6 101.2 635 97.4 638.3 93.3 641.6 89.4 645 86.1 648.3 83.6 651.6 81.9 655 81.2M546.8 137.3 550.1 137 553.4 134.6 556.8 131.4 560.1 128.5 563.4 126.2 566.8 124.5 570.1 123.6 573.4 123.3 576.8 123.5 580.1 124 583.4 121.6 586.8 118.8 590.1 116.4 593.4 114.5 596.8 113.1 600.1 112.3 603.4 111.9 606.8 112 610.1 112.2 613.4 109 616.8 105.3 620.1 101.9 623.4 99 626.8 96.8 630.1 95.4 633.4 94.7 636.8 94.7 640.1 95.3 643.4 93.9 646.8 90.1 650.1 86.6 653.4 83.7 656.8 81.5M548.6 135.1 551.9 134.7 555.2 134.7 558.6 135.1 561.9 133.6 565.2 131 568.6 128.6 571.9 126.6 575.2 125.1 578.6 124 581.9 123.4 585.2 123.2 588.6 123.2 591.9 120.4 595.2 116.9 598.6 113.7 601.9 111.1 605.2 109 608.6 107.6 611.9 106.9 615.2 106.8 618.6 107.2 621.9 105 625.2 101.8 628.6 98.9 631.9 96.6 635.2 95 638.6 94.1 641.9 93.9 645.2 94.2 648.6 95 651.9 95.3 655.2 91.4 658.6 87.7M550.4 138.4 553.7 136.7 557 135.5 560.4 134.8 563.7 134.3 567 134.1 570.4 131.6 573.7 128.3 577 125.2 580.4 122.7 583.7 120.7 587 119.3 590.4 118.7 593.7 118.5 597 118.7 600.4 116.3 603.7 113.4 607 110.9 610.4 109 613.7 107.7 617 107 620.4 106.8 623.7 107.1 627 107.6 630.4 105.6 633.7 102.3 637 99 640.4 96.2 643.7 93.9 647 92.2 650.4 91.1 653.7 90.7 657 90.8 660.4 91.2M552.2 139.4 555.5 136.5 558.9 134 562.2 132.1 565.5 130.9 568.9 130.2 572.2 130.1 575.5 130.2 578.9 127.6 582.2 125 585.5 122.8 588.9 121 592.2 119.9 595.5 119.3 598.9 119.1 602.2 119.3 605.5 119.6 608.9 116.4 612.2 113.3 615.5 110.4 618.9 108 622.2 106.1 625.5 104.7 628.9 103.9 632.2 103.6 635.5 103.6 638.9 100.8 642.2 97.2 645.5 94.1 648.9 91.5 652.2 89.7 655.5 88.5 658.9 88.1 662.2 88.4M554 141.6 557.3 138.9 560.7 136.4 564 134.4 567.3 132.8 570.7 131.8 574 131.3 577.3 131.1 580.7 131.3 584 130.3 587.3 127.3 590.7 124.3 594 121.7 597.3 119.5 600.7 117.9 604 116.7 607.3 116.1 610.7 115.8 614 114.4 617.3 111 620.7 108 624 105.4 627.3 103.5 630.7 102.3 634 101.7 637.3 101.8 640.7 102.3 644 102.9 647.3 99.8 650.7 96.9 654 94.2 657.3 91.9 660.7 90.2 664 88.9M555.8 143.1 559.1 143.1 562.5 141 565.8 138 569.1 135.3 572.5 132.8 575.8 130.9 579.1 129.5 582.5 128.5 585.8 128 589.1 127.7 592.5 124.7 595.8 121.6 599.1 119 602.5 116.9 605.8 115.5 609.1 114.8 612.5 114.6 615.8 114.9 619.1 115.4 622.5 112.9 625.8 110.2 629.1 107.7 632.5 105.7 635.8 104 639.1 102.9 642.5 102.3 645.8 102 649.1 102 652.5 100.1 655.8 96.4 659.1 92.9 662.5 89.8 665.8 87.3M557.6 141 560.9 140.3 564.3 139.9 567.6 138.2 570.9 135.1 574.3 132.3 577.6 130.1 580.9 128.5 584.3 127.6 587.6 127.2 590.9 127.3 594.3 127.7 597.6 126 600.9 123.4 604.3 121 607.6 119 610.9 117.4 614.3 116.3 617.6 115.6 620.9 115.2 624.3 115.1 627.6 112.8 630.9 109.4 634.3 106.1 637.6 103.4 640.9 101.1 644.3 99.6 647.6 98.7 650.9 98.3 654.3 98.5 657.6 98.4 660.9 95.3 664.3 92.3 667.6 89.8M559.4 140.2 562.7 139.7 566.1 139.6 569.4 139.9 572.7 139 576.1 136.4 579.4 134.1 582.7 132 586.1 130.5 589.4 129.3 592.7 128.6 596.1 128.1 599.4 127.9 602.7 125.7 606.1 122.4 609.4 119.3 612.7 116.7 616.1 114.6 619.4 113.1 622.7 112.2 626.1 111.9 629.4 112 632.7 110.5 636.1 107.6 639.4 105 642.7 102.8 646.1 101.2 649.4 100.2 652.7 99.8 656.1 99.8 659.4 100.1 662.7 100.6 666.1 97.4 669.4 94.1M561.2 143.3 564.5 142.1 567.9 141.4 571.2 140.9 574.5 140.7 577.9 138.6 581.2 135.4 584.5 132.4 587.9 129.8 591.2 127.8 594.5 126.3 597.9 125.5 601.2 125.1 604.5 125.1 607.9 122.9 611.2 120.1 614.5 117.7 617.9 115.8 621.2 114.5 624.5 113.7 627.9 113.5 631.2 113.6 634.5 114 637.9 112.3 641.2 109.3 644.5 106.4 647.9 103.9 651.2 101.8 654.5 100.1 657.9 99 661.2 98.4 664.5 98.1 667.9 98 671.2 94.3M563 142.8 566.3 140.8 569.7 139.4 573 138.5 576.3 138.1 579.7 138.1 583 135.3 586.3 132.7 589.7 130.4 593 128.7 596.3 127.5 599.7 126.9 603 126.8 606.3 127 609.7 127.2 613 124.3 616.3 121.6 619.7 119.1 623 117 626.3 115.3 629.7 114 633 113.2 636.3 112.7 639.7 112.5 643 109.3 646.3 105.9 649.7 102.9 653 100.5 656.3 98.6 659.7 97.5 663 96.9 666.3 97 669.7 97.4 673 97.1M564.8 142.9 568.1 141.4 571.5 140.4 574.8 139.9 578.1 139.9 581.5 140.2 584.8 139.2 588.1 136.5 591.5 134 594.8 131.8 598.1 130 601.5 128.6 604.8 127.7 608.1 127 611.5 126.7 614.8 124.6 618.1 121.3 621.5 118.2 624.8 115.6 628.1 113.6 631.5 112.3 634.8 111.5 638.1 111.4 641.5 111.6 644.8 110.7 648.1 107.9 651.5 105.4 654.8 103.3 658.1 101.6 661.5 100.4 664.8 99.7 668.1 99.4 671.5 99.5 674.8 99.7M566.6 146.4 569.9 144.5 573.3 143 576.6 141.9 579.9 141.2 583.3 140.7 586.6 139.9 589.9 136.6 593.3 133.5 596.6 130.7 599.9 128.5 603.3 126.9 606.6 125.9 609.9 125.4 613.3 125.4 616.6 124.8 619.9 122 623.3 119.6 626.6 117.5 629.9 115.9 633.3 114.9 636.6 114.3 639.9 114.2 643.3 114.3 646.6 114.3 649.9 111.1 653.3 108 656.6 105.2 659.9 102.7 663.3 100.6 666.6 99.2 669.9 98.2 673.3 97.7 676.6 97.6M568.4 145.7 571.7 143.3 575.1 141.5 578.4 140.2 581.7 139.5 585.1 139.3 588.4 139.1 591.7 136.3 595.1 133.8 598.4 131.6 601.7 130 605.1 128.9 608.4 128.4 611.7 128.3 615.1 128.5 618.4 128.2 621.7 125.3 625.1 122.5 628.4 119.9 631.7 117.8 635.1 116 638.4 114.8 641.7 113.9 645.1 113.5 648.4 113.2 651.7 109.8 655.1 106.6 658.4 103.7 661.7 101.4 665.1 99.7 668.4 98.6 671.7 98.2 675.1 98.3 678.4 98.8" fill="none" stroke="#C8E0F4" stroke-width="0.6" stroke-opacity="0.35"/>
<linearGradient id="wge" gradientUnits="userSpaceOnUse" x1="515.5" y1="55.5" x2="531" y2="103"><stop offset="0" stop-color="#8CBDE4" stop-opacity="0.85"/><stop offset="0.6" stop-color="#8CBDE4" stop-opacity="0.6"/><stop offset="1" stop-color="#8CBDE4" stop-opacity="0"/></linearGradient><polygon points="515.5,55.5 642,13.5 644.5,72 515.5,115" fill="url(#wge)"/>
<path d="M516 58.5L642.5 16.5M516 63L642.5 21M516 67.5L642.5 25.5M516 72L642.5 30M516 76.5L642.5 34.5M516 81L642.5 39M516 85.5L642.5 43.5M516 90L642.5 48M516 94.5L642.5 52.5" stroke="#C4DEF2" stroke-width="1.5" stroke-opacity="0.5" fill="none"/>
</g>
<path d="M460.3 29.5 L460.3 101 L568.4 150.9 L678.4 101.9" fill="none" stroke="#555" stroke-width="0.7"/>
<path d="M458.3 65.25 H460.3" stroke="#555" stroke-width="0.6"/>
<path d="M484.32 112.09 l1.2 -2.5" stroke="#555" stroke-width="0.6"/>
<path d="M514.35 125.95 l1.2 -2.5" stroke="#555" stroke-width="0.6"/>
<path d="M544.38 139.81 l1.2 -2.5" stroke="#555" stroke-width="0.6"/>
<path d="M588.77 141.83 l-1.5 -2.2" stroke="#555" stroke-width="0.6"/>
<path d="M629.51 123.68 l-1.5 -2.2" stroke="#555" stroke-width="0.6"/>
<path d="M670.25 105.53 l-1.5 -2.2" stroke="#555" stroke-width="0.6"/>
<text x="509" y="14" font-size="12" fill="#000" font-family="'Liberation Sans',sans-serif" text-anchor="middle" font-weight="bold">(e)</text>
<text x="447.5" y="33.4" font-size="11.5" font-family="'Liberation Sans',sans-serif" text-anchor="middle" dominant-baseline="central" transform="rotate(0 447.5 33.4)">1</text>
<text x="443.3" y="66.2" font-size="11.5" font-family="'Liberation Sans',sans-serif" text-anchor="middle" dominant-baseline="central" transform="rotate(0 443.3 66.2)">0.5</text>
<text x="443.8" y="96.6" font-size="11.5" font-family="'Liberation Sans',sans-serif" text-anchor="middle" dominant-baseline="central" transform="rotate(0 443.8 96.6)">0</text>
<text x="477.8" y="123.7" font-size="11.5" font-family="'Liberation Sans',sans-serif" text-anchor="middle" dominant-baseline="central" transform="rotate(25 477.8 123.7)">-50</text>
<text x="509.7" y="137.7" font-size="11.5" font-family="'Liberation Sans',sans-serif" text-anchor="middle" dominant-baseline="central" transform="rotate(25 509.7 137.7)">0</text>
<text x="540.5" y="152.2" font-size="11.5" font-family="'Liberation Sans',sans-serif" text-anchor="middle" dominant-baseline="central" transform="rotate(25 540.5 152.2)">50</text>
<text x="487" y="149" font-size="11" font-family="'Liberation Sans',sans-serif" text-anchor="middle" dominant-baseline="central" textLength="45" lengthAdjust="spacingAndGlyphs" transform="rotate(31.5 487 149)">Angle [°]</text>
<text x="598.4" y="150" font-size="11.5" font-family="'Liberation Sans',sans-serif" text-anchor="middle" dominant-baseline="central" transform="rotate(-25 598.4 150)">20</text>
<text x="636.8" y="133.1" font-size="11.5" font-family="'Liberation Sans',sans-serif" text-anchor="middle" dominant-baseline="central" transform="rotate(-25 636.8 133.1)">60</text>
<text x="670.2" y="116.2" font-size="11.5" font-family="'Liberation Sans',sans-serif" text-anchor="middle" dominant-baseline="central" transform="rotate(-25 670.2 116.2)">100</text>
<text x="657.5" y="143.5" font-size="11" font-family="'Liberation Sans',sans-serif" text-anchor="middle" dominant-baseline="central" textLength="61" lengthAdjust="spacingAndGlyphs" transform="rotate(-26 657.5 143.5)">Sweep Step</text>
<path d="M75.67 175.2V291.2M115.45 175.2V291.2M155.22 175.2V291.2M35.9 268.9H195.3M35.9 247H195.3M35.9 225.1H195.3M35.9 203.2H195.3M35.9 181.3H195.3" stroke="#d0d0d0" stroke-width="0.5" stroke-dasharray="1.5 1.5" fill="none"/>
<rect x="35.9" y="175.2" width="159.4" height="116" fill="none" stroke="#444" stroke-width="0.7"/>
<path d="M35.9 291.2v-1.6M35.9 175.2v1.6M43.85 291.2v-1M43.85 175.2v1M51.81 291.2v-1M51.81 175.2v1M59.77 291.2v-1M59.77 175.2v1M67.72 291.2v-1M67.72 175.2v1M75.67 291.2v-1.6M75.67 175.2v1.6M83.63 291.2v-1M83.63 175.2v1M91.59 291.2v-1M91.59 175.2v1M99.54 291.2v-1M99.54 175.2v1M107.5 291.2v-1M107.5 175.2v1M115.45 291.2v-1.6M115.45 175.2v1.6M123.41 291.2v-1M123.41 175.2v1M131.36 291.2v-1M131.36 175.2v1M139.31 291.2v-1M139.31 175.2v1M147.27 291.2v-1M147.27 175.2v1M155.22 291.2v-1.6M155.22 175.2v1.6M163.18 291.2v-1M163.18 175.2v1M171.14 291.2v-1M171.14 175.2v1M179.09 291.2v-1M179.09 175.2v1M187.05 291.2v-1M187.05 175.2v1M195 291.2v-1.6M195 175.2v1.6M35.9 290.8h1.6M195.3 290.8h-1.6M35.9 285.33h1M195.3 285.33h-1M35.9 279.85h1M195.3 279.85h-1M35.9 274.38h1M195.3 274.38h-1M35.9 268.9h1.6M195.3 268.9h-1.6M35.9 263.43h1M195.3 263.43h-1M35.9 257.95h1M195.3 257.95h-1M35.9 252.48h1M195.3 252.48h-1M35.9 247h1.6M195.3 247h-1.6M35.9 241.53h1M195.3 241.53h-1M35.9 236.05h1M195.3 236.05h-1M35.9 230.58h1M195.3 230.58h-1M35.9 225.1h1.6M195.3 225.1h-1.6M35.9 219.63h1M195.3 219.63h-1M35.9 214.15h1M195.3 214.15h-1M35.9 208.68h1M195.3 208.68h-1M35.9 203.2h1.6M195.3 203.2h-1.6M35.9 197.73h1M195.3 197.73h-1M35.9 192.25h1M195.3 192.25h-1M35.9 186.78h1M195.3 186.78h-1M35.9 181.3h1.6M195.3 181.3h-1.6M35.9 175.83h1M195.3 175.83h-1" stroke="#444" stroke-width="0.5" fill="none"/>
<path d="M35.9 175.82 L36.54 203.2 L37.09 215.25 L37.89 218.53 L38.68 219.62 L39.24 236.05 L44.25 236.05 L45.05 238.24 L45.53 256.64 L51.41 256.64 L52.05 268.02 L55.79 268.02 L56.9 269.78 L71.7 269.78 L72.89 271.64 L73.53 275.03 L97.15 275.03 L97.95 276.46 L106.3 276.46 L106.7 284.34 L115.45 284.34 L115.93 290.36 L195 290.36" stroke="#0072BD" stroke-width="1.3" fill="none" stroke-linejoin="round"/>
<text x="33.3" y="293.8" font-size="9" fill="#222" font-family="'Liberation Serif',serif" text-anchor="end">2.4</text>
<text x="33.3" y="271.9" font-size="9" fill="#222" font-family="'Liberation Serif',serif" text-anchor="end">2.6</text>
<text x="33.3" y="250" font-size="9" fill="#222" font-family="'Liberation Serif',serif" text-anchor="end">2.8</text>
<text x="33.3" y="228.1" font-size="9" fill="#222" font-family="'Liberation Serif',serif" text-anchor="end">3</text>
<text x="33.3" y="206.2" font-size="9" fill="#222" font-family="'Liberation Serif',serif" text-anchor="end">3.2</text>
<text x="33.3" y="184.3" font-size="9" fill="#222" font-family="'Liberation Serif',serif" text-anchor="end">3.4</text>
<text x="35.9" y="303" font-size="9.6" fill="#222" font-family="'Liberation Serif',serif" text-anchor="middle">0</text>
<text x="75.67" y="303" font-size="9.6" fill="#222" font-family="'Liberation Serif',serif" text-anchor="middle">50</text>
<text x="115.45" y="303" font-size="9.6" fill="#222" font-family="'Liberation Serif',serif" text-anchor="middle">100</text>
<text x="155.22" y="303" font-size="9.6" fill="#222" font-family="'Liberation Serif',serif" text-anchor="middle">150</text>
<text x="195" y="303" font-size="9.6" fill="#222" font-family="'Liberation Serif',serif" text-anchor="middle">200</text>
<text x="115.8" y="312.8" font-size="10" fill="#222" font-family="'Liberation Serif',serif" text-anchor="middle" textLength="35" lengthAdjust="spacingAndGlyphs">Iteration</text>
<text x="17" y="233.7" font-size="9" fill="#222" font-family="'Liberation Serif',serif" text-anchor="middle" textLength="80.5" lengthAdjust="spacingAndGlyphs" transform="rotate(-90 17 233.7)">Optimiza Objective</text>
<text x="50.5" y="192.2" font-size="12" fill="#000" font-family="'Liberation Sans',sans-serif" text-anchor="middle" font-weight="bold">(f)</text>
<path d="M325.62 287.2A5.88 5.88 0 0 1 337.38 287.2M319.74 287.2A11.76 11.76 0 0 1 343.26 287.2M313.86 287.2A17.64 17.64 0 0 1 349.14 287.2M307.98 287.2A23.52 23.52 0 0 1 355.02 287.2M296.22 287.2A35.28 35.28 0 0 1 366.78 287.2M290.34 287.2A41.16 41.16 0 0 1 372.66 287.2M284.46 287.2A47.04 47.04 0 0 1 378.54 287.2M278.58 287.2A52.92 52.92 0 0 1 384.42 287.2M266.82 287.2A64.68 64.68 0 0 1 396.18 287.2M260.94 287.2A70.56 70.56 0 0 1 402.06 287.2M255.06 287.2A76.44 76.44 0 0 1 407.94 287.2M249.18 287.2A82.32 82.32 0 0 1 413.82 287.2M331.5 287.2L243.83 279.53M331.5 287.2L244.84 271.92M331.5 287.2L246.5 264.42M331.5 287.2L248.81 257.1M331.5 287.2L251.74 250.01M331.5 287.2L259.41 236.73M331.5 287.2L264.09 230.63M331.5 287.2L269.27 224.97M331.5 287.2L274.93 219.79M331.5 287.2L281.03 215.11M331.5 287.2L294.31 207.44M331.5 287.2L301.4 204.51M331.5 287.2L308.72 202.2M331.5 287.2L316.22 200.54M331.5 287.2L323.83 199.53M331.5 287.2L339.17 199.53M331.5 287.2L346.78 200.54M331.5 287.2L354.28 202.2M331.5 287.2L361.6 204.51M331.5 287.2L368.69 207.44M331.5 287.2L381.97 215.11M331.5 287.2L388.07 219.79M331.5 287.2L393.73 224.97M331.5 287.2L398.91 230.63M331.5 287.2L403.59 236.73M331.5 287.2L411.26 250.01M331.5 287.2L414.19 257.1M331.5 287.2L416.5 264.42M331.5 287.2L418.16 271.92M331.5 287.2L419.17 279.53" stroke="#c8c8c8" stroke-width="0.4" stroke-dasharray="1 1" fill="none"/>
<path d="M302.1 287.2A29.4 29.4 0 0 1 360.9 287.2M272.9 287.2A58.6 58.6 0 0 1 390.1 287.2M243.5 287.2A88 88 0 0 1 419.5 287.2M237 287.2A94.5 94.5 0 0 1 426 287.2M331.5 287.2L249.66 239.95M331.5 287.2L284.25 205.36M331.5 287.2L331.5 192.7M331.5 287.2L378.75 205.36M331.5 287.2L413.34 239.95M237 287.2H426" stroke="#555" stroke-width="0.55" fill="none"/>
<path d="M331.5 287.2 L331.48 287.2 L331.41 287.2 L331.3 287.19 L331.14 287.17 L330.94 287.15 L330.69 287.12 L330.41 287.07 L330.08 287 L329.72 286.92 L329.33 286.82 L328.92 286.7 L328.48 286.56 L328.04 286.4 L327.6 286.23 L327.18 286.04 L326.8 285.85 L326.46 285.66 L326.19 285.47 L326.01 285.31 L325.93 285.17 L325.98 285.08 L326.17 285.05 L326.51 285.08 L327.01 285.2 L327.67 285.41 L328.47 285.72 L329.41 286.13 L330.45 286.64 L331.45 287.17 L330.33 286.52 L329.25 285.85 L328.27 285.18 L327.45 284.57 L326.85 284.07 L326.53 283.72 L326.52 283.58 L326.84 283.68 L327.48 284.06 L328.42 284.71 L329.6 285.6 L330.93 286.71 L330.68 286.46 L329.36 285.21 L328.23 284.04 L327.39 283.09 L326.95 282.49 L326.96 282.33 L327.42 282.67 L328.32 283.54 L329.56 284.89 L331.02 286.6 L330.47 285.89 L329.09 284 L328 282.38 L327.34 281.27 L327.22 280.86 L327.66 281.29 L328.61 282.57 L329.95 284.62 L331.5 287.2 L329.95 284.41 L328.64 281.82 L327.75 279.84 L327.43 278.85 L327.73 279.11 L328.62 280.72 L329.96 283.56 L331.46 287.1 L329.89 283.01 L328.59 279.21 L327.78 276.4 L327.6 275.21 L328.09 276.05 L329.17 279.07 L330.65 284.03 L330.72 284.08 L329.24 277.41 L328.17 271.51 L327.7 267.63 L327.92 266.9 L328.8 270.16 L330.18 277.8 L330.81 282.05 L331.47 286.95 L330.88 281.97 L330.24 275.96 L329.64 269.52 L329.1 262.72 L328.63 255.68 L328.25 248.51 L327.97 241.31 L327.79 234.21 L327.73 227.34 L327.79 220.81 L327.96 214.73 L328.23 209.22 L328.61 204.37 L329.07 200.27 L329.61 197.01 L330.21 194.63 L330.84 193.18 L331.5 192.7 L332.16 193.18 L332.79 194.63 L333.39 197.01 L333.93 200.27 L334.39 204.37 L334.77 209.22 L335.04 214.73 L335.21 220.81 L335.27 227.34 L335.21 234.21 L335.03 241.31 L334.75 248.51 L334.37 255.68 L333.9 262.72 L333.36 269.52 L332.76 275.96 L332.12 281.97 L331.53 286.95 L332.19 282.05 L332.82 277.8 L333.42 274.22 L333.96 271.34 L334.42 269.17 L335.18 266.75 L335.26 268.19 L334.66 272.57 L333.49 278.72 L331.95 285.41 L332.67 282.91 L334.09 278.3 L335.06 275.71 L335.42 275.29 L335.1 276.85 L334.18 279.91 L332.81 283.82 L331.78 286.5 L333.34 282.91 L334.6 280.3 L335.38 278.95 L335.56 278.95 L335.12 280.16 L334.13 282.3 L332.75 284.97 L331.82 286.66 L333.34 284.16 L334.62 282.25 L335.47 281.13 L335.8 280.88 L335.56 281.44 L334.82 282.67 L333.65 284.36 L332.23 286.27 L332.28 286.24 L333.71 284.59 L334.89 283.33 L335.71 282.56 L336.08 282.32 L336 282.58 L335.47 283.26 L334.57 284.26 L333.39 285.45 L332.04 286.72 L332.34 286.47 L333.65 285.41 L334.79 284.55 L335.67 283.96 L336.25 283.64 L336.51 283.59 L336.43 283.77 L336.05 284.16 L335.4 284.69 L334.55 285.31 L333.54 285.98 L332.45 286.66 L331.67 287.1 L332.77 286.53 L333.79 286.04 L334.7 285.65 L335.48 285.36 L336.1 285.17 L336.57 285.07 L336.88 285.05 L337.04 285.1 L337.06 285.2 L336.96 285.34 L336.76 285.51 L336.48 285.7 L336.13 285.89 L335.73 286.08 L335.31 286.26 L334.87 286.43 L334.43 286.59 L334 286.72 L333.59 286.84 L333.2 286.94 L332.85 287.02 L332.53 287.08 L332.25 287.12 L332.02 287.16 L331.83 287.18 L331.68 287.19 L331.57 287.2 L331.51 287.2" stroke="#0072BD" stroke-width="1.5" fill="none" stroke-linejoin="round"/>
<path d="M330.88 287.2 L330.84 287.19 L330.75 287.17 L330.6 287.15 L330.38 287.12 L330.11 287.08 L329.78 287.02 L329.4 286.94 L328.97 286.84 L328.51 286.73 L328 286.58 L327.48 286.42 L326.95 286.23 L326.42 286.03 L325.91 285.81 L325.44 285.58 L325.03 285.34 L324.7 285.12 L324.47 284.92 L324.37 284.74 L324.41 284.62 L324.62 284.56 L325 284.57 L325.56 284.68 L326.3 284.89 L327.22 285.2 L328.28 285.63 L329.47 286.16 L330.73 286.79 L330.98 286.91 L329.72 286.17 L328.55 285.43 L327.55 284.73 L326.77 284.13 L326.27 283.67 L326.08 283.41 L326.24 283.38 L326.75 283.62 L327.57 284.13 L328.66 284.9 L329.93 285.88 L331.3 287.02 L330.35 286.17 L329.14 285 L328.16 283.98 L327.52 283.22 L327.28 282.83 L327.45 282.86 L328.03 283.34 L328.95 284.26 L330.11 285.54 L331.38 287.05 L330.38 285.77 L329.32 284.31 L328.57 283.16 L328.2 282.49 L328.26 282.4 L328.74 282.95 L329.56 284.1 L330.61 285.71 L331.28 286.82 L330.25 284.94 L329.45 283.35 L328.99 282.28 L328.93 281.93 L329.26 282.4 L329.91 283.64 L330.77 285.49 L331.31 286.73 L330.48 284.55 L329.88 282.74 L329.59 281.64 L329.63 281.46 L329.99 282.27 L330.58 283.98 L331.26 286.32 L331.08 285.5 L330.56 283.13 L330.27 281.42 L330.24 280.7 L330.44 281.17 L330.8 282.79 L331.23 285.3 L331.37 286.12 L331.08 283.21 L330.95 280.93 L330.98 279.75 L331.12 279.94 L331.3 281.55 L331.45 284.34 L331.5 286.57 L331.57 283 L331.75 280.03 L331.97 278.28 L332.13 278.15 L332.15 279.76 L331.95 282.94 L331.5 287.17 L332.14 282.66 L332.86 278.58 L333.51 275.81 L333.88 274.97 L333.8 276.38 L333.17 279.99 L331.96 285.36 L332.71 282.67 L334.62 276.34 L336.41 271.14 L337.7 268.12 L338.07 268.12 L337.16 271.64 L334.75 278.74 L333.33 282.52 L331.67 286.78 L333.24 282.93 L335.38 277.87 L337.74 272.51 L340.28 266.91 L342.98 261.17 L345.82 255.34 L348.75 249.53 L351.74 243.8 L354.75 238.24 L357.73 232.94 L360.66 227.95 L363.48 223.35 L366.15 219.2 L368.64 215.55 L370.91 212.45 L372.93 209.94 L374.66 208.04 L376.08 206.77 L377.17 206.14 L377.92 206.15 L378.3 206.79 L378.32 208.03 L377.98 209.85 L377.27 212.22 L376.21 215.09 L374.81 218.43 L373.09 222.16 L371.08 226.25 L368.8 230.62 L366.29 235.23 L363.57 240.01 L360.68 244.9 L357.66 249.84 L354.54 254.77 L351.37 259.64 L348.18 264.4 L345.01 269 L341.9 273.4 L338.87 277.56 L335.96 281.45 L333.2 285.03 L332.38 286.1 L334.77 283.16 L339.76 277.36 L343.2 273.74 L345.05 272.15 L345.37 272.33 L344.34 273.91 L342.23 276.47 L339.35 279.62 L336.04 282.97 L332.61 286.2 L333.66 285.32 L336.53 282.98 L338.82 281.27 L340.44 280.21 L341.34 279.79 L341.53 279.91 L341.07 280.5 L340.06 281.42 L338.61 282.58 L336.85 283.86 L334.89 285.16 L332.87 286.41 L332.11 286.86 L333.96 285.89 L335.63 285.1 L337.05 284.49 L338.2 284.07 L339.08 283.83 L339.67 283.73 L340.01 283.76 L340.1 283.9 L339.99 284.11 L339.7 284.38 L339.26 284.68 L338.71 285 L338.08 285.31 L337.4 285.62 L336.7 285.9 L335.99 286.16 L335.29 286.39 L334.62 286.59 L334 286.76 L333.41 286.9 L332.89 287.01 L332.42 287.09 L332.01 287.15 L331.66 287.19 L331.62 287.19 L331.84 287.18 L332 287.18 L332.09 287.19 L332.12 287.2" stroke="#D95319" stroke-width="1.5" fill="none" stroke-linejoin="round"/>
<path d="M325.37 287.2 L325.37 287.09 L325.37 286.99 L325.37 286.88 L325.37 286.77 L325.39 286.67 L325.41 286.56 L325.45 286.46 L325.52 286.36 L325.62 286.27 L325.75 286.19 L325.94 286.12 L326.18 286.07 L326.49 286.04 L326.86 286.04 L327.31 286.08 L327.84 286.15 L328.45 286.27 L329.14 286.43 L329.9 286.65 L330.72 286.92 L331.41 287.17 L330.53 286.81 L329.65 286.41 L328.8 286 L328.03 285.58 L327.36 285.18 L326.83 284.82 L326.49 284.53 L326.35 284.34 L326.44 284.28 L326.78 284.37 L327.36 284.62 L328.17 285.04 L329.17 285.63 L330.31 286.37 L331.48 287.18 L330.27 286.27 L329.15 285.36 L328.2 284.53 L327.51 283.85 L327.14 283.41 L327.13 283.26 L327.49 283.46 L328.2 284.01 L329.21 284.91 L330.42 286.08 L331.27 286.96 L330.01 285.55 L328.92 284.23 L328.13 283.18 L327.72 282.53 L327.75 282.4 L328.22 282.85 L329.08 283.87 L330.22 285.37 L331.5 287.2 L330.25 285.27 L329.19 283.51 L328.47 282.16 L328.19 281.47 L328.38 281.57 L329.02 282.53 L330 284.25 L331.18 286.54 L330.63 285.34 L329.61 282.97 L328.93 281.14 L328.67 280.2 L328.88 280.38 L329.51 281.74 L330.44 284.13 L331.49 287.17 L330.48 283.85 L329.69 280.89 L329.27 278.86 L329.26 278.2 L329.64 279.15 L330.33 281.7 L331.17 285.51 L331.01 284.4 L330.36 280.02 L330.01 276.57 L329.98 274.84 L330.25 275.34 L330.72 278.25 L331.23 283.34 L331.36 284.5 L331.16 277.5 L331.22 271.35 L331.5 267.37 L331.86 266.72 L332.09 270.22 L331.97 278.17 L331.78 282.55 L331.52 286.85 L331.93 281.28 L332.46 275.21 L333.11 268.75 L333.89 261.97 L334.77 254.99 L335.77 247.91 L336.86 240.86 L338.04 233.95 L339.28 227.3 L340.57 221.02 L341.87 215.22 L343.18 210 L344.45 205.44 L345.67 201.64 L346.8 198.64 L347.82 196.5 L348.71 195.26 L349.44 194.93 L349.99 195.51 L350.35 196.98 L350.5 199.33 L350.44 202.49 L350.15 206.4 L349.65 211.01 L348.94 216.21 L348.02 221.93 L346.91 228.06 L345.62 234.49 L344.19 241.12 L342.64 247.85 L340.98 254.56 L339.26 261.16 L337.51 267.55 L335.75 273.65 L334.02 279.36 L332.34 284.63 L332.24 285 L333.71 280.78 L335.04 277.15 L336.21 274.12 L337.2 271.71 L338.82 268.33 L339.17 268.42 L338.32 271.3 L336.5 276.07 L334.06 281.77 L331.62 286.96 L334.13 282.08 L336.14 278.55 L337.4 276.65 L337.77 276.42 L337.27 277.67 L336 280.05 L334.18 283.11 L332.06 286.38 L333.07 284.98 L334.95 282.49 L336.36 280.8 L337.16 280.01 L337.29 280.11 L336.76 280.98 L335.67 282.44 L334.16 284.27 L332.4 286.24 L332.41 286.26 L334.1 284.62 L335.52 283.35 L336.54 282.53 L337.11 282.18 L337.2 282.28 L336.83 282.76 L336.05 283.54 L334.95 284.52 L333.63 285.61 L332.19 286.71 L332.27 286.66 L333.65 285.76 L334.88 285.02 L335.89 284.48 L336.64 284.13 L337.13 283.98 L337.34 283.99 L337.29 284.15 L337 284.42 L336.51 284.78 L335.86 285.19 L335.08 285.62 L334.22 286.06 L333.31 286.47 L332.39 286.86 L331.51 287.2 L332.38 286.9 L333.19 286.66 L333.93 286.47 L334.59 286.32 L335.18 286.23 L335.69 286.17 L336.12 286.15 L336.47 286.16 L336.76 286.2 L337 286.25 L337.18 286.32 L337.32 286.4 L337.42 286.49 L337.5 286.59 L337.55 286.69 L337.58 286.8 L337.61 286.9 L337.62 287.01 L337.63 287.11" stroke="#EDB120" stroke-width="1.5" fill="none" stroke-linejoin="round"/>
<path d="M328.03 287.2 L328.01 287.14 L327.96 287.08 L327.87 287.01 L327.75 286.94 L327.6 286.86 L327.43 286.77 L327.23 286.68 L327.02 286.57 L326.8 286.46 L326.58 286.33 L326.36 286.2 L326.17 286.07 L326 285.93 L325.89 285.8 L325.82 285.68 L325.83 285.58 L325.93 285.5 L326.12 285.45 L326.42 285.45 L326.84 285.51 L327.38 285.62 L328.04 285.8 L328.81 286.06 L329.69 286.39 L330.64 286.8 L331.37 287.13 L330.35 286.62 L329.37 286.07 L328.46 285.52 L327.68 284.99 L327.07 284.54 L326.69 284.19 L326.56 283.99 L326.71 283.97 L327.15 284.15 L327.87 284.56 L328.82 285.18 L329.97 286 L331.23 286.98 L330.5 286.36 L329.3 285.29 L328.29 284.31 L327.55 283.52 L327.17 283.02 L327.19 282.89 L327.62 283.18 L328.43 283.9 L329.54 285.02 L330.85 286.45 L330.78 286.34 L329.5 284.73 L328.47 283.32 L327.8 282.29 L327.59 281.82 L327.87 282.01 L328.6 282.9 L329.7 284.43 L331.02 286.44 L330.61 285.71 L329.38 283.53 L328.48 281.75 L328.03 280.66 L328.09 280.51 L328.67 281.39 L329.66 283.26 L330.92 285.9 L330.76 285.45 L329.58 282.45 L328.75 280.03 L328.39 278.64 L328.55 278.64 L329.21 280.15 L330.23 283.05 L331.44 286.99 L330.39 283.05 L329.46 279.02 L328.93 276.09 L328.89 274.94 L329.32 276.01 L330.12 279.38 L331.11 284.75 L330.91 283.02 L330.15 276.19 L329.74 270.43 L329.74 267.04 L330.1 267.13 L330.67 271.45 L330.92 274.43 L331.15 278.11 L331.35 282.48 L331.49 286.91 L331.4 281.33 L331.37 275.23 L331.44 268.72 L331.59 261.88 L331.84 254.82 L332.19 247.65 L332.64 240.5 L333.19 233.47 L333.82 226.7 L334.54 220.3 L335.32 214.39 L336.14 209.06 L337 204.41 L337.87 200.52 L338.72 197.48 L339.54 195.31 L340.3 194.08 L340.99 193.79 L341.58 194.45 L342.05 196.04 L342.39 198.53 L342.58 201.87 L342.62 206.01 L342.5 210.85 L342.22 216.32 L341.78 222.32 L341.18 228.73 L340.44 235.45 L339.57 242.37 L338.58 249.36 L337.5 256.32 L336.35 263.13 L335.16 269.7 L333.94 275.92 L332.72 281.72 L331.54 287.03 L332.59 282.63 L333.64 278.5 L334.59 275.01 L335.41 272.17 L336.11 270 L337.17 267.41 L337.23 268.45 L336.34 272.31 L334.7 277.92 L332.6 284.17 L332.59 284.37 L334.53 279.7 L335.93 276.76 L336.6 275.75 L336.45 276.58 L335.56 278.88 L334.06 282.17 L332.22 285.85 L332.7 285.04 L334.42 282.15 L335.7 280.21 L336.38 279.39 L336.4 279.66 L335.76 280.88 L334.58 282.8 L333.03 285.1 L331.7 286.93 L333.39 284.78 L334.84 283.07 L335.9 281.96 L336.45 281.5 L336.47 281.68 L335.97 282.41 L335.02 283.55 L333.73 284.97 L332.25 286.48 L332.29 286.46 L333.75 285.18 L335 284.16 L335.95 283.47 L336.54 283.12 L336.74 283.1 L336.57 283.38 L336.05 283.89 L335.24 284.58 L334.21 285.37 L333.03 286.2 L331.79 287.02 L332.45 286.63 L333.61 285.98 L334.65 285.45 L335.53 285.06 L336.22 284.79 L336.72 284.66 L337 284.63 L337.1 284.71 L337.02 284.86 L336.78 285.07 L336.41 285.32 L335.93 285.59 L335.38 285.86 L334.77 286.14 L334.13 286.4 L333.48 286.63 L332.84 286.84 L332.21 287.02 L331.62 287.17 L331.93 287.11 L332.44 287.02 L332.91 286.95 L333.32 286.91 L333.68 286.89 L334 286.89 L334.26 286.91 L334.48 286.94 L334.66 286.98 L334.8 287.03 L334.89 287.08 L334.95 287.14 L334.97 287.2" stroke="#7E2F8E" stroke-width="1.5" fill="none" stroke-linejoin="round"/>
<text x="331.75" y="187.9" font-size="7" fill="#222" font-family="'Liberation Sans',sans-serif" text-anchor="middle">0</text>
<text x="274.25" y="200.65" font-size="7" fill="#222" font-family="'Liberation Sans',sans-serif" text-anchor="middle">-30</text>
<text x="237.5" y="236.9" font-size="7" fill="#222" font-family="'Liberation Sans',sans-serif" text-anchor="middle">-60</text>
<text x="225.5" y="288.4" font-size="7" fill="#222" font-family="'Liberation Sans',sans-serif" text-anchor="middle">-90</text>
<text x="387.5" y="200.7" font-size="7" fill="#222" font-family="'Liberation Sans',sans-serif" text-anchor="middle">30</text>
<text x="425" y="236.8" font-size="7" fill="#222" font-family="'Liberation Sans',sans-serif" text-anchor="middle">60</text>
<text x="436.2" y="287.6" font-size="7" fill="#222" font-family="'Liberation Sans',sans-serif" text-anchor="middle">90</text>
<text x="331.4" y="301.2" font-size="11.5" fill="#000" font-family="'Liberation Sans',sans-serif" text-anchor="middle">0</text>
<text x="359" y="301.2" font-size="11.5" fill="#000" font-family="'Liberation Sans',sans-serif" text-anchor="middle">0.3</text>
<text x="391.7" y="301.2" font-size="11.5" fill="#000" font-family="'Liberation Sans',sans-serif" text-anchor="middle">0.6</text>
<text x="423.2" y="301.2" font-size="11.5" fill="#000" font-family="'Liberation Sans',sans-serif" text-anchor="middle">1</text>
<text x="235.8" y="187.2" font-size="12" fill="#000" font-family="'Liberation Sans',sans-serif" text-anchor="middle" font-weight="bold">(g)</text>
<linearGradient id="chev" x1="0" y1="235.2" x2="0" y2="264.1" gradientUnits="userSpaceOnUse"><stop offset="0" stop-color="#C4D5E6"/><stop offset="1" stop-color="#0070C8"/></linearGradient>
<polygon points="427.6,235.2 437.5,235.2 450.1,249.8 437,264.1 426,264.1 439.3,249.8" fill="url(#chev)"/>
<polygon points="447.6,235.2 457.5,235.2 470.1,249.8 457,264.1 446,264.1 459.3,249.8" fill="url(#chev)"/>
<polygon points="468.1,235.2 478,235.2 490.6,249.8 477.5,264.1 466.5,264.1 479.8,249.8" fill="url(#chev)"/>
<path d="M556.9 168.8V283.3M597.6 168.8V283.3M638.3 168.8V283.3M524.3 260.74H670.4M524.3 238.18H670.4M524.3 215.62H670.4M524.3 193.06H670.4" stroke="#d0d0d0" stroke-width="0.5" stroke-dasharray="1.5 1.5" fill="none"/>
<path d="M595.97 283.3 L595.97 271.82 L596.38 262.2 L596.79 251.94 L597.19 241.28 L597.6 230.5 L598.01 219.87 L598.41 209.67 L598.82 200.18 L599.23 191.65 L599.63 184.32 L600.04 178.4 L600.45 174.05 L600.86 171.39 L601.26 170.5 L601.67 171.39 L602.08 174.04 L602.48 178.37 L602.89 184.25 L603.3 191.51 L603.71 199.95 L604.11 208.75 L604.52 199.43 L604.93 191.08 L605.33 183.93 L605.74 178.16 L606.15 173.94 L606.55 171.36 L606.96 170.5 L607.37 171.36 L607.77 173.92 L608.18 178.08 L608.59 183.75 L609 190.74 L609.4 198.87 L609.81 207.92 L610.22 217.65 L610.62 227.81 L611.03 225.46 L611.44 215.43 L611.85 205.93 L612.25 197.19 L612.66 189.42 L613.07 182.8 L613.47 177.5 L613.88 173.63 L614.29 171.29 L614.69 170.5 L615.1 171.28 L615.51 173.59 L615.92 177.37 L616.32 182.49 L616.73 188.83 L617.14 195.13 L617.54 187.9 L617.95 181.79 L618.36 176.91 L618.76 173.36 L619.17 171.22 L619.58 170.5 L619.99 171.21 L620.39 173.31 L620.8 176.74 L621.21 181.41 L621.61 187.18 L622.02 193.93 L622.43 201.5 L622.83 209.72 L623.24 218.41 L623.65 227.39 L624.06 236.49 L624.46 245.54 L624.87 254.38 L625.28 261.84 L625.68 264.2 L626.09 266.99 L626.5 270.1 L626.9 273.41 L626.9 283.3Z" fill="#DCCADB" fill-opacity="0.9"/>
<path d="M596.79 283.3 L596.79 270.72 L597.44 266.22 L598.09 258.61 L598.74 238.29 L599.39 237.82 L600.04 241.74 L600.69 257.83 L601.34 257.57 L602 256.85 L602.65 249.68 L603.3 256.38 L603.95 244.74 L604.6 245.44 L605.25 232.77 L605.9 241.67 L606.55 262.79 L607.21 249.04 L607.86 249.51 L608.51 250.68 L609.16 243.59 L609.81 246.22 L610.46 246.94 L611.11 239.92 L611.76 256.73 L612.41 261.64 L613.07 264.67 L613.72 267.54 L614.37 252.5 L615.02 245.04 L615.67 231.18 L616.32 237.1 L616.97 239.39 L617.62 250.01 L618.28 253.65 L618.93 260.48 L619.58 261.18 L620.23 239.5 L620.88 231.83 L621.53 230.48 L622.18 234.09 L622.83 247.96 L623.49 257.64 L624.14 262.49 L624.79 268.08 L625.44 266.46 L626.09 266.35 L626.5 283.3Z" fill="#8FBCE3" fill-opacity="0.85"/>
<path d="M524.34 272.03 L526.38 271.14 L528.41 271.22 L530.45 273.87 L532.48 272.6 L534.51 275.46 L536.55 276.45 L538.59 276.31 L540.62 278.98 L542.65 274.33 L544.69 276.67 L546.73 275.2 L548.76 274.92 L550.8 274.26 L552.83 280.05 L554.87 275.37 L556.9 271.06 L558.94 272.39 L560.97 274.85 L563 275.15 L565.04 274.46 L567.08 274.6 L569.11 280.16 L571.14 273.51 L573.18 270.83 L575.22 275.92 L577.25 276.7 L579.28 270.06 L581.32 274.03 L583.36 279.66 L585.39 266.16 L587.43 271.14 L589.46 271.66 L591.5 261.07 L592.47 258.11 L593.45 265.76 L594.43 269.21 L595.4 263.12 L596.38 238.21 L597.36 216.28 L598.33 197.99 L599.31 174.12 L600.29 171.22 L601.26 172.26 L602.24 182.23 L603.22 216.81 L604.19 222.71 L605.17 265.64 L606.15 282.35 L607.12 267.49 L608.1 258.3 L609.08 259.82 L610.05 264.39 L611.03 272.81 L613.07 272.61 L615.1 268.82 L617.14 269.56 L619.17 277.09 L621.21 268.83 L623.24 272.23 L625.28 275.75 L627.31 272.3 L629.35 273.16 L631.38 272.31 L633.42 276.42 L635.45 273.14 L637.49 271.2 L639.52 275.37 L641.56 275.56 L643.59 276.83 L645.63 272.3 L647.66 273.91 L649.7 275.84 L651.73 274.21 L653.77 276.71 L655.8 277.78 L657.84 275.67 L659.87 273.08 L661.91 272.19 L663.94 272.59 L665.98 272.03 L668.01 272.21 L670.05 273.24" stroke="#F08080" stroke-width="0.6" fill="none"/>
<path d="M524.34 271.7 L526.38 272.55 L528.41 272.31 L530.45 271.11 L532.48 273.77 L534.51 274.68 L536.55 273.51 L538.59 275.54 L540.62 277.82 L542.65 275.55 L544.69 277.54 L546.73 273.28 L548.76 273.95 L550.8 274.72 L552.83 278.62 L554.87 274.57 L556.9 273.43 L558.94 272.64 L560.97 272.52 L563 280.08 L565.04 275.52 L567.08 271.03 L569.11 277.79 L571.14 273.19 L573.18 271.89 L575.22 276.29 L577.25 279.23 L579.28 272.12 L581.32 276.2 L583.36 276.24 L585.39 272.77 L587.43 272.96 L589.46 276.55 L591.5 268.89 L593.53 271.2 L595.57 269.92 L597.6 257.91 L598.58 258.81 L599.55 266.58 L600.53 276.78 L601.51 265.35 L602.48 232.41 L603.46 209.58 L604.44 190.71 L605.41 179.61 L606.39 170.55 L607.37 172.63 L608.34 184.36 L609.32 214.26 L610.3 226.54 L611.28 262.88 L612.25 282.97 L613.23 272.44 L614.21 264.17 L615.18 257.6 L616.16 261.59 L617.14 270.26 L619.17 277.09 L621.21 268.79 L623.24 266.9 L625.28 277.28 L627.31 273.47 L629.35 270.83 L631.38 273.71 L633.42 279.28 L635.45 273.05 L637.49 271.79 L639.52 272.8 L641.56 277.03 L643.59 276.96 L645.63 274.83 L647.66 274.56 L649.7 272.93 L651.73 276.99 L653.77 276 L655.8 278.28 L657.84 277.55 L659.87 275.5 L661.91 274.05 L663.94 275.2 L665.98 273.92 L668.01 273.86 L670.05 272.98" stroke="#F08080" stroke-width="0.6" fill="none"/>
<path d="M524.34 272.72 L526.38 270.42 L528.41 270.4 L530.45 274.45 L532.48 273.19 L534.51 272.62 L536.55 275.86 L538.59 275.17 L540.62 279.6 L542.65 277.13 L544.69 274.96 L546.73 274.32 L548.76 274.48 L550.8 272.73 L552.83 276.97 L554.87 277.13 L556.9 273.72 L558.94 275.62 L560.97 276.48 L563 278.91 L565.04 274.58 L567.08 271.96 L569.11 276.06 L571.14 276.94 L573.18 272.51 L575.22 276.99 L577.25 277.75 L579.28 272.93 L581.32 273.9 L583.36 273.76 L585.39 269.93 L587.43 272.98 L589.46 274.1 L591.5 269.47 L593.53 273.2 L595.57 274.13 L597.6 267.51 L599.63 271.96 L601.67 270.24 L603.71 260.21 L604.68 262.91 L605.66 267.82 L606.64 282.45 L607.61 259.82 L608.59 230.78 L609.57 209.51 L610.54 187.67 L611.52 173.82 L612.5 171.64 L613.47 177.48 L614.45 186.73 L615.43 218.17 L616.4 226.81 L617.38 258.88 L618.36 279.75 L619.33 269.61 L620.31 260.53 L621.29 258.88 L622.26 262.64 L624.3 270.69 L626.33 274.14 L628.37 268.45 L630.4 271.5 L632.44 275.29 L634.47 271.33 L636.51 271.26 L638.54 272.38 L640.58 273.5 L642.61 277.33 L644.65 272.46 L646.68 272.51 L648.72 272.23 L650.75 274.98 L652.79 280.46 L654.82 277.24 L656.86 276.1 L658.89 273.43 L660.93 272.23 L662.96 272.47 L665 270.48 L667.03 270.85 L669.07 270.47" stroke="#F08080" stroke-width="0.6" fill="none"/>
<path d="M524.34 276.58 L526.38 273.97 L528.41 277.15 L530.45 278.01 L532.48 279.71 L534.51 276.47 L536.55 273.51 L538.59 274.05 L540.62 271.74 L542.65 272.47 L544.69 274.04 L546.73 277.26 L548.76 278.48 L550.8 274.87 L552.83 273.46 L554.87 270.92 L556.9 271.74 L558.94 280.27 L560.97 277.91 L563 272.07 L565.04 275.03 L567.08 278.8 L569.11 272.96 L571.14 274.19 L573.18 276.3 L575.22 275.33 L577.25 274.81 L579.28 277.38 L581.32 278.37 L583.36 271.11 L585.39 275.54 L587.43 276.09 L589.46 270.91 L591.5 276.61 L593.53 275.85 L595.57 271.44 L597.6 278.37 L599.63 272.39 L601.67 269.37 L603.71 273.55 L605.74 270.56 L607.77 260.72 L608.75 261.51 L609.73 273.14 L610.71 279.19 L611.68 241.18 L612.66 215.92 L613.64 204.76 L614.61 179.2 L615.59 171.17 L616.57 170.85 L617.54 175.92 L618.52 185.72 L619.5 206.48 L620.47 241.31 L621.45 252.47 L622.43 269.55 L623.4 275.96 L624.38 264.8 L625.36 260 L626.33 259.1 L628.37 271.51 L630.4 273.29 L632.44 269.39 L634.47 269.42 L636.51 272.2 L638.54 279.94 L640.58 271.38 L642.61 270.21 L644.65 269.07 L646.68 276.56 L648.72 278.38 L650.75 276.33 L652.79 273.61 L654.82 270.44 L656.86 273.38 L658.89 273.01 L660.93 273.43 L662.96 273.08 L665 275.59 L667.03 275.66 L669.07 276.47" stroke="#F08080" stroke-width="0.6" fill="none"/>
<path d="M524.34 271.68 L526.38 273.04 L528.41 274.35 L530.45 273.78 L532.48 273.54 L534.51 271.77 L536.55 271.71 L538.59 274.86 L540.62 272.65 L542.65 275.15 L544.69 276.94 L546.73 274.94 L548.76 270.74 L550.8 273.74 L552.83 275.97 L554.87 279.21 L556.9 276.1 L558.94 273.23 L560.97 272.77 L563 278.77 L565.04 275.11 L567.08 274.6 L569.11 274.77 L571.14 280.59 L573.18 272.89 L575.22 271.7 L577.25 275.87 L579.28 273.52 L581.32 273.29 L583.36 275.86 L585.39 274.37 L587.43 273.94 L589.46 278.62 L591.5 272.78 L593.53 271.94 L595.57 277.32 L597.6 270.57 L599.63 272.44 L601.67 280.06 L603.71 268.24 L605.74 271.54 L607.77 275.25 L609.81 264.31 L611.85 261.67 L612.82 273.92 L613.8 270.12 L614.78 263.44 L615.75 234.81 L616.73 217.43 L617.71 191.25 L618.68 181.82 L619.66 171.23 L620.64 172.13 L621.61 185.05 L622.59 197.77 L623.57 217.34 L624.54 231.62 L625.52 263.71 L626.5 275.23 L627.47 267.79 L628.45 261.44 L629.43 261.62 L630.4 259.38 L632.44 265.95 L634.47 277.67 L636.51 272.25 L638.54 268.62 L640.58 267.02 L642.61 276.55 L644.65 276.64 L646.68 273.44 L648.72 270.13 L650.75 270.05 L652.79 273.69 L654.82 276.88 L656.86 277.09 L658.89 277.2 L660.93 278.92 L662.96 275.38 L665 274.08 L667.03 270.7 L669.07 271.58" stroke="#F08080" stroke-width="0.6" fill="none"/>
<path d="M524.34 276.05 L526.38 275.09 L528.41 276.49 L530.45 277.1 L532.48 276.74 L534.51 276.47 L536.55 277.1 L538.59 279.4 L540.62 279.48 L542.65 278.03 L544.69 277.82 L546.73 275.5 L548.76 276.81 L550.8 277.44 L552.83 279.96 L554.87 278.51 L556.9 278.45 L558.94 276.4 L560.97 279.21 L563 278.87 L565.04 275.96 L567.08 278.51 L569.11 279.58 L571.14 276.59 L573.18 277.31 L575.22 279.13 L577.25 278.99 L579.28 275.53 L581.32 278.99 L583.36 278.93 L585.39 271.91 L587.43 273.82 L589.46 274.33 L591.5 266.16 L592.47 265.3 L593.45 272.54 L594.43 279.59 L595.4 267.04 L596.38 237.88 L597.36 217.44 L598.33 201.26 L599.31 180.82 L600.29 170.55 L601.26 172.18 L602.24 185.06 L603.22 210.08 L604.19 239.93 L605.17 255.49 L606.15 278.66 L607.12 274.75 L608.1 267.87 L609.08 267.46 L610.05 269.22 L611.03 273.9 L613.07 276.36 L615.1 271.96 L617.14 277.16 L619.17 281.41 L621.21 273.35 L623.24 276.49 L625.28 279.69 L627.31 277.35 L629.35 275.51 L631.38 278.78 L633.42 278.85 L635.45 277.72 L637.49 274.93 L639.52 278.82 L641.56 279.37 L643.59 280.23 L645.63 278.17 L647.66 277.44 L649.7 277.54 L651.73 278.53 L653.77 282.06 L655.8 281.23 L657.84 279.32 L659.87 277.37 L661.91 277.7 L663.94 276.69 L665.98 277.8 L668.01 275.15 L670.05 276.65" stroke="#7EB2DE" stroke-width="0.7" fill="#7EB2DE" fill-opacity="0.12"/>
<path d="M524.34 274.98 L526.38 274.88 L528.41 275.93 L530.45 274.91 L532.48 276.48 L534.51 276.79 L536.55 279.02 L538.59 281.56 L540.62 282.89 L542.65 278.09 L544.69 278.93 L546.73 277.95 L548.76 275.94 L550.8 279.39 L552.83 278.15 L554.87 280.12 L556.9 279.79 L558.94 276.08 L560.97 280.78 L563 278.5 L565.04 277.91 L567.08 278.84 L569.11 278.91 L571.14 281.34 L573.18 277.98 L575.22 279.87 L577.25 279.56 L579.28 277.42 L581.32 275.86 L583.36 279.05 L585.39 274.47 L587.43 277.53 L589.46 277.6 L591.5 272.53 L593.53 274.56 L595.57 273.85 L597.6 265.79 L598.58 265.6 L599.55 267.49 L600.53 281.36 L601.51 271.14 L602.48 234.32 L603.46 207.29 L604.44 189.8 L605.41 173.88 L606.39 171.27 L607.37 172.09 L608.34 189.15 L609.32 213.37 L610.3 238.93 L611.28 259.85 L612.25 283 L613.23 273.72 L614.21 268.67 L615.18 267.35 L616.16 268.63 L617.14 273.26 L619.17 280.12 L621.21 272.48 L623.24 271.93 L625.28 278.74 L627.31 274.88 L629.35 272.4 L631.38 275.67 L633.42 278.86 L635.45 277.98 L637.49 277 L639.52 276.89 L641.56 282.62 L643.59 279.31 L645.63 278.2 L647.66 276.88 L649.7 274.82 L651.73 279.4 L653.77 281.13 L655.8 281.99 L657.84 277.82 L659.87 279.85 L661.91 278.58 L663.94 277.25 L665.98 275.8 L668.01 277.34 L670.05 276.91" stroke="#7EB2DE" stroke-width="0.7" fill="#7EB2DE" fill-opacity="0.12"/>
<path d="M524.34 275.57 L526.38 276.3 L528.41 277.78 L530.45 278.38 L532.48 276.77 L534.51 277.01 L536.55 276.77 L538.59 278.35 L540.62 278.82 L542.65 277.71 L544.69 278.79 L546.73 277.77 L548.76 277.11 L550.8 277.15 L552.83 281.28 L554.87 279.43 L556.9 276.46 L558.94 276.55 L560.97 277.73 L563 282.11 L565.04 276.42 L567.08 279.03 L569.11 281.07 L571.14 276.97 L573.18 277.47 L575.22 278.15 L577.25 279.38 L579.28 276.86 L581.32 277.48 L583.36 278.63 L585.39 274.84 L587.43 279.47 L589.46 277.64 L591.5 274.41 L593.53 275.99 L595.57 276.06 L597.6 273.76 L599.63 276.64 L601.67 271.51 L603.71 265.91 L604.68 269.54 L605.66 275.41 L606.64 274.1 L607.61 251.47 L608.59 218.61 L609.57 199.46 L610.54 190.78 L611.52 174.33 L612.5 170.78 L613.47 182.39 L614.45 194.15 L615.43 207.81 L616.4 237.85 L617.38 257.92 L618.36 274.39 L619.33 276.4 L620.31 265.14 L621.29 263.96 L622.26 264.38 L624.3 274.66 L626.33 275.77 L628.37 270.59 L630.4 272.48 L632.44 279.8 L634.47 277.28 L636.51 275.05 L638.54 276.82 L640.58 280.37 L642.61 278.79 L644.65 275.57 L646.68 277.41 L648.72 274.04 L650.75 279.24 L652.79 279.15 L654.82 283.15 L656.86 278.34 L658.89 276.12 L660.93 275.51 L662.96 276.16 L665 275.6 L667.03 277.85 L669.07 276.71" stroke="#7EB2DE" stroke-width="0.7" fill="#7EB2DE" fill-opacity="0.12"/>
<path d="M524.34 278.17 L526.38 278.43 L528.41 279.42 L530.45 280.8 L532.48 281.87 L534.51 281.14 L536.55 279.73 L538.59 279.98 L540.62 277.76 L542.65 275.16 L544.69 276.36 L546.73 279.12 L548.76 282.9 L550.8 280.39 L552.83 276.91 L554.87 274.86 L556.9 279.61 L558.94 282 L560.97 280.14 L563 276.81 L565.04 278.93 L567.08 279.42 L569.11 278.86 L571.14 275.26 L573.18 279.24 L575.22 280.23 L577.25 276.56 L579.28 281.02 L581.32 280.21 L583.36 274.59 L585.39 278.14 L587.43 277.53 L589.46 275.6 L591.5 277.25 L593.53 278.18 L595.57 273.31 L597.6 277.51 L599.63 276.01 L601.67 272.26 L603.71 276.53 L605.74 269.19 L607.77 265.75 L608.75 270.56 L609.73 279.65 L610.71 265.26 L611.68 253.96 L612.66 221.15 L613.64 203.16 L614.61 185.4 L615.59 172.91 L616.57 170.52 L617.54 173.98 L618.52 194.34 L619.5 213.54 L620.47 225.32 L621.45 262.11 L622.43 277.44 L623.4 281.59 L624.38 268.97 L625.36 268.25 L626.33 266.18 L628.37 270.6 L630.4 277.89 L632.44 273.8 L634.47 271.89 L636.51 275.19 L638.54 282.45 L640.58 277.98 L642.61 273.25 L644.65 276.53 L646.68 277.84 L648.72 281.74 L650.75 278.35 L652.79 275 L654.82 276.21 L656.86 276.56 L658.89 278.11 L660.93 276.15 L662.96 277.07 L665 279.1 L667.03 278.8 L669.07 277.89" stroke="#7EB2DE" stroke-width="0.7" fill="#7EB2DE" fill-opacity="0.12"/>
<path d="M524.34 274.86 L526.38 276.94 L528.41 276.83 L530.45 276.11 L532.48 275.49 L534.51 275.23 L536.55 275.15 L538.59 276.73 L540.62 279.47 L542.65 278.51 L544.69 280.53 L546.73 277.9 L548.76 276.55 L550.8 278.06 L552.83 277.41 L554.87 281.65 L556.9 277.66 L558.94 276.07 L560.97 277.79 L563 281.17 L565.04 279.34 L567.08 275.69 L569.11 276.32 L571.14 280.75 L573.18 276.95 L575.22 275.82 L577.25 279.36 L579.28 276.98 L581.32 275.34 L583.36 280.45 L585.39 277.45 L587.43 277.2 L589.46 280.95 L591.5 278.31 L593.53 275.44 L595.57 280.18 L597.6 276.52 L599.63 274.18 L601.67 281.92 L603.71 272.92 L605.74 271.3 L607.77 281.98 L609.81 267.08 L611.85 266.59 L612.82 276.44 L613.8 276.85 L614.78 250.48 L615.75 229.96 L616.73 220.86 L617.71 196.18 L618.68 175.46 L619.66 170.86 L620.64 174.99 L621.61 185.64 L622.59 201.53 L623.57 207.65 L624.54 241.39 L625.52 263.4 L626.5 282.46 L627.47 278.55 L628.45 269.99 L629.43 267.5 L630.4 266.94 L632.44 274.78 L634.47 280.05 L636.51 273.84 L638.54 270.4 L640.58 272.32 L642.61 276.8 L644.65 278.83 L646.68 277.34 L648.72 274.38 L650.75 276.56 L652.79 277.01 L654.82 277.14 L656.86 278.48 L658.89 281.38 L660.93 279.43 L662.96 276.7 L665 278.42 L667.03 278.16 L669.07 277.63" stroke="#7EB2DE" stroke-width="0.7" fill="#7EB2DE" fill-opacity="0.12"/>
<rect x="524.3" y="168.8" width="146.1" height="114.5" fill="none" stroke="#444" stroke-width="0.7"/>
<path d="M524.34 283.3v-1.5M524.34 168.8v1.5M532.48 283.3v-1.5M532.48 168.8v1.5M540.62 283.3v-1.5M540.62 168.8v1.5M548.76 283.3v-1.5M548.76 168.8v1.5M556.9 283.3v-1.5M556.9 168.8v1.5M565.04 283.3v-1.5M565.04 168.8v1.5M573.18 283.3v-1.5M573.18 168.8v1.5M581.32 283.3v-1.5M581.32 168.8v1.5M589.46 283.3v-1.5M589.46 168.8v1.5M597.6 283.3v-1.5M597.6 168.8v1.5M605.74 283.3v-1.5M605.74 168.8v1.5M613.88 283.3v-1.5M613.88 168.8v1.5M622.02 283.3v-1.5M622.02 168.8v1.5M630.16 283.3v-1.5M630.16 168.8v1.5M638.3 283.3v-1.5M638.3 168.8v1.5M646.44 283.3v-1.5M646.44 168.8v1.5M654.58 283.3v-1.5M654.58 168.8v1.5M662.72 283.3v-1.5M662.72 168.8v1.5M670.86 283.3v-1.5M670.86 168.8v1.5M524.3 283.3h1.6M670.4 283.3h-1.6M524.3 277.66h1M670.4 277.66h-1M524.3 272.02h1M670.4 272.02h-1M524.3 266.38h1M670.4 266.38h-1M524.3 260.74h1.6M670.4 260.74h-1.6M524.3 255.1h1M670.4 255.1h-1M524.3 249.46h1M670.4 249.46h-1M524.3 243.82h1M670.4 243.82h-1M524.3 238.18h1.6M670.4 238.18h-1.6M524.3 232.54h1M670.4 232.54h-1M524.3 226.9h1M670.4 226.9h-1M524.3 221.26h1M670.4 221.26h-1M524.3 215.62h1.6M670.4 215.62h-1.6M524.3 209.98h1M670.4 209.98h-1M524.3 204.34h1M670.4 204.34h-1M524.3 198.7h1M670.4 198.7h-1M524.3 193.06h1.6M670.4 193.06h-1.6M524.3 187.42h1M670.4 187.42h-1M524.3 181.78h1M670.4 181.78h-1M524.3 176.14h1M670.4 176.14h-1M524.3 170.5h1.6M670.4 170.5h-1.6" stroke="#444" stroke-width="0.5" fill="none"/>
<text x="521.5" y="287" font-size="11" fill="#222" font-family="'Liberation Serif',serif" text-anchor="end">0</text>
<text x="521.5" y="264.44" font-size="11" fill="#222" font-family="'Liberation Serif',serif" text-anchor="end">0.2</text>
<text x="521.5" y="241.88" font-size="11" fill="#222" font-family="'Liberation Serif',serif" text-anchor="end">0.4</text>
<text x="521.5" y="219.32" font-size="11" fill="#222" font-family="'Liberation Serif',serif" text-anchor="end">0.6</text>
<text x="521.5" y="196.76" font-size="11" fill="#222" font-family="'Liberation Serif',serif" text-anchor="end">0.8</text>
<text x="521.5" y="174.2" font-size="11" fill="#222" font-family="'Liberation Serif',serif" text-anchor="end">1</text>
<text x="556.9" y="296.6" font-size="11" fill="#222" font-family="'Liberation Serif',serif" text-anchor="middle">-50</text>
<text x="597.6" y="296.6" font-size="11" fill="#222" font-family="'Liberation Serif',serif" text-anchor="middle">0</text>
<text x="638.3" y="296.6" font-size="11" fill="#222" font-family="'Liberation Serif',serif" text-anchor="middle">50</text>
<text x="599.7" y="307.3" font-size="11" fill="#000" font-family="'Liberation Sans',sans-serif" text-anchor="middle" textLength="45" lengthAdjust="spacingAndGlyphs">Angle [°]</text>
<text x="503.5" y="226" font-size="11" fill="#222" font-family="'Liberation Serif',serif" text-anchor="middle" textLength="56" lengthAdjust="spacingAndGlyphs" transform="rotate(-90 503.5 226)">Amplititude</text>
<text x="475.5" y="187.2" font-size="12" fill="#000" font-family="'Liberation Sans',sans-serif" text-anchor="middle" font-weight="bold">(h)</text>
<linearGradient id="trig" x1="166" y1="0" x2="256" y2="0" gradientUnits="userSpaceOnUse"><stop offset="0" stop-color="#E0E9F6"/><stop offset="1" stop-color="#93B8E1"/></linearGradient>
<linearGradient id="recg" x1="74" y1="0" x2="166" y2="0" gradientUnits="userSpaceOnUse"><stop offset="0" stop-color="#F7F9FD"/><stop offset="1" stop-color="#E3EBF6"/></linearGradient>
<rect x="74" y="361" width="92.5" height="133.5" fill="url(#recg)"/>
<polygon points="166.5,294 255,427 166.5,562" fill="url(#trig)"/>
<rect x="44.4" y="345" width="29.7" height="169.7" fill="#808080"/>
<path d="M50 345l3.2 3.2M53.6 345l3.2 3.2M57.2 345l3.2 3.2M50 348.4l3.2 3.2M53.6 348.4l3.2 3.2M57.2 348.4l3.2 3.2M50 351.8l3.2 3.2M53.6 351.8l3.2 3.2M57.2 351.8l3.2 3.2M50 355.2l3.2 3.2M53.6 355.2l3.2 3.2M57.2 355.2l3.2 3.2M50 358.6l3.2 3.2M53.6 358.6l3.2 3.2M57.2 358.6l3.2 3.2M50 362l3.2 3.2M53.6 362l3.2 3.2M57.2 362l3.2 3.2M50 365.4l3.2 3.2M53.6 365.4l3.2 3.2M57.2 365.4l3.2 3.2M50 368.8l3.2 3.2M53.6 368.8l3.2 3.2M57.2 368.8l3.2 3.2M50 372.2l3.2 3.2M53.6 372.2l3.2 3.2M57.2 372.2l3.2 3.2M50 375.6l3.2 3.2M53.6 375.6l3.2 3.2M57.2 375.6l3.2 3.2M50 379l3.2 3.2M53.6 379l3.2 3.2M57.2 379l3.2 3.2M50 382.4l3.2 3.2M53.6 382.4l3.2 3.2M57.2 382.4l3.2 3.2M50 385.8l3.2 3.2M53.6 385.8l3.2 3.2M57.2 385.8l3.2 3.2M50 390l3.2 3.2M53.6 390l3.2 3.2M57.2 390l3.2 3.2M50 393.4l3.2 3.2M53.6 393.4l3.2 3.2M57.2 393.4l3.2 3.2M50 396.8l3.2 3.2M53.6 396.8l3.2 3.2M57.2 396.8l3.2 3.2M50 400.2l3.2 3.2M53.6 400.2l3.2 3.2M57.2 400.2l3.2 3.2M50 403.6l3.2 3.2M53.6 403.6l3.2 3.2M57.2 403.6l3.2 3.2M50 407l3.2 3.2M53.6 407l3.2 3.2M57.2 407l3.2 3.2M50 410.4l3.2 3.2M53.6 410.4l3.2 3.2M57.2 410.4l3.2 3.2M50 413.8l3.2 3.2M53.6 413.8l3.2 3.2M57.2 413.8l3.2 3.2M50 417.2l3.2 3.2M53.6 417.2l3.2 3.2M57.2 417.2l3.2 3.2M50 420.6l3.2 3.2M53.6 420.6l3.2 3.2M57.2 420.6l3.2 3.2M50 424l3.2 3.2M53.6 424l3.2 3.2M57.2 424l3.2 3.2M50 427.4l3.2 3.2M53.6 427.4l3.2 3.2M57.2 427.4l3.2 3.2M50 430.8l3.2 3.2M53.6 430.8l3.2 3.2M57.2 430.8l3.2 3.2M50 434.2l3.2 3.2M53.6 434.2l3.2 3.2M57.2 434.2l3.2 3.2M50 437.6l3.2 3.2M53.6 437.6l3.2 3.2M57.2 437.6l3.2 3.2M50 440h3M53.6 440h3M57.2 440h3M50 442.6h3M53.6 442.6h3M57.2 442.6h3M50 445.2h3M53.6 445.2h3M57.2 445.2h3M50 447.8h3M53.6 447.8h3M57.2 447.8h3M50 450.4h3M53.6 450.4h3M57.2 450.4h3M50 453h3M53.6 453h3M57.2 453h3M50 455.6h3M53.6 455.6h3M57.2 455.6h3M50 458.2h3M53.6 458.2h3M57.2 458.2h3M50 460.8h3M53.6 460.8h3M57.2 460.8h3M50 463.4h3M53.6 463.4h3M57.2 463.4h3M50 466h3M53.6 466h3M57.2 466h3M50 468.6h3M53.6 468.6h3M57.2 468.6h3M50 471.2h3M53.6 471.2h3M57.2 471.2h3M50 475l3.2 3.2M53.6 475l3.2 3.2M57.2 475l3.2 3.2M50 478.4l3.2 3.2M53.6 478.4l3.2 3.2M57.2 478.4l3.2 3.2M50 481.8l3.2 3.2M53.6 481.8l3.2 3.2M57.2 481.8l3.2 3.2M50 485.2l3.2 3.2M53.6 485.2l3.2 3.2M57.2 485.2l3.2 3.2M50 488.6l3.2 3.2M53.6 488.6l3.2 3.2M57.2 488.6l3.2 3.2M50 492l3.2 3.2M53.6 492l3.2 3.2M57.2 492l3.2 3.2M50 495l3.2 -3.2M53.6 495l3.2 -3.2M57.2 495l3.2 -3.2M50 498.4l3.2 -3.2M53.6 498.4l3.2 -3.2M57.2 498.4l3.2 -3.2M50 501.8l3.2 -3.2M53.6 501.8l3.2 -3.2M57.2 501.8l3.2 -3.2M50 505.2l3.2 -3.2M53.6 505.2l3.2 -3.2M57.2 505.2l3.2 -3.2M50 508.6l3.2 -3.2M53.6 508.6l3.2 -3.2M57.2 508.6l3.2 -3.2M50 512l3.2 -3.2M53.6 512l3.2 -3.2M57.2 512l3.2 -3.2" stroke="#111" stroke-width="0.8" fill="none"/>
<path d="M51.5 345l3.2 3.2M55.1 345l3.2 3.2M58.7 345l3.2 3.2M51.5 348.4l3.2 3.2M55.1 348.4l3.2 3.2M58.7 348.4l3.2 3.2M51.5 351.8l3.2 3.2M55.1 351.8l3.2 3.2M58.7 351.8l3.2 3.2M51.5 355.2l3.2 3.2M55.1 355.2l3.2 3.2M58.7 355.2l3.2 3.2M51.5 358.6l3.2 3.2M55.1 358.6l3.2 3.2M58.7 358.6l3.2 3.2M51.5 362l3.2 3.2M55.1 362l3.2 3.2M58.7 362l3.2 3.2M51.5 365.4l3.2 3.2M55.1 365.4l3.2 3.2M58.7 365.4l3.2 3.2M51.5 368.8l3.2 3.2M55.1 368.8l3.2 3.2M58.7 368.8l3.2 3.2M51.5 372.2l3.2 3.2M55.1 372.2l3.2 3.2M58.7 372.2l3.2 3.2M51.5 375.6l3.2 3.2M55.1 375.6l3.2 3.2M58.7 375.6l3.2 3.2M51.5 379l3.2 3.2M55.1 379l3.2 3.2M58.7 379l3.2 3.2M51.5 382.4l3.2 3.2M55.1 382.4l3.2 3.2M58.7 382.4l3.2 3.2M51.5 385.8l3.2 3.2M55.1 385.8l3.2 3.2M58.7 385.8l3.2 3.2M51.5 390l3.2 3.2M55.1 390l3.2 3.2M58.7 390l3.2 3.2M51.5 393.4l3.2 3.2M55.1 393.4l3.2 3.2M58.7 393.4l3.2 3.2M51.5 396.8l3.2 3.2M55.1 396.8l3.2 3.2M58.7 396.8l3.2 3.2M51.5 400.2l3.2 3.2M55.1 400.2l3.2 3.2M58.7 400.2l3.2 3.2M51.5 403.6l3.2 3.2M55.1 403.6l3.2 3.2M58.7 403.6l3.2 3.2M51.5 407l3.2 3.2M55.1 407l3.2 3.2M58.7 407l3.2 3.2M51.5 410.4l3.2 3.2M55.1 410.4l3.2 3.2M58.7 410.4l3.2 3.2M51.5 413.8l3.2 3.2M55.1 413.8l3.2 3.2M58.7 413.8l3.2 3.2M51.5 417.2l3.2 3.2M55.1 417.2l3.2 3.2M58.7 417.2l3.2 3.2M51.5 420.6l3.2 3.2M55.1 420.6l3.2 3.2M58.7 420.6l3.2 3.2M51.5 424l3.2 3.2M55.1 424l3.2 3.2M58.7 424l3.2 3.2M51.5 427.4l3.2 3.2M55.1 427.4l3.2 3.2M58.7 427.4l3.2 3.2M51.5 430.8l3.2 3.2M55.1 430.8l3.2 3.2M58.7 430.8l3.2 3.2M51.5 434.2l3.2 3.2M55.1 434.2l3.2 3.2M58.7 434.2l3.2 3.2M51.5 437.6l3.2 3.2M55.1 437.6l3.2 3.2M58.7 437.6l3.2 3.2M50 441.3h3M53.6 441.3h3M57.2 441.3h3M50 443.9h3M53.6 443.9h3M57.2 443.9h3M50 446.5h3M53.6 446.5h3M57.2 446.5h3M50 449.1h3M53.6 449.1h3M57.2 449.1h3M50 451.7h3M53.6 451.7h3M57.2 451.7h3M50 454.3h3M53.6 454.3h3M57.2 454.3h3M50 456.9h3M53.6 456.9h3M57.2 456.9h3M50 459.5h3M53.6 459.5h3M57.2 459.5h3M50 462.1h3M53.6 462.1h3M57.2 462.1h3M50 464.7h3M53.6 464.7h3M57.2 464.7h3M50 467.3h3M53.6 467.3h3M57.2 467.3h3M50 469.9h3M53.6 469.9h3M57.2 469.9h3M50 472.5h3M53.6 472.5h3M57.2 472.5h3M51.5 475l3.2 3.2M55.1 475l3.2 3.2M58.7 475l3.2 3.2M51.5 478.4l3.2 3.2M55.1 478.4l3.2 3.2M58.7 478.4l3.2 3.2M51.5 481.8l3.2 3.2M55.1 481.8l3.2 3.2M58.7 481.8l3.2 3.2M51.5 485.2l3.2 3.2M55.1 485.2l3.2 3.2M58.7 485.2l3.2 3.2M51.5 488.6l3.2 3.2M55.1 488.6l3.2 3.2M58.7 488.6l3.2 3.2M51.5 492l3.2 3.2M55.1 492l3.2 3.2M58.7 492l3.2 3.2M51.5 495l3.2 -3.2M55.1 495l3.2 -3.2M58.7 495l3.2 -3.2M51.5 498.4l3.2 -3.2M55.1 498.4l3.2 -3.2M58.7 498.4l3.2 -3.2M51.5 501.8l3.2 -3.2M55.1 501.8l3.2 -3.2M58.7 501.8l3.2 -3.2M51.5 505.2l3.2 -3.2M55.1 505.2l3.2 -3.2M58.7 505.2l3.2 -3.2M51.5 508.6l3.2 -3.2M55.1 508.6l3.2 -3.2M58.7 508.6l3.2 -3.2M51.5 512l3.2 -3.2M55.1 512l3.2 -3.2M58.7 512l3.2 -3.2" stroke="#f4f4f4" stroke-width="1.3" fill="none"/>
<path d="M45.6 345V515M48.2 345V515" stroke="#1a1a1a" stroke-width="0.9"/><path d="M46.9 345V515" stroke="#eee" stroke-width="0.9"/>
<rect x="88.9" y="345" width="2.2" height="18" fill="#151515"/><rect x="88.9" y="366.7" width="2.2" height="18" fill="#151515"/><rect x="88.9" y="388.4" width="2.2" height="18" fill="#151515"/><rect x="88.9" y="410.1" width="2.2" height="18" fill="#151515"/><rect x="88.9" y="431.8" width="2.2" height="18" fill="#151515"/><rect x="88.9" y="453.5" width="2.2" height="18" fill="#151515"/><rect x="88.9" y="475.2" width="2.2" height="18" fill="#151515"/><rect x="88.9" y="496.9" width="2.2" height="18" fill="#151515"/><rect x="104.6" y="345" width="2.8" height="18" fill="#1a1a1a"/><path d="M104.6 346.2l2.8 1.8M104.6 349.6l2.8 1.8M104.6 353l2.8 1.8M104.6 356.4l2.8 1.8M104.6 359.8l2.8 1.8" stroke="#e8e8e8" stroke-width="0.9"/><rect x="104.6" y="366.7" width="2.8" height="18" fill="#1a1a1a"/><path d="M104.6 367.9l2.8 1.8M104.6 371.3l2.8 1.8M104.6 374.7l2.8 1.8M104.6 378.1l2.8 1.8M104.6 381.5l2.8 1.8" stroke="#e8e8e8" stroke-width="0.9"/><rect x="104.6" y="388.4" width="2.8" height="18" fill="#1a1a1a"/><path d="M104.6 389.6l2.8 1.8M104.6 393l2.8 1.8M104.6 396.4l2.8 1.8M104.6 399.8l2.8 1.8M104.6 403.2l2.8 1.8" stroke="#e8e8e8" stroke-width="0.9"/><rect x="104.6" y="410.1" width="2.8" height="18" fill="#1a1a1a"/><path d="M104.6 411.3l2.8 1.8M104.6 414.7l2.8 1.8M104.6 418.1l2.8 1.8M104.6 421.5l2.8 1.8M104.6 424.9l2.8 1.8" stroke="#e8e8e8" stroke-width="0.9"/><rect x="104.6" y="431.8" width="2.8" height="18" fill="#1a1a1a"/><path d="M104.6 433l2.8 1.8M104.6 436.4l2.8 1.8M104.6 439.8l2.8 1.8M104.6 443.2l2.8 1.8M104.6 446.6l2.8 1.8" stroke="#e8e8e8" stroke-width="0.9"/><rect x="104.6" y="453.5" width="2.8" height="18" fill="#1a1a1a"/><path d="M104.6 454.7l2.8 1.8M104.6 458.1l2.8 1.8M104.6 461.5l2.8 1.8M104.6 464.9l2.8 1.8M104.6 468.3l2.8 1.8" stroke="#e8e8e8" stroke-width="0.9"/><rect x="104.6" y="475.2" width="2.8" height="18" fill="#1a1a1a"/><path d="M104.6 476.4l2.8 1.8M104.6 479.8l2.8 1.8M104.6 483.2l2.8 1.8M104.6 486.6l2.8 1.8M104.6 490l2.8 1.8" stroke="#e8e8e8" stroke-width="0.9"/><rect x="104.6" y="496.9" width="2.8" height="18" fill="#1a1a1a"/><path d="M104.6 498.1l2.8 1.8M104.6 501.5l2.8 1.8M104.6 504.9l2.8 1.8M104.6 508.3l2.8 1.8M104.6 511.7l2.8 1.8" stroke="#e8e8e8" stroke-width="0.9"/><rect x="120.8" y="345" width="2.8" height="18" fill="#1a1a1a"/><path d="M120.8 346.2l2.8 1.8M120.8 349.6l2.8 1.8M120.8 353l2.8 1.8M120.8 356.4l2.8 1.8M120.8 359.8l2.8 1.8" stroke="#e8e8e8" stroke-width="0.9"/><rect x="120.8" y="366.7" width="2.8" height="18" fill="#1a1a1a"/><path d="M120.8 367.9l2.8 1.8M120.8 371.3l2.8 1.8M120.8 374.7l2.8 1.8M120.8 378.1l2.8 1.8M120.8 381.5l2.8 1.8" stroke="#e8e8e8" stroke-width="0.9"/><rect x="120.8" y="388.4" width="2.8" height="18" fill="#1a1a1a"/><path d="M120.8 389.6l2.8 1.8M120.8 393l2.8 1.8M120.8 396.4l2.8 1.8M120.8 399.8l2.8 1.8M120.8 403.2l2.8 1.8" stroke="#e8e8e8" stroke-width="0.9"/><rect x="120.8" y="410.1" width="2.8" height="18" fill="#1a1a1a"/><path d="M120.8 411.3l2.8 1.8M120.8 414.7l2.8 1.8M120.8 418.1l2.8 1.8M120.8 421.5l2.8 1.8M120.8 424.9l2.8 1.8" stroke="#e8e8e8" stroke-width="0.9"/><rect x="120.8" y="431.8" width="2.8" height="18" fill="#1a1a1a"/><path d="M120.8 433l2.8 1.8M120.8 436.4l2.8 1.8M120.8 439.8l2.8 1.8M120.8 443.2l2.8 1.8M120.8 446.6l2.8 1.8" stroke="#e8e8e8" stroke-width="0.9"/><rect x="120.8" y="453.5" width="2.8" height="18" fill="#1a1a1a"/><path d="M120.8 454.7l2.8 1.8M120.8 458.1l2.8 1.8M120.8 461.5l2.8 1.8M120.8 464.9l2.8 1.8M120.8 468.3l2.8 1.8" stroke="#e8e8e8" stroke-width="0.9"/><rect x="120.8" y="475.2" width="2.8" height="18" fill="#1a1a1a"/><path d="M120.8 476.4l2.8 1.8M120.8 479.8l2.8 1.8M120.8 483.2l2.8 1.8M120.8 486.6l2.8 1.8M120.8 490l2.8 1.8" stroke="#e8e8e8" stroke-width="0.9"/><rect x="120.8" y="496.9" width="2.8" height="18" fill="#1a1a1a"/><path d="M120.8 498.1l2.8 1.8M120.8 501.5l2.8 1.8M120.8 504.9l2.8 1.8M120.8 508.3l2.8 1.8M120.8 511.7l2.8 1.8" stroke="#e8e8e8" stroke-width="0.9"/><rect x="137.1" y="345" width="2.8" height="18" fill="#1a1a1a"/><path d="M137.1 346.2l2.8 1.8M137.1 349.6l2.8 1.8M137.1 353l2.8 1.8M137.1 356.4l2.8 1.8M137.1 359.8l2.8 1.8" stroke="#e8e8e8" stroke-width="0.9"/><rect x="137.1" y="366.7" width="2.8" height="18" fill="#1a1a1a"/><path d="M137.1 367.9l2.8 1.8M137.1 371.3l2.8 1.8M137.1 374.7l2.8 1.8M137.1 378.1l2.8 1.8M137.1 381.5l2.8 1.8" stroke="#e8e8e8" stroke-width="0.9"/><rect x="137.1" y="388.4" width="2.8" height="18" fill="#1a1a1a"/><path d="M137.1 389.6l2.8 1.8M137.1 393l2.8 1.8M137.1 396.4l2.8 1.8M137.1 399.8l2.8 1.8M137.1 403.2l2.8 1.8" stroke="#e8e8e8" stroke-width="0.9"/><rect x="137.1" y="410.1" width="2.8" height="18" fill="#1a1a1a"/><path d="M137.1 411.3l2.8 1.8M137.1 414.7l2.8 1.8M137.1 418.1l2.8 1.8M137.1 421.5l2.8 1.8M137.1 424.9l2.8 1.8" stroke="#e8e8e8" stroke-width="0.9"/><rect x="137.1" y="431.8" width="2.8" height="18" fill="#1a1a1a"/><path d="M137.1 433l2.8 1.8M137.1 436.4l2.8 1.8M137.1 439.8l2.8 1.8M137.1 443.2l2.8 1.8M137.1 446.6l2.8 1.8" stroke="#e8e8e8" stroke-width="0.9"/><rect x="137.1" y="453.5" width="2.8" height="18" fill="#1a1a1a"/><path d="M137.1 454.7l2.8 1.8M137.1 458.1l2.8 1.8M137.1 461.5l2.8 1.8M137.1 464.9l2.8 1.8M137.1 468.3l2.8 1.8" stroke="#e8e8e8" stroke-width="0.9"/><rect x="137.1" y="475.2" width="2.8" height="18" fill="#1a1a1a"/><path d="M137.1 476.4l2.8 1.8M137.1 479.8l2.8 1.8M137.1 483.2l2.8 1.8M137.1 486.6l2.8 1.8M137.1 490l2.8 1.8" stroke="#e8e8e8" stroke-width="0.9"/><rect x="137.1" y="496.9" width="2.8" height="18" fill="#1a1a1a"/><path d="M137.1 498.1l2.8 1.8M137.1 501.5l2.8 1.8M137.1 504.9l2.8 1.8M137.1 508.3l2.8 1.8M137.1 511.7l2.8 1.8" stroke="#e8e8e8" stroke-width="0.9"/><rect x="153.9" y="345" width="2.6" height="18" fill="#6a6a6a"/><path d="M155.2 348v2M155.2 354v2M155.2 359v2" stroke="#ccc" stroke-width="1"/><rect x="153.9" y="366.7" width="2.6" height="18" fill="#6a6a6a"/><path d="M155.2 369.7v2M155.2 375.7v2M155.2 380.7v2" stroke="#ccc" stroke-width="1"/><rect x="153.9" y="388.4" width="2.6" height="18" fill="#6a6a6a"/><path d="M155.2 391.4v2M155.2 397.4v2M155.2 402.4v2" stroke="#ccc" stroke-width="1"/><rect x="153.9" y="410.1" width="2.6" height="18" fill="#6a6a6a"/><path d="M155.2 413.1v2M155.2 419.1v2M155.2 424.1v2" stroke="#ccc" stroke-width="1"/><rect x="153.9" y="431.8" width="2.6" height="18" fill="#6a6a6a"/><path d="M155.2 434.8v2M155.2 440.8v2M155.2 445.8v2" stroke="#ccc" stroke-width="1"/><rect x="153.9" y="453.5" width="2.6" height="18" fill="#6a6a6a"/><path d="M155.2 456.5v2M155.2 462.5v2M155.2 467.5v2" stroke="#ccc" stroke-width="1"/><rect x="153.9" y="475.2" width="2.6" height="18" fill="#6a6a6a"/><path d="M155.2 478.2v2M155.2 484.2v2M155.2 489.2v2" stroke="#ccc" stroke-width="1"/><rect x="153.9" y="496.9" width="2.6" height="18" fill="#6a6a6a"/><path d="M155.2 499.9v2M155.2 505.9v2M155.2 510.9v2" stroke="#ccc" stroke-width="1"/><rect x="169.5" y="345" width="3.6" height="18" fill="#000"/><rect x="169.5" y="366.7" width="3.6" height="18" fill="#000"/><rect x="169.5" y="388.4" width="3.6" height="18" fill="#000"/><rect x="169.5" y="410.1" width="3.6" height="18" fill="#000"/><rect x="169.5" y="431.8" width="3.6" height="18" fill="#000"/><rect x="169.5" y="453.5" width="3.6" height="18" fill="#000"/><rect x="169.5" y="475.2" width="3.6" height="18" fill="#000"/><rect x="169.5" y="496.9" width="3.6" height="18" fill="#000"/><rect x="186.2" y="345" width="3.6" height="18" fill="#000"/><rect x="186.2" y="366.7" width="3.6" height="18" fill="#000"/><rect x="186.2" y="388.4" width="3.6" height="18" fill="#000"/><rect x="186.2" y="410.1" width="3.6" height="18" fill="#000"/><rect x="186.2" y="431.8" width="3.6" height="18" fill="#000"/><rect x="186.2" y="453.5" width="3.6" height="18" fill="#000"/><rect x="186.2" y="475.2" width="3.6" height="18" fill="#000"/><rect x="186.2" y="496.9" width="3.6" height="18" fill="#000"/><rect x="202.5" y="345" width="3.6" height="18" fill="#000"/><rect x="202.5" y="366.7" width="3.6" height="18" fill="#000"/><rect x="202.5" y="388.4" width="3.6" height="18" fill="#000"/><rect x="202.5" y="410.1" width="3.6" height="18" fill="#000"/><rect x="202.5" y="431.8" width="3.6" height="18" fill="#000"/><rect x="202.5" y="453.5" width="3.6" height="18" fill="#000"/><rect x="202.5" y="475.2" width="3.6" height="18" fill="#000"/><rect x="202.5" y="496.9" width="3.6" height="18" fill="#000"/>
<rect x="215" y="323" width="20.5" height="13" fill="#2E75B6"/>
<text x="225.2" y="328.8" font-size="6" fill="#fff" font-family="'Liberation Sans',sans-serif" text-anchor="middle">0</text>
<text x="225.2" y="335.6" font-size="6" fill="#fff" font-family="'Liberation Sans',sans-serif" text-anchor="middle">*</text>
<rect x="215" y="339" width="20.5" height="6.5" fill="#2E75B6"/>
<text x="225.2" y="344.3" font-size="6" fill="#fff" font-family="'Liberation Sans',sans-serif" text-anchor="middle">1</text>
<rect x="215" y="346" width="20.5" height="7.3" fill="#BDD7EE"/>
<rect x="215" y="356" width="20.5" height="6.5" fill="#2E75B6"/>
<text x="225.2" y="361.3" font-size="6" fill="#fff" font-family="'Liberation Sans',sans-serif" text-anchor="middle">2</text>
<rect x="215" y="363" width="20.5" height="7.3" fill="#BDD7EE"/>
<rect x="215" y="502.8" width="20.5" height="6.5" fill="#2E75B6"/>
<text x="225.2" y="508.1" font-size="6" fill="#fff" font-family="'Liberation Sans',sans-serif" text-anchor="middle">64</text>
<rect x="215" y="509.8" width="20.5" height="7.3" fill="#BDD7EE"/>
<circle cx="223" cy="424" r="1.3" fill="#000"/>
<circle cx="223" cy="434" r="1.3" fill="#000"/>
<circle cx="223" cy="443.75" r="1.3" fill="#000"/>
<path d="M225.9 532V523" stroke="#2E75B6" stroke-width="1.5"/><polygon points="222.4,524.5 225.9,518.8 229.4,524.5" fill="#2E75B6"/>
<text x="56.7" y="332.8" font-size="12" fill="#000" font-family="'Liberation Sans',sans-serif" text-anchor="middle" font-weight="bold">(i)</text>
<text x="96.5" y="542.2" font-size="12.5" fill="#000" font-family="'Liberation Sans',sans-serif" textLength="145.5" lengthAdjust="spacingAndGlyphs">Patch + Position Embedding</text>
<text x="96.5" y="556.1" font-size="10" fill="#000" font-family="'Liberation Sans',sans-serif" textLength="130" lengthAdjust="spacingAndGlyphs">*Extra learnable embedding</text>
<rect x="255.2" y="329" width="122.6" height="217.5" rx="13" fill="#DEE8F6" stroke="#1F6FC6" stroke-width="2.3"/>
<rect x="283.2" y="364" width="75.5" height="26.3" rx="4" fill="#2E75B6"/>
<rect x="283.2" y="398.3" width="75.5" height="26.3" rx="4" fill="#FFC0CB"/>
<rect x="283.2" y="463" width="75.5" height="26" rx="4" fill="#2E75B6"/>
<rect x="283.2" y="504.7" width="75.5" height="25.6" rx="4" fill="#FFC0CB"/>
<text x="321" y="381" font-size="11.5" fill="#fff" font-family="'Liberation Sans',sans-serif" text-anchor="middle">MLP</text>
<text x="321" y="415.5" font-size="11.5" fill="#FFF0F3" font-family="'Liberation Sans',sans-serif" text-anchor="middle">Norm</text>
<text x="321" y="472.8" font-size="11.5" fill="#fff" font-family="'Liberation Sans',sans-serif" text-anchor="middle">Multi-Head</text>
<text x="321" y="487.8" font-size="11.5" fill="#fff" font-family="'Liberation Sans',sans-serif" text-anchor="middle">Attention</text>
<text x="321" y="521.5" font-size="11.5" fill="#FFF0F3" font-family="'Liberation Sans',sans-serif" text-anchor="middle">Norm</text>
<circle cx="321" cy="345.3" r="7" fill="#F8A8A8"/>
<path d="M318 345.3h6M321 342.3v6" stroke="#fff" stroke-width="0.9"/>
<circle cx="321" cy="443.7" r="7" fill="#F8A8A8"/>
<path d="M318 443.7h6M321 440.7v6" stroke="#fff" stroke-width="0.9"/>
<path d="M321 504.7V496.5M294 496.5H344M294 496.5V492M321 496.5V492M344 496.5V492M321 463V455M321 436.7V428M321 432.8H276V342.5H310M321 398.3V394M321 364V356M328 342.5H362M365.8 342.5V423.4H393M248 427.4H265M270.4 427.4V518H278" stroke="#4472C4" stroke-width="1.9" fill="none"/>
<polygon points="290.6,494.5 294,489 297.4,494.5" fill="#4472C4"/>
<polygon points="317.6,494.5 321,489 324.4,494.5" fill="#4472C4"/>
<polygon points="340.6,494.5 344,489 347.4,494.5" fill="#4472C4"/>
<polygon points="317.6,456.5 321,451 324.4,456.5" fill="#4472C4"/>
<polygon points="317.6,430.1 321,424.6 324.4,430.1" fill="#4472C4"/>
<polygon points="317.6,395.8 321,390.3 324.4,395.8" fill="#4472C4"/>
<polygon points="317.6,357.8 321,352.3 324.4,357.8" fill="#4472C4"/>
<polygon points="308.7,339.1 314.2,342.5 308.7,345.9" fill="#4472C4"/>
<polygon points="361,339.1 366.5,342.5 361,345.9" fill="#4472C4"/>
<polygon points="393.5,420 399,423.4 393.5,426.8" fill="#4472C4"/>
<polygon points="263.5,424 269,427.4 263.5,430.8" fill="#4472C4"/>
<polygon points="277.7,514.6 283.2,518 277.7,521.4" fill="#4472C4"/>
<text x="266.4" y="346.2" font-size="12.5" fill="#000" font-family="'Liberation Sans',sans-serif" text-anchor="middle" font-weight="bold">(j)</text>
<text x="271" y="365" font-size="14.5" fill="#000" font-family="'Liberation Sans',sans-serif" text-anchor="middle" textLength="23" lengthAdjust="spacingAndGlyphs">16x</text>
<rect x="399" y="379.8" width="25.6" height="87.5" rx="3.5" fill="#2E75B6"/>
<text x="411.8" y="424" font-size="12" fill="#fff" font-family="'Liberation Sans',sans-serif" text-anchor="middle" textLength="53" lengthAdjust="spacingAndGlyphs" transform="rotate(90 411.8 424)" dominant-baseline="central">MLP Head</text>
<polygon points="424.6,418 434.8,418 434.8,412.2 444.7,423.4 434.8,434.8 434.8,429 424.6,429" fill="#0070C0"/>
<path d="M545.12 470.1A5.88 5.88 0 0 1 556.88 470.1M539.24 470.1A11.76 11.76 0 0 1 562.76 470.1M533.36 470.1A17.64 17.64 0 0 1 568.64 470.1M527.48 470.1A23.52 23.52 0 0 1 574.52 470.1M515.72 470.1A35.28 35.28 0 0 1 586.28 470.1M509.84 470.1A41.16 41.16 0 0 1 592.16 470.1M503.96 470.1A47.04 47.04 0 0 1 598.04 470.1M498.08 470.1A52.92 52.92 0 0 1 603.92 470.1M486.32 470.1A64.68 64.68 0 0 1 615.68 470.1M480.44 470.1A70.56 70.56 0 0 1 621.56 470.1M474.56 470.1A76.44 76.44 0 0 1 627.44 470.1M468.68 470.1A82.32 82.32 0 0 1 633.32 470.1M551 470.1L463.33 462.43M551 470.1L464.34 454.82M551 470.1L466 447.32M551 470.1L468.31 440M551 470.1L471.24 432.91M551 470.1L478.91 419.63M551 470.1L483.59 413.53M551 470.1L488.77 407.87M551 470.1L494.43 402.69M551 470.1L500.53 398.01M551 470.1L513.81 390.34M551 470.1L520.9 387.41M551 470.1L528.22 385.1M551 470.1L535.72 383.44M551 470.1L543.33 382.43M551 470.1L558.67 382.43M551 470.1L566.28 383.44M551 470.1L573.78 385.1M551 470.1L581.1 387.41M551 470.1L588.19 390.34M551 470.1L601.47 398.01M551 470.1L607.57 402.69M551 470.1L613.23 407.87M551 470.1L618.41 413.53M551 470.1L623.09 419.63M551 470.1L630.76 432.91M551 470.1L633.69 440M551 470.1L636 447.32M551 470.1L637.66 454.82M551 470.1L638.67 462.43" stroke="#bcbcbc" stroke-width="0.5" fill="none"/>
<path d="M521.6 470.1A29.4 29.4 0 0 1 580.4 470.1M492.4 470.1A58.6 58.6 0 0 1 609.6 470.1M463 470.1A88 88 0 0 1 639 470.1M456.5 470.1A94.5 94.5 0 0 1 645.5 470.1M551 470.1L469.16 422.85M551 470.1L503.75 388.26M551 470.1L551 375.6M551 470.1L598.25 388.26M551 470.1L632.84 422.85M456.5 470.1H645.5" stroke="#555" stroke-width="0.55" fill="none"/>
<path d="M551 470.1 L550.98 470.1 L550.91 470.1 L550.8 470.09 L550.64 470.07 L550.44 470.05 L550.19 470.01 L549.9 469.97 L549.58 469.9 L549.21 469.82 L548.82 469.72 L548.4 469.6 L547.97 469.46 L547.52 469.3 L547.08 469.12 L546.66 468.94 L546.27 468.74 L545.93 468.55 L545.66 468.37 L545.48 468.2 L545.4 468.06 L545.45 467.97 L545.64 467.94 L545.99 467.97 L546.49 468.09 L547.15 468.3 L547.96 468.62 L548.9 469.03 L549.94 469.54 L550.95 470.07 L549.82 469.42 L548.74 468.74 L547.75 468.07 L546.93 467.46 L546.33 466.95 L546 466.6 L545.99 466.46 L546.31 466.57 L546.96 466.94 L547.9 467.59 L549.09 468.5 L550.43 469.6 L550.18 469.36 L548.85 468.1 L547.71 466.92 L546.87 465.97 L546.43 465.36 L546.43 465.2 L546.9 465.55 L547.8 466.42 L549.05 467.78 L550.52 469.5 L549.97 468.78 L548.57 466.88 L547.48 465.25 L546.82 464.13 L546.7 463.73 L547.14 464.16 L548.09 465.45 L549.44 467.5 L551 470.1 L549.45 467.3 L548.12 464.69 L547.23 462.7 L546.9 461.7 L547.21 461.97 L548.1 463.59 L549.45 466.45 L550.96 470 L549.38 465.88 L548.07 462.06 L547.26 459.24 L547.08 458.04 L547.57 458.9 L548.66 461.93 L550.15 466.91 L550.22 466.97 L548.73 460.26 L547.65 454.33 L547.18 450.43 L547.4 449.7 L548.29 452.97 L549.67 460.65 L550.31 464.92 L550.97 469.85 L550.37 464.84 L549.73 458.8 L549.13 452.32 L548.59 445.49 L548.12 438.42 L547.73 431.2 L547.45 423.97 L547.28 416.83 L547.21 409.92 L547.27 403.36 L547.44 397.25 L547.71 391.7 L548.09 386.83 L548.56 382.71 L549.1 379.43 L549.7 377.04 L550.34 375.59 L551 375.1 L551.66 375.59 L552.3 377.04 L552.9 379.43 L553.44 382.71 L553.91 386.83 L554.29 391.7 L554.56 397.25 L554.73 403.36 L554.79 409.92 L554.72 416.83 L554.55 423.97 L554.27 431.2 L553.88 438.42 L553.41 445.49 L552.87 452.32 L552.27 458.8 L551.63 464.84 L551.03 469.85 L551.69 464.92 L552.33 460.65 L552.93 457.05 L553.47 454.15 L553.94 451.97 L554.7 449.54 L554.78 450.99 L554.18 455.39 L553 461.58 L551.46 468.3 L552.17 465.78 L553.6 461.15 L554.58 458.55 L554.94 458.13 L554.62 459.69 L553.7 462.77 L552.32 466.71 L551.29 469.4 L552.85 465.79 L554.12 463.16 L554.9 461.81 L555.08 461.81 L554.63 463.03 L553.64 465.17 L552.25 467.85 L551.32 469.55 L552.85 467.04 L554.13 465.12 L554.99 464 L555.32 463.74 L555.09 464.31 L554.33 465.55 L553.17 467.25 L551.73 469.17 L551.79 469.13 L553.22 467.47 L554.41 466.21 L555.23 465.44 L555.61 465.19 L555.52 465.45 L554.99 466.14 L554.08 467.14 L552.9 468.34 L551.55 469.61 L551.85 469.37 L553.17 468.3 L554.31 467.44 L555.2 466.84 L555.78 466.52 L556.03 466.47 L555.96 466.66 L555.57 467.04 L554.92 467.57 L554.06 468.2 L553.05 468.88 L551.95 469.55 L551.17 470 L552.27 469.43 L553.3 468.94 L554.22 468.55 L555 468.25 L555.63 468.06 L556.09 467.96 L556.41 467.94 L556.57 467.99 L556.59 468.09 L556.49 468.23 L556.29 468.4 L556 468.59 L555.65 468.78 L555.26 468.98 L554.83 469.16 L554.39 469.33 L553.95 469.48 L553.51 469.62 L553.1 469.74 L552.71 469.84 L552.36 469.91 L552.04 469.98 L551.76 470.02 L551.52 470.06 L551.33 470.08 L551.18 470.09 L551.07 470.1 L551.01 470.1" stroke="#0072BD" stroke-width="1.5" fill="none" stroke-linejoin="round"/>
<path d="M551 470.1 L550.97 470.1 L550.87 470.1 L550.72 470.09 L550.5 470.06 L550.22 470.03 L549.88 469.98 L549.49 469.91 L549.05 469.83 L548.56 469.71 L548.04 469.58 L547.49 469.42 L546.92 469.23 L546.35 469.03 L545.79 468.8 L545.27 468.56 L544.8 468.32 L544.4 468.08 L544.1 467.86 L543.92 467.66 L543.89 467.51 L544.01 467.42 L544.31 467.4 L544.8 467.47 L545.47 467.64 L546.33 467.92 L547.35 468.32 L548.51 468.83 L549.76 469.44 L550.94 470.07 L549.65 469.32 L548.44 468.56 L547.36 467.83 L546.5 467.18 L545.9 466.66 L545.62 466.33 L545.68 466.23 L546.08 466.39 L546.82 466.83 L547.84 467.54 L549.08 468.49 L550.43 469.61 L550.2 469.38 L548.93 468.17 L547.89 467.1 L547.16 466.26 L546.81 465.76 L546.89 465.69 L547.37 466.07 L548.22 466.9 L549.33 468.12 L550.59 469.6 L550.15 469.01 L549.04 467.5 L548.21 466.26 L547.76 465.47 L547.73 465.25 L548.13 465.67 L548.88 466.71 L549.89 468.25 L551 470.1 L549.94 468.2 L549.09 466.51 L548.57 465.32 L548.43 464.82 L548.68 465.13 L549.28 466.24 L550.11 468 L550.98 470.05 L550.13 467.83 L549.48 465.92 L549.13 464.67 L549.12 464.3 L549.42 464.94 L549.97 466.5 L550.64 468.76 L550.69 468.86 L550.15 466.41 L549.82 464.55 L549.74 463.64 L549.91 463.89 L550.24 465.32 L550.66 467.71 L550.93 469.55 L550.63 466.58 L550.48 464.15 L550.49 462.75 L550.61 462.7 L550.79 464.07 L550.94 466.68 L551 470.1 L551.06 466.49 L551.23 463.37 L551.46 461.37 L551.64 460.94 L551.69 462.25 L551.52 465.19 L551.1 469.29 L551.53 466.34 L552.26 462.12 L552.94 459.07 L553.38 457.85 L553.39 458.85 L552.85 462.09 L551.72 467.2 L551.9 466.74 L553.8 460.32 L555.66 454.84 L557.09 451.37 L557.66 450.77 L557 453.62 L554.85 460.06 L551.11 469.83 L552.82 465.68 L554.99 460.62 L557.36 455.26 L559.93 449.67 L562.65 443.93 L565.51 438.11 L568.46 432.31 L571.47 426.6 L574.49 421.06 L577.5 415.77 L580.44 410.8 L583.27 406.22 L585.95 402.09 L588.45 398.46 L590.73 395.38 L592.75 392.88 L594.49 391 L595.91 389.74 L597.01 389.11 L597.75 389.13 L598.13 389.76 L598.15 391 L597.8 392.82 L597.09 395.18 L596.02 398.04 L594.62 401.36 L592.9 405.08 L590.88 409.15 L588.6 413.51 L586.07 418.1 L583.35 422.86 L580.45 427.73 L577.42 432.65 L574.29 437.57 L571.11 442.42 L567.91 447.16 L564.73 451.75 L561.6 456.14 L558.55 460.29 L555.63 464.17 L552.86 467.76 L551.75 469.17 L554.15 466.23 L559.19 460.41 L562.69 456.75 L564.59 455.12 L564.96 455.24 L563.97 456.76 L561.9 459.27 L559.05 462.38 L555.75 465.7 L552.31 468.93 L552.97 468.4 L555.87 466.04 L558.21 464.31 L559.88 463.21 L560.84 462.74 L561.09 462.82 L560.69 463.36 L559.74 464.25 L558.34 465.37 L556.61 466.62 L554.68 467.9 L552.68 469.14 L551.3 469.93 L553.17 468.96 L554.86 468.15 L556.32 467.53 L557.51 467.09 L558.44 466.82 L559.09 466.7 L559.48 466.71 L559.64 466.82 L559.58 467.01 L559.35 467.26 L558.96 467.54 L558.47 467.85 L557.89 468.15 L557.25 468.45 L556.58 468.73 L555.91 468.99 L555.24 469.21 L554.6 469.41 L553.99 469.58 L553.43 469.72 L552.91 469.84 L552.46 469.93 L552.06 469.99 L551.73 470.04 L551.46 470.07 L551.25 470.09 L551.1 470.1 L551.02 470.1" stroke="#D95319" stroke-width="1.5" fill="none" stroke-linejoin="round"/>
<path d="M544.87 470.1 L544.87 469.99 L544.87 469.89 L544.87 469.78 L544.87 469.67 L544.89 469.57 L544.91 469.46 L544.95 469.36 L545.02 469.26 L545.12 469.17 L545.25 469.09 L545.44 469.02 L545.68 468.97 L545.99 468.94 L546.36 468.94 L546.81 468.98 L547.34 469.05 L547.95 469.17 L548.64 469.33 L549.4 469.55 L550.22 469.82 L550.91 470.07 L550.03 469.71 L549.15 469.31 L548.3 468.9 L547.53 468.48 L546.86 468.08 L546.33 467.72 L545.99 467.43 L545.85 467.24 L545.94 467.18 L546.28 467.27 L546.86 467.52 L547.67 467.94 L548.67 468.53 L549.81 469.27 L550.98 470.08 L549.77 469.17 L548.65 468.26 L547.7 467.43 L547.01 466.75 L546.64 466.31 L546.63 466.16 L546.99 466.36 L547.7 466.91 L548.71 467.81 L549.92 468.98 L550.77 469.86 L549.51 468.45 L548.42 467.13 L547.63 466.08 L547.22 465.43 L547.25 465.3 L547.72 465.75 L548.58 466.77 L549.72 468.27 L551 470.1 L549.75 468.17 L548.69 466.41 L547.97 465.06 L547.69 464.37 L547.88 464.47 L548.52 465.43 L549.5 467.15 L550.68 469.44 L550.13 468.24 L549.11 465.87 L548.43 464.04 L548.17 463.1 L548.38 463.28 L549.01 464.64 L549.94 467.03 L550.99 470.07 L549.98 466.75 L549.19 463.79 L548.77 461.76 L548.76 461.1 L549.14 462.05 L549.83 464.6 L550.67 468.41 L550.51 467.3 L549.86 462.92 L549.51 459.47 L549.48 457.74 L549.75 458.24 L550.22 461.15 L550.73 466.24 L550.86 467.4 L550.66 460.4 L550.72 454.25 L551 450.27 L551.36 449.62 L551.59 453.12 L551.47 461.07 L551.28 465.45 L551.02 469.75 L551.43 464.18 L551.96 458.11 L552.61 451.65 L553.39 444.87 L554.27 437.89 L555.27 430.81 L556.36 423.76 L557.54 416.85 L558.78 410.2 L560.07 403.92 L561.37 398.12 L562.68 392.9 L563.95 388.34 L565.17 384.54 L566.3 381.54 L567.32 379.4 L568.21 378.16 L568.94 377.83 L569.49 378.41 L569.85 379.88 L570 382.23 L569.94 385.39 L569.65 389.3 L569.15 393.91 L568.44 399.11 L567.52 404.83 L566.41 410.96 L565.12 417.39 L563.69 424.02 L562.14 430.75 L560.48 437.46 L558.76 444.06 L557.01 450.45 L555.25 456.55 L553.52 462.26 L551.84 467.53 L551.74 467.9 L553.21 463.68 L554.54 460.05 L555.71 457.02 L556.7 454.61 L558.32 451.23 L558.67 451.32 L557.82 454.2 L556 458.97 L553.56 464.67 L551.12 469.86 L553.63 464.98 L555.64 461.45 L556.9 459.55 L557.27 459.32 L556.77 460.57 L555.5 462.95 L553.68 466.01 L551.56 469.28 L552.57 467.88 L554.45 465.39 L555.86 463.7 L556.66 462.91 L556.79 463.01 L556.26 463.88 L555.17 465.34 L553.66 467.17 L551.9 469.14 L551.91 469.16 L553.6 467.52 L555.02 466.25 L556.04 465.43 L556.61 465.08 L556.7 465.18 L556.33 465.66 L555.55 466.44 L554.45 467.42 L553.13 468.51 L551.69 469.61 L551.77 469.56 L553.15 468.66 L554.38 467.92 L555.39 467.38 L556.14 467.03 L556.63 466.88 L556.84 466.89 L556.79 467.05 L556.5 467.32 L556.01 467.68 L555.36 468.09 L554.58 468.52 L553.72 468.96 L552.81 469.37 L551.89 469.76 L551.01 470.1 L551.88 469.8 L552.69 469.56 L553.43 469.37 L554.09 469.22 L554.68 469.13 L555.19 469.07 L555.62 469.05 L555.97 469.06 L556.26 469.1 L556.5 469.15 L556.68 469.22 L556.82 469.3 L556.92 469.39 L557 469.49 L557.05 469.59 L557.08 469.7 L557.11 469.8 L557.12 469.91 L557.13 470.01" stroke="#EDB120" stroke-width="1.5" fill="none" stroke-linejoin="round"/>
<path d="M547.63 470.1 L547.61 470.04 L547.56 469.98 L547.47 469.92 L547.35 469.84 L547.2 469.77 L547.02 469.68 L546.82 469.59 L546.6 469.48 L546.37 469.37 L546.14 469.24 L545.92 469.11 L545.71 468.98 L545.54 468.84 L545.4 468.7 L545.33 468.58 L545.33 468.47 L545.41 468.39 L545.58 468.34 L545.87 468.33 L546.27 468.38 L546.8 468.49 L547.45 468.66 L548.21 468.92 L549.07 469.24 L550.02 469.64 L550.98 470.09 L549.96 469.57 L548.97 469.02 L548.05 468.46 L547.25 467.93 L546.62 467.47 L546.21 467.11 L546.06 466.89 L546.18 466.85 L546.6 467.02 L547.3 467.41 L548.24 468.02 L549.37 468.83 L550.63 469.8 L550.09 469.34 L548.89 468.26 L547.85 467.27 L547.1 466.46 L546.69 465.93 L546.68 465.78 L547.08 466.04 L547.86 466.73 L548.96 467.83 L550.26 469.25 L550.37 469.35 L549.08 467.73 L548.03 466.29 L547.33 465.23 L547.09 464.72 L547.34 464.87 L548.04 465.72 L549.13 467.22 L550.44 469.21 L550.18 468.74 L548.95 466.54 L548.02 464.72 L547.54 463.59 L547.58 463.38 L548.13 464.21 L549.1 466.03 L550.35 468.64 L550.33 468.51 L549.14 465.5 L548.28 463.03 L547.9 461.57 L548.03 461.49 L548.67 462.92 L549.68 465.77 L550.88 469.67 L549.95 466.17 L549 462.09 L548.46 459.08 L548.39 457.83 L548.8 458.78 L549.58 462.05 L550.56 467.34 L550.46 466.26 L549.69 459.41 L549.26 453.56 L549.24 450.02 L549.59 449.91 L550.16 454.01 L550.4 456.9 L550.63 460.51 L550.83 464.8 L550.99 469.73 L550.91 464.95 L550.88 458.9 L550.94 452.43 L551.09 445.62 L551.33 438.57 L551.68 431.4 L552.12 424.23 L552.66 417.18 L553.29 410.37 L554.01 403.91 L554.78 397.92 L555.61 392.51 L556.47 387.76 L557.34 383.78 L558.2 380.62 L559.03 378.34 L559.8 376.99 L560.5 376.58 L561.1 377.12 L561.59 378.6 L561.94 380.98 L562.15 384.23 L562.21 388.27 L562.11 393.03 L561.84 398.44 L561.41 404.38 L560.83 410.75 L560.1 417.44 L559.23 424.35 L558.25 431.34 L557.18 438.31 L556.03 445.16 L554.83 451.77 L553.61 458.04 L552.38 463.91 L551.19 469.28 L551.95 466.1 L553.02 461.89 L553.98 458.31 L554.83 455.39 L555.55 453.13 L556.67 450.34 L556.78 451.21 L555.93 454.94 L554.31 460.49 L552.22 466.74 L551.98 467.55 L553.95 462.8 L555.39 459.76 L556.1 458.65 L556 459.38 L555.14 461.62 L553.67 464.86 L551.83 468.54 L552.1 468.12 L553.84 465.19 L555.15 463.19 L555.87 462.3 L555.93 462.51 L555.33 463.68 L554.18 465.56 L552.63 467.85 L551.1 469.97 L552.8 467.8 L554.27 466.06 L555.35 464.91 L555.95 464.41 L556 464.55 L555.53 465.24 L554.61 466.37 L553.34 467.76 L551.86 469.27 L551.68 469.46 L553.15 468.17 L554.42 467.13 L555.39 466.41 L556.01 466.04 L556.25 466 L556.11 466.25 L555.62 466.75 L554.83 467.42 L553.81 468.2 L552.65 469.03 L551.41 469.84 L551.83 469.6 L553 468.94 L554.06 468.4 L554.96 468 L555.67 467.72 L556.18 467.57 L556.49 467.54 L556.61 467.6 L556.55 467.75 L556.33 467.95 L555.98 468.19 L555.52 468.46 L554.98 468.73 L554.38 469 L553.75 469.26 L553.1 469.5 L552.46 469.71 L551.84 469.89 L551.25 470.04 L551.31 470.03 L551.82 469.94 L552.28 469.87 L552.7 469.83 L553.07 469.81 L553.38 469.81 L553.65 469.82 L553.88 469.85 L554.06 469.89 L554.19 469.93 L554.29 469.99 L554.35 470.04 L554.37 470.1" stroke="#7E2F8E" stroke-width="1.5" fill="none" stroke-linejoin="round"/>
<path d="M543.17 470.1 L543.17 469.96 L543.15 469.83 L543.13 469.69 L543.09 469.55 L543.06 469.41 L543.03 469.26 L543.01 469.12 L543.01 468.98 L543.04 468.84 L543.1 468.71 L543.22 468.59 L543.39 468.48 L543.63 468.4 L543.96 468.34 L544.38 468.33 L544.9 468.35 L545.52 468.43 L546.26 468.56 L547.11 468.76 L548.06 469.03 L549.11 469.37 L550.24 469.79 L550.59 469.92 L549.38 469.38 L548.2 468.79 L547.06 468.18 L546.04 467.57 L545.16 467 L544.49 466.49 L544.07 466.1 L543.93 465.85 L544.11 465.8 L544.62 465.96 L545.46 466.36 L546.6 467.02 L547.99 467.91 L549.56 469.02 L550.76 469.91 L549.09 468.55 L547.54 467.2 L546.22 465.95 L545.25 464.92 L544.71 464.23 L544.65 463.97 L545.11 464.21 L546.07 464.99 L547.45 466.29 L549.15 468.05 L550.98 470.08 L549.12 467.85 L547.44 465.7 L546.13 463.86 L545.33 462.57 L545.13 462.02 L545.58 462.36 L546.63 463.62 L548.18 465.76 L550.06 468.59 L549.96 468.37 L548.12 465.11 L546.65 462.25 L545.73 460.2 L545.51 459.33 L546.02 459.88 L547.19 461.93 L548.88 465.33 L550.85 469.74 L549.17 465.57 L547.46 460.88 L546.28 457.13 L545.8 454.98 L546.09 454.99 L547.12 457.42 L548.74 462.2 L550.69 468.93 L549.33 463.41 L547.63 455.49 L546.47 448.8 L546.05 444.64 L546.43 444.17 L547.54 448.24 L549.19 457.24 L549.95 462.2 L550.72 467.9 L550.62 466.89 L550.04 461.51 L549.49 455.72 L548.99 449.58 L548.55 443.19 L548.19 436.62 L547.91 429.97 L547.73 423.33 L547.65 416.8 L547.67 410.48 L547.79 404.47 L548.01 398.86 L548.33 393.73 L548.74 389.17 L549.22 385.26 L549.77 382.05 L550.37 379.59 L551 377.94 L551.65 377.11 L552.3 377.11 L552.93 377.96 L553.53 379.62 L554.07 382.09 L554.55 385.31 L554.96 389.23 L555.27 393.79 L555.48 398.91 L555.59 404.52 L555.58 410.53 L555.47 416.83 L555.25 423.35 L554.93 429.97 L554.52 436.6 L554.02 443.15 L553.45 449.52 L553.38 451.29 L552.51 458.79 L551.61 465.77 L551.3 468.07 L552.19 462.39 L553.05 457.43 L554.9 448.43 L556.11 444.31 L556.49 444.69 L556.01 448.74 L554.74 455.31 L552.89 463.13 L551.24 469.27 L553.33 462.56 L555.07 457.72 L556.19 455.18 L556.55 455.03 L556.08 456.99 L554.89 460.58 L553.13 465.13 L551.07 469.94 L553 465.86 L554.8 462.38 L556.09 460.2 L556.71 459.45 L556.59 460.09 L555.76 461.92 L554.33 464.59 L552.5 467.72 L551.52 469.3 L553.48 466.44 L555.16 464.2 L556.38 462.75 L557.01 462.18 L557.01 462.47 L556.38 463.51 L555.21 465.12 L553.63 467.1 L551.8 469.22 L552.1 468.93 L553.9 467.12 L555.45 465.68 L556.62 464.71 L557.34 464.23 L557.57 464.22 L557.31 464.65 L556.6 465.44 L555.5 466.48 L554.12 467.68 L552.55 468.94 L551.1 470.03 L552.73 468.9 L554.24 467.93 L555.58 467.15 L556.67 466.58 L557.49 466.23 L558.01 466.09 L558.23 466.13 L558.17 466.32 L557.85 466.64 L557.3 467.05 L556.57 467.53 L555.69 468.03 L554.71 468.54 L553.67 469.03 L552.6 469.49 L551.53 469.91 L551.51 469.92 L552.5 469.62 L553.43 469.37 L554.27 469.17 L555.04 469.03 L555.71 468.94 L556.31 468.89 L556.81 468.89 L557.25 468.91 L557.61 468.96 L557.91 469.03 L558.15 469.12 L558.34 469.22 L558.49 469.34 L558.61 469.46 L558.7 469.59 L558.76 469.72 L558.8 469.85 L558.82 469.99" stroke="#0072BD" stroke-width="1.6" fill="none" stroke-dasharray="3 2"/>
<path d="M543.94 470.1 L543.96 469.98 L544.01 469.86 L544.09 469.74 L544.21 469.62 L544.36 469.52 L544.56 469.42 L544.81 469.34 L545.11 469.27 L545.47 469.22 L545.89 469.2 L546.38 469.2 L546.94 469.24 L547.57 469.31 L548.28 469.42 L549.06 469.58 L549.9 469.78 L550.8 470.04 L550.26 469.86 L549.29 469.51 L548.31 469.12 L547.36 468.7 L546.45 468.26 L545.63 467.82 L544.93 467.4 L544.39 467.02 L544.03 466.7 L543.9 466.48 L544.01 466.38 L544.39 466.43 L545.03 466.65 L545.94 467.06 L547.08 467.65 L548.41 468.42 L549.88 469.35 L550.58 469.81 L549.06 468.69 L547.65 467.57 L546.44 466.54 L545.52 465.66 L544.97 465.04 L544.84 464.74 L545.15 464.84 L545.9 465.35 L547.05 466.28 L548.51 467.61 L550.16 469.23 L550.12 469.16 L548.49 467.32 L547.12 465.63 L546.12 464.28 L545.61 463.45 L545.65 463.26 L546.25 463.79 L547.34 465.06 L548.82 466.98 L550.52 469.38 L549.75 468.18 L548.19 465.61 L546.99 463.43 L546.31 461.97 L546.21 461.47 L546.73 462.07 L547.79 463.8 L549.25 466.52 L550.92 469.93 L549.44 466.6 L548.06 463.17 L547.12 460.49 L546.76 459.05 L547.02 459.17 L547.86 460.98 L549.13 464.36 L550.64 468.94 L549.85 466.08 L548.58 461.06 L547.74 457.01 L547.45 454.71 L547.73 454.73 L548.52 457.35 L549.65 462.45 L550.91 469.54 L549.93 462.5 L549.08 454.47 L548.67 447.92 L548.73 444.2 L549.21 444.47 L549.92 449.49 L550.22 452.9 L550.5 457.12 L550.75 462.1 L550.94 467.82 L550.94 466.93 L550.91 461.54 L550.95 455.75 L551.07 449.63 L551.28 443.27 L551.58 436.74 L551.98 430.14 L552.46 423.58 L553.03 417.13 L553.69 410.92 L554.41 405.02 L555.19 399.53 L556.02 394.53 L556.87 390.11 L557.74 386.33 L558.6 383.25 L559.43 380.91 L560.22 379.36 L560.94 378.62 L561.58 378.69 L562.12 379.57 L562.54 381.25 L562.84 383.7 L562.99 386.86 L563.01 390.7 L562.87 395.14 L562.58 400.12 L562.15 405.56 L561.57 411.37 L560.85 417.46 L560.01 423.75 L559.06 430.13 L558.01 436.52 L556.89 442.84 L555.72 448.98 L555.57 450.32 L553.98 457.58 L552.41 464.35 L551.11 469.66 L552.57 464.09 L553.92 459.2 L556.73 450.11 L558.5 445.58 L559.07 445.28 L558.45 448.48 L556.8 454.18 L554.4 461.25 L551.62 468.57 L553.15 465.04 L555.53 459.93 L557.23 456.75 L558.04 455.66 L557.91 456.54 L556.88 459.05 L555.11 462.69 L552.86 466.88 L551.58 469.13 L553.92 465.43 L555.87 462.6 L557.23 460.87 L557.86 460.3 L557.72 460.85 L556.85 462.33 L555.38 464.5 L553.47 467.05 L551.33 469.71 L552.82 468.01 L554.77 465.91 L556.36 464.35 L557.45 463.42 L557.98 463.12 L557.92 463.42 L557.3 464.23 L556.2 465.42 L554.73 466.86 L553.01 468.42 L551.17 469.96 L552.66 468.8 L554.36 467.57 L555.83 466.59 L557 465.9 L557.83 465.49 L558.28 465.37 L558.37 465.49 L558.12 465.82 L557.55 466.32 L556.72 466.93 L555.69 467.61 L554.51 468.31 L553.23 469.01 L551.93 469.67 L551.37 469.93 L552.63 469.41 L553.79 468.97 L554.86 468.62 L555.8 468.35 L556.62 468.17 L557.3 468.05 L557.85 468.01 L558.28 468.01 L558.59 468.07 L558.81 468.15 L558.93 468.27 L558.98 468.4 L558.98 468.55 L558.92 468.7 L558.83 468.86 L558.72 469.01 L558.6 469.17 L558.48 469.31 L558.36 469.46 L558.26 469.59 L558.17 469.72 L558.11 469.85 L558.07 469.98 L558.06 470.1" stroke="#7E2F8E" stroke-width="1.6" fill="none" stroke-dasharray="3 2"/>
<path d="M550.79 470.1 L550.82 470.1 L550.91 470.1 L550.94 470.1 L550.73 470.08 L550.46 470.05 L550.14 470.01 L549.76 469.95 L549.32 469.86 L548.84 469.76 L548.32 469.63 L547.76 469.47 L547.18 469.29 L546.58 469.08 L545.98 468.85 L545.4 468.6 L544.85 468.34 L544.36 468.07 L543.94 467.81 L543.62 467.56 L543.43 467.34 L543.38 467.18 L543.5 467.07 L543.8 467.04 L544.3 467.11 L544.99 467.3 L545.88 467.6 L546.95 468.04 L548.17 468.6 L549.51 469.28 L550.93 470.06 L549.65 469.29 L548.27 468.4 L547.02 467.52 L545.97 466.71 L545.19 466.03 L544.72 465.54 L544.62 465.3 L544.91 465.35 L545.59 465.72 L546.62 466.43 L547.95 467.45 L549.49 468.74 L550.88 469.98 L549.27 468.43 L547.81 466.91 L546.65 465.59 L545.87 464.6 L545.56 464.06 L545.76 464.07 L546.46 464.68 L547.58 465.88 L549.03 467.58 L550.66 469.64 L549.71 468.33 L548.25 466.18 L547.13 464.37 L546.48 463.14 L546.37 462.69 L546.81 463.13 L547.76 464.48 L549.08 466.63 L550.61 469.36 L549.86 467.86 L548.52 465.01 L547.55 462.71 L547.09 461.31 L547.18 461.1 L547.8 462.19 L548.86 464.51 L550.17 467.83 L550.45 468.49 L549.21 464.6 L548.31 461.29 L547.86 459.14 L547.91 458.58 L548.44 459.85 L549.33 462.88 L550.42 467.36 L550.5 467.52 L549.6 462.16 L549.03 457.63 L548.85 454.78 L549.06 454.27 L549.57 456.45 L550.23 461.25 L550.87 468.21 L550.67 463.78 L550.49 455.52 L550.62 448.61 L551 444.41 L551.45 444.1 L551.75 448.49 L551.64 457.87 L551.42 462.97 L551.09 468.79 L551.29 466.14 L551.75 460.72 L552.33 454.92 L553.01 448.82 L553.8 442.5 L554.7 436.05 L555.69 429.55 L556.77 423.11 L557.92 416.82 L559.13 410.76 L560.38 405.04 L561.64 399.73 L562.91 394.93 L564.15 390.69 L565.34 387.09 L566.46 384.17 L567.49 381.98 L568.41 380.55 L569.19 379.89 L569.82 380.02 L570.28 380.93 L570.56 382.59 L570.65 384.98 L570.55 388.05 L570.24 391.76 L569.74 396.04 L569.04 400.83 L568.16 406.05 L567.11 411.62 L565.9 417.46 L564.54 423.48 L563.07 429.6 L561.51 435.73 L559.87 441.8 L558.19 447.72 L558.13 448.42 L555.93 455.47 L553.77 462.06 L551.69 468.15 L552.28 466.54 L554.11 461.64 L557.92 452.26 L560.4 447.07 L561.39 445.85 L560.94 447.99 L559.21 452.64 L556.54 458.84 L553.31 465.6 L552.03 468.18 L555.08 462.79 L557.5 458.94 L559.02 456.85 L559.54 456.54 L559.04 457.81 L557.64 460.33 L555.54 463.66 L553.01 467.36 L551.68 469.21 L554.22 466.01 L556.37 463.52 L557.94 461.89 L558.81 461.18 L558.92 461.36 L558.32 462.3 L557.09 463.84 L555.37 465.76 L553.32 467.88 L551.13 469.98 L553.03 468.28 L555 466.65 L556.65 465.39 L557.88 464.57 L558.64 464.18 L558.9 464.19 L558.7 464.55 L558.06 465.2 L557.05 466.05 L555.75 467.04 L554.25 468.08 L552.64 469.12 L551 470.1 L552.61 469.22 L554.1 468.46 L555.45 467.85 L556.6 467.39 L557.55 467.07 L558.27 466.89 L558.78 466.83 L559.07 466.87 L559.17 467 L559.09 467.19 L558.87 467.42 L558.52 467.69 L558.07 467.97 L557.55 468.25 L556.98 468.52 L556.37 468.78 L555.76 469.02 L555.16 469.23 L554.57 469.42 L554.01 469.58 L553.49 469.71 L553.02 469.82 L552.59 469.91 L552.22 469.98 L551.9 470.02 L551.65 470.06 L551.45 470.08 L551.31 470.09 L551.23 470.1" stroke="#EDB120" stroke-width="1.6" fill="none" stroke-dasharray="3 2"/>
<path d="M541.42 470.1 L541.45 469.93 L541.53 469.77 L541.66 469.61 L541.85 469.46 L542.1 469.32 L542.42 469.2 L542.81 469.09 L543.27 469.01 L543.82 468.96 L544.45 468.95 L545.18 468.97 L545.99 469.04 L546.9 469.15 L547.89 469.33 L548.97 469.56 L550.12 469.85 L550.68 470 L549.45 469.6 L548.2 469.14 L546.98 468.64 L545.82 468.11 L544.75 467.57 L543.82 467.05 L543.06 466.57 L542.53 466.15 L542.25 465.83 L542.25 465.64 L542.56 465.61 L543.19 465.77 L544.11 466.12 L545.33 466.69 L546.78 467.46 L548.41 468.42 L550.15 469.53 L550.1 469.47 L548.42 468.23 L546.93 467.03 L545.71 465.97 L544.86 465.13 L544.43 464.59 L544.47 464.42 L544.97 464.67 L545.91 465.35 L547.22 466.45 L548.79 467.89 L550.49 469.58 L549.81 468.83 L548.28 467.08 L547.05 465.56 L546.24 464.42 L545.92 463.82 L546.12 463.85 L546.81 464.54 L547.92 465.86 L549.31 467.69 L550.84 469.86 L549.69 468.09 L548.44 466 L547.55 464.36 L547.12 463.38 L547.19 463.23 L547.74 463.96 L548.67 465.54 L549.86 467.77 L550.87 469.81 L549.69 467.16 L548.77 464.84 L548.21 463.2 L548.09 462.52 L548.39 462.94 L549.05 464.44 L549.94 466.85 L550.92 469.83 L550.18 467.24 L549.49 464.46 L549.1 462.47 L549.05 461.63 L549.31 462.13 L549.8 463.93 L550.42 466.82 L550.96 469.85 L550.45 466.21 L550.14 463.07 L550.04 460.97 L550.14 460.32 L550.38 461.29 L550.67 463.79 L550.91 467.5 L550.97 468.37 L551 464.1 L551.17 460.63 L551.4 458.57 L551.61 458.37 L551.7 460.16 L551.55 463.76 L551.15 468.69 L551.5 465.99 L552.31 460.76 L553.12 456.7 L553.74 454.56 L553.96 454.86 L553.63 457.73 L552.65 462.94 L551.05 469.9 L553.03 462.53 L555.31 455.07 L557.43 449.08 L558.94 445.66 L559.42 445.66 L558.47 449.59 L555.82 457.54 L551.37 469.19 L552.91 465.47 L555.45 459.5 L556.57 457.09 L558.9 452.03 L561.37 446.81 L563.97 441.51 L566.67 436.19 L569.44 430.92 L572.25 425.75 L575.07 420.76 L577.86 416 L580.58 411.53 L583.22 407.41 L585.73 403.67 L588.07 400.37 L590.23 397.54 L592.18 395.2 L593.88 393.38 L595.32 392.09 L596.47 391.34 L597.33 391.13 L597.88 391.46 L598.11 392.3 L598.03 393.65 L597.63 395.48 L596.92 397.75 L595.9 400.43 L594.59 403.49 L593 406.88 L591.16 410.56 L589.08 414.48 L586.79 418.6 L584.32 422.86 L581.69 427.23 L578.93 431.65 L576.08 436.09 L573.15 440.49 L575.95 437.23 L572.09 442.71 L568.27 448 L564.5 453.06 L560.84 457.86 L557.31 462.36 L552.75 468.03 L559.42 460.48 L564.46 455.26 L567.74 452.28 L569.27 451.31 L569.19 452.04 L567.7 454.09 L565.08 457.06 L561.66 460.57 L557.76 464.27 L553.68 467.87 L552.28 469.07 L555.9 466.3 L558.99 464.12 L561.43 462.58 L563.15 461.65 L564.13 461.31 L564.4 461.46 L564.02 462.03 L563.07 462.9 L561.66 463.99 L559.89 465.21 L557.88 466.47 L555.73 467.71 L553.53 468.88 L551.37 469.93 L552.7 469.35 L554.61 468.58 L556.33 467.97 L557.83 467.5 L559.12 467.18 L560.18 466.98 L561.02 466.88 L561.66 466.88 L562.11 466.96 L562.4 467.09 L562.55 467.26 L562.58 467.47 L562.52 467.69 L562.39 467.93 L562.2 468.16 L561.98 468.4 L561.75 468.63 L561.51 468.85 L561.28 469.06 L561.08 469.25 L560.9 469.44 L560.75 469.62 L560.65 469.8 L560.59 469.97" stroke="#D95319" stroke-width="1.6" fill="none" stroke-dasharray="3 2"/>
<text x="551" y="370" font-size="7" fill="#222" font-family="'Liberation Sans',sans-serif" text-anchor="middle">0</text>
<text x="494.3" y="382.3" font-size="7" fill="#222" font-family="'Liberation Sans',sans-serif" text-anchor="middle">-30</text>
<text x="457.4" y="418.4" font-size="7" fill="#222" font-family="'Liberation Sans',sans-serif" text-anchor="middle">-60</text>
<text x="445.3" y="469.3" font-size="7" fill="#222" font-family="'Liberation Sans',sans-serif" text-anchor="middle">-90</text>
<text x="607" y="382.4" font-size="7" fill="#222" font-family="'Liberation Sans',sans-serif" text-anchor="middle">30</text>
<text x="644.6" y="418.6" font-size="7" fill="#222" font-family="'Liberation Sans',sans-serif" text-anchor="middle">60</text>
<text x="656.4" y="469.4" font-size="7" fill="#222" font-family="'Liberation Sans',sans-serif" text-anchor="middle">90</text>
<text x="551.6" y="481.8" font-size="11.5" fill="#000" font-family="'Liberation Sans',sans-serif" text-anchor="middle">0</text>
<text x="578.4" y="481.8" font-size="11.5" fill="#000" font-family="'Liberation Sans',sans-serif" text-anchor="middle">0.3</text>
<text x="611.7" y="481.8" font-size="11.5" fill="#000" font-family="'Liberation Sans',sans-serif" text-anchor="middle">0.6</text>
<text x="643.9" y="481.8" font-size="11.5" fill="#000" font-family="'Liberation Sans',sans-serif" text-anchor="middle">1</text>
<text x="593.8" y="493.6" font-size="11.5" fill="#000" font-family="'Liberation Sans',sans-serif" text-anchor="middle" textLength="53.6" lengthAdjust="spacingAndGlyphs">Amplitude</text>
<text x="472.6" y="400.3" font-size="12" fill="#000" font-family="'Liberation Sans',sans-serif" text-anchor="middle" font-weight="bold">(k)</text>
</svg>
</body></html>
